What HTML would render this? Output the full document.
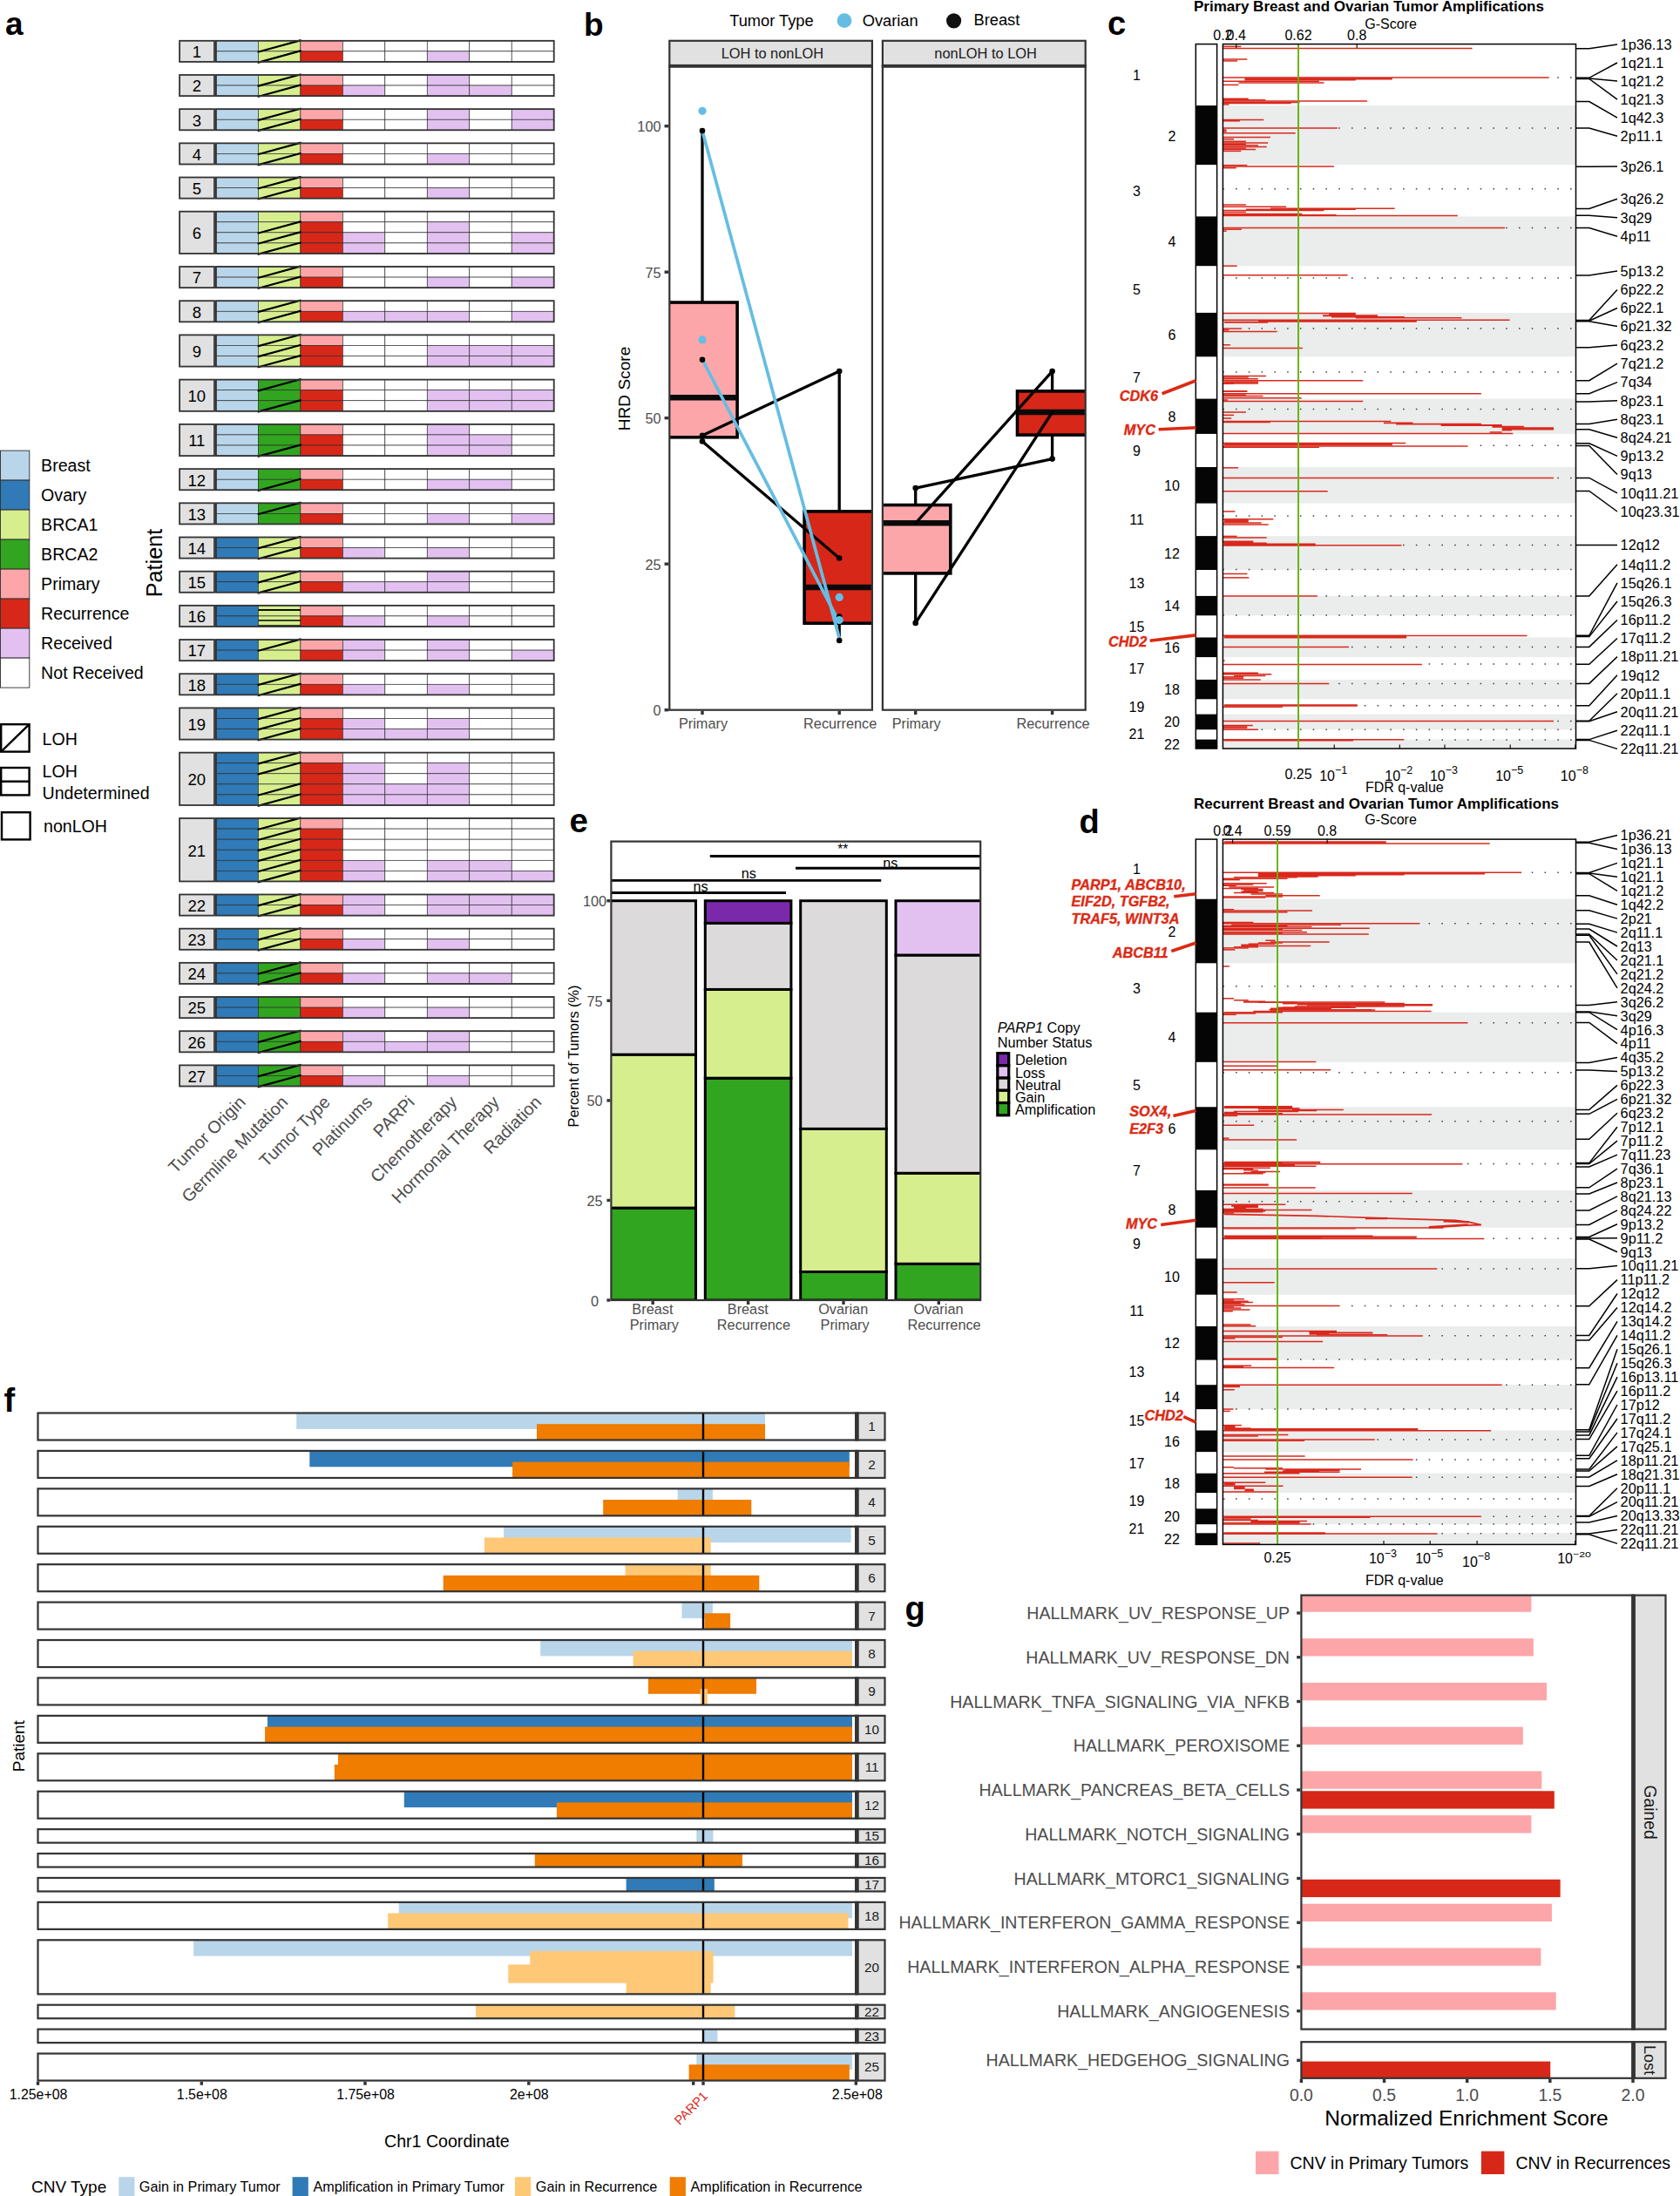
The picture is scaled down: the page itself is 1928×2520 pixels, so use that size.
<!DOCTYPE html>
<html><head><meta charset="utf-8"><title>Figure</title>
<style>html,body{margin:0;padding:0;background:#fff}svg{display:block}text{font-family:"Liberation Sans", Arial, Helvetica, sans-serif}</style>
</head><body>
<svg width="1928" height="2520" viewBox="0 0 1928 2520">
<rect width="1928" height="2520" fill="#fff"/>
<text x="6.0" y="39.8" font-size="37" font-weight="bold">a</text>
<rect x="206.10" y="46.80" width="39.90" height="24.13" fill="#e1e1e1" stroke="#333333" stroke-width="1.8"/>
<text x="225.8" y="66.2" font-size="18.5" text-anchor="middle">1</text>
<rect x="247.90" y="46.80" width="48.48" height="12.07" fill="#b9d5ea" stroke="#2a2a2a" stroke-width="0.65"/>
<rect x="296.38" y="46.80" width="48.48" height="12.07" fill="#d6ee8e" stroke="#2a2a2a" stroke-width="0.65"/>
<rect x="344.85" y="46.80" width="48.48" height="12.07" fill="#fda6a9" stroke="#2a2a2a" stroke-width="0.65"/>
<rect x="393.33" y="46.80" width="48.48" height="12.07" fill="#ffffff" stroke="#2a2a2a" stroke-width="0.65"/>
<rect x="441.80" y="46.80" width="48.48" height="12.07" fill="#ffffff" stroke="#2a2a2a" stroke-width="0.65"/>
<rect x="490.28" y="46.80" width="48.48" height="12.07" fill="#ffffff" stroke="#2a2a2a" stroke-width="0.65"/>
<rect x="538.75" y="46.80" width="48.48" height="12.07" fill="#ffffff" stroke="#2a2a2a" stroke-width="0.65"/>
<rect x="587.23" y="46.80" width="48.48" height="12.07" fill="#ffffff" stroke="#2a2a2a" stroke-width="0.65"/>
<rect x="247.90" y="58.87" width="48.48" height="12.07" fill="#b9d5ea" stroke="#2a2a2a" stroke-width="0.65"/>
<rect x="296.38" y="58.87" width="48.48" height="12.07" fill="#d6ee8e" stroke="#2a2a2a" stroke-width="0.65"/>
<rect x="344.85" y="58.87" width="48.48" height="12.07" fill="#d72718" stroke="#2a2a2a" stroke-width="0.65"/>
<rect x="393.33" y="58.87" width="48.48" height="12.07" fill="#ffffff" stroke="#2a2a2a" stroke-width="0.65"/>
<rect x="441.80" y="58.87" width="48.48" height="12.07" fill="#ffffff" stroke="#2a2a2a" stroke-width="0.65"/>
<rect x="490.28" y="58.87" width="48.48" height="12.07" fill="#e2c1f1" stroke="#2a2a2a" stroke-width="0.65"/>
<rect x="538.75" y="58.87" width="48.48" height="12.07" fill="#ffffff" stroke="#2a2a2a" stroke-width="0.65"/>
<rect x="587.23" y="58.87" width="48.48" height="12.07" fill="#ffffff" stroke="#2a2a2a" stroke-width="0.65"/>
<line x1="296.68" y1="59.47" x2="344.55" y2="46.40" stroke="#000" stroke-width="2.2" stroke-linecap="square"/>
<line x1="296.68" y1="71.53" x2="344.55" y2="58.47" stroke="#000" stroke-width="2.2" stroke-linecap="square"/>
<rect x="247.90" y="46.80" width="387.80" height="24.13" fill="none" stroke="#333333" stroke-width="1.8"/>
<rect x="206.10" y="85.98" width="39.90" height="24.13" fill="#e1e1e1" stroke="#333333" stroke-width="1.8"/>
<text x="225.8" y="105.3" font-size="18.5" text-anchor="middle">2</text>
<rect x="247.90" y="85.98" width="48.48" height="12.07" fill="#b9d5ea" stroke="#2a2a2a" stroke-width="0.65"/>
<rect x="296.38" y="85.98" width="48.48" height="12.07" fill="#d6ee8e" stroke="#2a2a2a" stroke-width="0.65"/>
<rect x="344.85" y="85.98" width="48.48" height="12.07" fill="#fda6a9" stroke="#2a2a2a" stroke-width="0.65"/>
<rect x="393.33" y="85.98" width="48.48" height="12.07" fill="#ffffff" stroke="#2a2a2a" stroke-width="0.65"/>
<rect x="441.80" y="85.98" width="48.48" height="12.07" fill="#ffffff" stroke="#2a2a2a" stroke-width="0.65"/>
<rect x="490.28" y="85.98" width="48.48" height="12.07" fill="#e2c1f1" stroke="#2a2a2a" stroke-width="0.65"/>
<rect x="538.75" y="85.98" width="48.48" height="12.07" fill="#ffffff" stroke="#2a2a2a" stroke-width="0.65"/>
<rect x="587.23" y="85.98" width="48.48" height="12.07" fill="#ffffff" stroke="#2a2a2a" stroke-width="0.65"/>
<rect x="247.90" y="98.05" width="48.48" height="12.07" fill="#b9d5ea" stroke="#2a2a2a" stroke-width="0.65"/>
<rect x="296.38" y="98.05" width="48.48" height="12.07" fill="#d6ee8e" stroke="#2a2a2a" stroke-width="0.65"/>
<rect x="344.85" y="98.05" width="48.48" height="12.07" fill="#d72718" stroke="#2a2a2a" stroke-width="0.65"/>
<rect x="393.33" y="98.05" width="48.48" height="12.07" fill="#e2c1f1" stroke="#2a2a2a" stroke-width="0.65"/>
<rect x="441.80" y="98.05" width="48.48" height="12.07" fill="#ffffff" stroke="#2a2a2a" stroke-width="0.65"/>
<rect x="490.28" y="98.05" width="48.48" height="12.07" fill="#e2c1f1" stroke="#2a2a2a" stroke-width="0.65"/>
<rect x="538.75" y="98.05" width="48.48" height="12.07" fill="#e2c1f1" stroke="#2a2a2a" stroke-width="0.65"/>
<rect x="587.23" y="98.05" width="48.48" height="12.07" fill="#ffffff" stroke="#2a2a2a" stroke-width="0.65"/>
<line x1="296.68" y1="98.65" x2="344.55" y2="85.58" stroke="#000" stroke-width="2.2" stroke-linecap="square"/>
<line x1="296.68" y1="110.71" x2="344.55" y2="97.65" stroke="#000" stroke-width="2.2" stroke-linecap="square"/>
<rect x="247.90" y="85.98" width="387.80" height="24.13" fill="none" stroke="#333333" stroke-width="1.8"/>
<rect x="206.10" y="125.16" width="39.90" height="24.13" fill="#e1e1e1" stroke="#333333" stroke-width="1.8"/>
<text x="225.8" y="144.5" font-size="18.5" text-anchor="middle">3</text>
<rect x="247.90" y="125.16" width="48.48" height="12.07" fill="#b9d5ea" stroke="#2a2a2a" stroke-width="0.65"/>
<rect x="296.38" y="125.16" width="48.48" height="12.07" fill="#d6ee8e" stroke="#2a2a2a" stroke-width="0.65"/>
<rect x="344.85" y="125.16" width="48.48" height="12.07" fill="#fda6a9" stroke="#2a2a2a" stroke-width="0.65"/>
<rect x="393.33" y="125.16" width="48.48" height="12.07" fill="#ffffff" stroke="#2a2a2a" stroke-width="0.65"/>
<rect x="441.80" y="125.16" width="48.48" height="12.07" fill="#ffffff" stroke="#2a2a2a" stroke-width="0.65"/>
<rect x="490.28" y="125.16" width="48.48" height="12.07" fill="#e2c1f1" stroke="#2a2a2a" stroke-width="0.65"/>
<rect x="538.75" y="125.16" width="48.48" height="12.07" fill="#ffffff" stroke="#2a2a2a" stroke-width="0.65"/>
<rect x="587.23" y="125.16" width="48.48" height="12.07" fill="#e2c1f1" stroke="#2a2a2a" stroke-width="0.65"/>
<rect x="247.90" y="137.23" width="48.48" height="12.07" fill="#b9d5ea" stroke="#2a2a2a" stroke-width="0.65"/>
<rect x="296.38" y="137.23" width="48.48" height="12.07" fill="#d6ee8e" stroke="#2a2a2a" stroke-width="0.65"/>
<rect x="344.85" y="137.23" width="48.48" height="12.07" fill="#d72718" stroke="#2a2a2a" stroke-width="0.65"/>
<rect x="393.33" y="137.23" width="48.48" height="12.07" fill="#ffffff" stroke="#2a2a2a" stroke-width="0.65"/>
<rect x="441.80" y="137.23" width="48.48" height="12.07" fill="#ffffff" stroke="#2a2a2a" stroke-width="0.65"/>
<rect x="490.28" y="137.23" width="48.48" height="12.07" fill="#e2c1f1" stroke="#2a2a2a" stroke-width="0.65"/>
<rect x="538.75" y="137.23" width="48.48" height="12.07" fill="#ffffff" stroke="#2a2a2a" stroke-width="0.65"/>
<rect x="587.23" y="137.23" width="48.48" height="12.07" fill="#e2c1f1" stroke="#2a2a2a" stroke-width="0.65"/>
<line x1="296.68" y1="137.83" x2="344.55" y2="124.76" stroke="#000" stroke-width="2.2" stroke-linecap="square"/>
<line x1="296.68" y1="149.90" x2="344.55" y2="136.83" stroke="#000" stroke-width="2.2" stroke-linecap="square"/>
<rect x="247.90" y="125.16" width="387.80" height="24.13" fill="none" stroke="#333333" stroke-width="1.8"/>
<rect x="206.10" y="164.35" width="39.90" height="24.13" fill="#e1e1e1" stroke="#333333" stroke-width="1.8"/>
<text x="225.8" y="183.7" font-size="18.5" text-anchor="middle">4</text>
<rect x="247.90" y="164.35" width="48.48" height="12.07" fill="#b9d5ea" stroke="#2a2a2a" stroke-width="0.65"/>
<rect x="296.38" y="164.35" width="48.48" height="12.07" fill="#d6ee8e" stroke="#2a2a2a" stroke-width="0.65"/>
<rect x="344.85" y="164.35" width="48.48" height="12.07" fill="#fda6a9" stroke="#2a2a2a" stroke-width="0.65"/>
<rect x="393.33" y="164.35" width="48.48" height="12.07" fill="#ffffff" stroke="#2a2a2a" stroke-width="0.65"/>
<rect x="441.80" y="164.35" width="48.48" height="12.07" fill="#ffffff" stroke="#2a2a2a" stroke-width="0.65"/>
<rect x="490.28" y="164.35" width="48.48" height="12.07" fill="#ffffff" stroke="#2a2a2a" stroke-width="0.65"/>
<rect x="538.75" y="164.35" width="48.48" height="12.07" fill="#ffffff" stroke="#2a2a2a" stroke-width="0.65"/>
<rect x="587.23" y="164.35" width="48.48" height="12.07" fill="#ffffff" stroke="#2a2a2a" stroke-width="0.65"/>
<rect x="247.90" y="176.41" width="48.48" height="12.07" fill="#b9d5ea" stroke="#2a2a2a" stroke-width="0.65"/>
<rect x="296.38" y="176.41" width="48.48" height="12.07" fill="#d6ee8e" stroke="#2a2a2a" stroke-width="0.65"/>
<rect x="344.85" y="176.41" width="48.48" height="12.07" fill="#d72718" stroke="#2a2a2a" stroke-width="0.65"/>
<rect x="393.33" y="176.41" width="48.48" height="12.07" fill="#ffffff" stroke="#2a2a2a" stroke-width="0.65"/>
<rect x="441.80" y="176.41" width="48.48" height="12.07" fill="#ffffff" stroke="#2a2a2a" stroke-width="0.65"/>
<rect x="490.28" y="176.41" width="48.48" height="12.07" fill="#e2c1f1" stroke="#2a2a2a" stroke-width="0.65"/>
<rect x="538.75" y="176.41" width="48.48" height="12.07" fill="#ffffff" stroke="#2a2a2a" stroke-width="0.65"/>
<rect x="587.23" y="176.41" width="48.48" height="12.07" fill="#ffffff" stroke="#2a2a2a" stroke-width="0.65"/>
<line x1="296.68" y1="177.01" x2="344.55" y2="163.95" stroke="#000" stroke-width="2.2" stroke-linecap="square"/>
<line x1="296.68" y1="189.08" x2="344.55" y2="176.01" stroke="#000" stroke-width="2.2" stroke-linecap="square"/>
<rect x="247.90" y="164.35" width="387.80" height="24.13" fill="none" stroke="#333333" stroke-width="1.8"/>
<rect x="206.10" y="203.53" width="39.90" height="24.13" fill="#e1e1e1" stroke="#333333" stroke-width="1.8"/>
<text x="225.8" y="222.9" font-size="18.5" text-anchor="middle">5</text>
<rect x="247.90" y="203.53" width="48.48" height="12.07" fill="#b9d5ea" stroke="#2a2a2a" stroke-width="0.65"/>
<rect x="296.38" y="203.53" width="48.48" height="12.07" fill="#d6ee8e" stroke="#2a2a2a" stroke-width="0.65"/>
<rect x="344.85" y="203.53" width="48.48" height="12.07" fill="#fda6a9" stroke="#2a2a2a" stroke-width="0.65"/>
<rect x="393.33" y="203.53" width="48.48" height="12.07" fill="#ffffff" stroke="#2a2a2a" stroke-width="0.65"/>
<rect x="441.80" y="203.53" width="48.48" height="12.07" fill="#ffffff" stroke="#2a2a2a" stroke-width="0.65"/>
<rect x="490.28" y="203.53" width="48.48" height="12.07" fill="#ffffff" stroke="#2a2a2a" stroke-width="0.65"/>
<rect x="538.75" y="203.53" width="48.48" height="12.07" fill="#ffffff" stroke="#2a2a2a" stroke-width="0.65"/>
<rect x="587.23" y="203.53" width="48.48" height="12.07" fill="#ffffff" stroke="#2a2a2a" stroke-width="0.65"/>
<rect x="247.90" y="215.59" width="48.48" height="12.07" fill="#b9d5ea" stroke="#2a2a2a" stroke-width="0.65"/>
<rect x="296.38" y="215.59" width="48.48" height="12.07" fill="#d6ee8e" stroke="#2a2a2a" stroke-width="0.65"/>
<rect x="344.85" y="215.59" width="48.48" height="12.07" fill="#d72718" stroke="#2a2a2a" stroke-width="0.65"/>
<rect x="393.33" y="215.59" width="48.48" height="12.07" fill="#ffffff" stroke="#2a2a2a" stroke-width="0.65"/>
<rect x="441.80" y="215.59" width="48.48" height="12.07" fill="#ffffff" stroke="#2a2a2a" stroke-width="0.65"/>
<rect x="490.28" y="215.59" width="48.48" height="12.07" fill="#e2c1f1" stroke="#2a2a2a" stroke-width="0.65"/>
<rect x="538.75" y="215.59" width="48.48" height="12.07" fill="#ffffff" stroke="#2a2a2a" stroke-width="0.65"/>
<rect x="587.23" y="215.59" width="48.48" height="12.07" fill="#ffffff" stroke="#2a2a2a" stroke-width="0.65"/>
<line x1="296.68" y1="216.19" x2="344.55" y2="203.13" stroke="#000" stroke-width="2.2" stroke-linecap="square"/>
<line x1="296.68" y1="228.26" x2="344.55" y2="215.19" stroke="#000" stroke-width="2.2" stroke-linecap="square"/>
<rect x="247.90" y="203.53" width="387.80" height="24.13" fill="none" stroke="#333333" stroke-width="1.8"/>
<rect x="206.10" y="242.71" width="39.90" height="48.26" fill="#e1e1e1" stroke="#333333" stroke-width="1.8"/>
<text x="225.8" y="274.1" font-size="18.5" text-anchor="middle">6</text>
<rect x="247.90" y="242.71" width="48.48" height="12.07" fill="#b9d5ea" stroke="#2a2a2a" stroke-width="0.65"/>
<rect x="296.38" y="242.71" width="48.48" height="12.07" fill="#d6ee8e" stroke="#2a2a2a" stroke-width="0.65"/>
<rect x="344.85" y="242.71" width="48.48" height="12.07" fill="#fda6a9" stroke="#2a2a2a" stroke-width="0.65"/>
<rect x="393.33" y="242.71" width="48.48" height="12.07" fill="#ffffff" stroke="#2a2a2a" stroke-width="0.65"/>
<rect x="441.80" y="242.71" width="48.48" height="12.07" fill="#ffffff" stroke="#2a2a2a" stroke-width="0.65"/>
<rect x="490.28" y="242.71" width="48.48" height="12.07" fill="#ffffff" stroke="#2a2a2a" stroke-width="0.65"/>
<rect x="538.75" y="242.71" width="48.48" height="12.07" fill="#ffffff" stroke="#2a2a2a" stroke-width="0.65"/>
<rect x="587.23" y="242.71" width="48.48" height="12.07" fill="#ffffff" stroke="#2a2a2a" stroke-width="0.65"/>
<rect x="247.90" y="254.78" width="48.48" height="12.07" fill="#b9d5ea" stroke="#2a2a2a" stroke-width="0.65"/>
<rect x="296.38" y="254.78" width="48.48" height="12.07" fill="#d6ee8e" stroke="#2a2a2a" stroke-width="0.65"/>
<rect x="344.85" y="254.78" width="48.48" height="12.07" fill="#d72718" stroke="#2a2a2a" stroke-width="0.65"/>
<rect x="393.33" y="254.78" width="48.48" height="12.07" fill="#ffffff" stroke="#2a2a2a" stroke-width="0.65"/>
<rect x="441.80" y="254.78" width="48.48" height="12.07" fill="#ffffff" stroke="#2a2a2a" stroke-width="0.65"/>
<rect x="490.28" y="254.78" width="48.48" height="12.07" fill="#e2c1f1" stroke="#2a2a2a" stroke-width="0.65"/>
<rect x="538.75" y="254.78" width="48.48" height="12.07" fill="#ffffff" stroke="#2a2a2a" stroke-width="0.65"/>
<rect x="587.23" y="254.78" width="48.48" height="12.07" fill="#ffffff" stroke="#2a2a2a" stroke-width="0.65"/>
<rect x="247.90" y="266.84" width="48.48" height="12.07" fill="#b9d5ea" stroke="#2a2a2a" stroke-width="0.65"/>
<rect x="296.38" y="266.84" width="48.48" height="12.07" fill="#d6ee8e" stroke="#2a2a2a" stroke-width="0.65"/>
<rect x="344.85" y="266.84" width="48.48" height="12.07" fill="#d72718" stroke="#2a2a2a" stroke-width="0.65"/>
<rect x="393.33" y="266.84" width="48.48" height="12.07" fill="#e2c1f1" stroke="#2a2a2a" stroke-width="0.65"/>
<rect x="441.80" y="266.84" width="48.48" height="12.07" fill="#ffffff" stroke="#2a2a2a" stroke-width="0.65"/>
<rect x="490.28" y="266.84" width="48.48" height="12.07" fill="#e2c1f1" stroke="#2a2a2a" stroke-width="0.65"/>
<rect x="538.75" y="266.84" width="48.48" height="12.07" fill="#ffffff" stroke="#2a2a2a" stroke-width="0.65"/>
<rect x="587.23" y="266.84" width="48.48" height="12.07" fill="#e2c1f1" stroke="#2a2a2a" stroke-width="0.65"/>
<rect x="247.90" y="278.91" width="48.48" height="12.07" fill="#b9d5ea" stroke="#2a2a2a" stroke-width="0.65"/>
<rect x="296.38" y="278.91" width="48.48" height="12.07" fill="#d6ee8e" stroke="#2a2a2a" stroke-width="0.65"/>
<rect x="344.85" y="278.91" width="48.48" height="12.07" fill="#d72718" stroke="#2a2a2a" stroke-width="0.65"/>
<rect x="393.33" y="278.91" width="48.48" height="12.07" fill="#e2c1f1" stroke="#2a2a2a" stroke-width="0.65"/>
<rect x="441.80" y="278.91" width="48.48" height="12.07" fill="#ffffff" stroke="#2a2a2a" stroke-width="0.65"/>
<rect x="490.28" y="278.91" width="48.48" height="12.07" fill="#e2c1f1" stroke="#2a2a2a" stroke-width="0.65"/>
<rect x="538.75" y="278.91" width="48.48" height="12.07" fill="#ffffff" stroke="#2a2a2a" stroke-width="0.65"/>
<rect x="587.23" y="278.91" width="48.48" height="12.07" fill="#e2c1f1" stroke="#2a2a2a" stroke-width="0.65"/>
<line x1="296.68" y1="267.44" x2="344.55" y2="254.38" stroke="#000" stroke-width="2.2" stroke-linecap="square"/>
<line x1="296.68" y1="279.51" x2="344.55" y2="266.44" stroke="#000" stroke-width="2.2" stroke-linecap="square"/>
<line x1="296.68" y1="291.57" x2="344.55" y2="278.51" stroke="#000" stroke-width="2.2" stroke-linecap="square"/>
<rect x="247.90" y="242.71" width="387.80" height="48.26" fill="none" stroke="#333333" stroke-width="1.8"/>
<rect x="206.10" y="306.02" width="39.90" height="24.13" fill="#e1e1e1" stroke="#333333" stroke-width="1.8"/>
<text x="225.8" y="325.4" font-size="18.5" text-anchor="middle">7</text>
<rect x="247.90" y="306.02" width="48.48" height="12.07" fill="#b9d5ea" stroke="#2a2a2a" stroke-width="0.65"/>
<rect x="296.38" y="306.02" width="48.48" height="12.07" fill="#d6ee8e" stroke="#2a2a2a" stroke-width="0.65"/>
<rect x="344.85" y="306.02" width="48.48" height="12.07" fill="#fda6a9" stroke="#2a2a2a" stroke-width="0.65"/>
<rect x="393.33" y="306.02" width="48.48" height="12.07" fill="#ffffff" stroke="#2a2a2a" stroke-width="0.65"/>
<rect x="441.80" y="306.02" width="48.48" height="12.07" fill="#ffffff" stroke="#2a2a2a" stroke-width="0.65"/>
<rect x="490.28" y="306.02" width="48.48" height="12.07" fill="#ffffff" stroke="#2a2a2a" stroke-width="0.65"/>
<rect x="538.75" y="306.02" width="48.48" height="12.07" fill="#ffffff" stroke="#2a2a2a" stroke-width="0.65"/>
<rect x="587.23" y="306.02" width="48.48" height="12.07" fill="#ffffff" stroke="#2a2a2a" stroke-width="0.65"/>
<rect x="247.90" y="318.09" width="48.48" height="12.07" fill="#b9d5ea" stroke="#2a2a2a" stroke-width="0.65"/>
<rect x="296.38" y="318.09" width="48.48" height="12.07" fill="#d6ee8e" stroke="#2a2a2a" stroke-width="0.65"/>
<rect x="344.85" y="318.09" width="48.48" height="12.07" fill="#d72718" stroke="#2a2a2a" stroke-width="0.65"/>
<rect x="393.33" y="318.09" width="48.48" height="12.07" fill="#ffffff" stroke="#2a2a2a" stroke-width="0.65"/>
<rect x="441.80" y="318.09" width="48.48" height="12.07" fill="#ffffff" stroke="#2a2a2a" stroke-width="0.65"/>
<rect x="490.28" y="318.09" width="48.48" height="12.07" fill="#e2c1f1" stroke="#2a2a2a" stroke-width="0.65"/>
<rect x="538.75" y="318.09" width="48.48" height="12.07" fill="#ffffff" stroke="#2a2a2a" stroke-width="0.65"/>
<rect x="587.23" y="318.09" width="48.48" height="12.07" fill="#e2c1f1" stroke="#2a2a2a" stroke-width="0.65"/>
<line x1="296.68" y1="318.69" x2="344.55" y2="305.62" stroke="#000" stroke-width="2.2" stroke-linecap="square"/>
<line x1="296.68" y1="330.76" x2="344.55" y2="317.69" stroke="#000" stroke-width="2.2" stroke-linecap="square"/>
<rect x="247.90" y="306.02" width="387.80" height="24.13" fill="none" stroke="#333333" stroke-width="1.8"/>
<rect x="206.10" y="345.21" width="39.90" height="24.13" fill="#e1e1e1" stroke="#333333" stroke-width="1.8"/>
<text x="225.8" y="364.6" font-size="18.5" text-anchor="middle">8</text>
<rect x="247.90" y="345.21" width="48.48" height="12.07" fill="#b9d5ea" stroke="#2a2a2a" stroke-width="0.65"/>
<rect x="296.38" y="345.21" width="48.48" height="12.07" fill="#d6ee8e" stroke="#2a2a2a" stroke-width="0.65"/>
<rect x="344.85" y="345.21" width="48.48" height="12.07" fill="#fda6a9" stroke="#2a2a2a" stroke-width="0.65"/>
<rect x="393.33" y="345.21" width="48.48" height="12.07" fill="#ffffff" stroke="#2a2a2a" stroke-width="0.65"/>
<rect x="441.80" y="345.21" width="48.48" height="12.07" fill="#ffffff" stroke="#2a2a2a" stroke-width="0.65"/>
<rect x="490.28" y="345.21" width="48.48" height="12.07" fill="#ffffff" stroke="#2a2a2a" stroke-width="0.65"/>
<rect x="538.75" y="345.21" width="48.48" height="12.07" fill="#ffffff" stroke="#2a2a2a" stroke-width="0.65"/>
<rect x="587.23" y="345.21" width="48.48" height="12.07" fill="#ffffff" stroke="#2a2a2a" stroke-width="0.65"/>
<rect x="247.90" y="357.27" width="48.48" height="12.07" fill="#b9d5ea" stroke="#2a2a2a" stroke-width="0.65"/>
<rect x="296.38" y="357.27" width="48.48" height="12.07" fill="#d6ee8e" stroke="#2a2a2a" stroke-width="0.65"/>
<rect x="344.85" y="357.27" width="48.48" height="12.07" fill="#d72718" stroke="#2a2a2a" stroke-width="0.65"/>
<rect x="393.33" y="357.27" width="48.48" height="12.07" fill="#e2c1f1" stroke="#2a2a2a" stroke-width="0.65"/>
<rect x="441.80" y="357.27" width="48.48" height="12.07" fill="#e2c1f1" stroke="#2a2a2a" stroke-width="0.65"/>
<rect x="490.28" y="357.27" width="48.48" height="12.07" fill="#e2c1f1" stroke="#2a2a2a" stroke-width="0.65"/>
<rect x="538.75" y="357.27" width="48.48" height="12.07" fill="#ffffff" stroke="#2a2a2a" stroke-width="0.65"/>
<rect x="587.23" y="357.27" width="48.48" height="12.07" fill="#e2c1f1" stroke="#2a2a2a" stroke-width="0.65"/>
<line x1="296.68" y1="357.87" x2="344.55" y2="344.81" stroke="#000" stroke-width="2.2" stroke-linecap="square"/>
<line x1="296.68" y1="369.94" x2="344.55" y2="356.87" stroke="#000" stroke-width="2.2" stroke-linecap="square"/>
<rect x="247.90" y="345.21" width="387.80" height="24.13" fill="none" stroke="#333333" stroke-width="1.8"/>
<rect x="206.10" y="384.39" width="39.90" height="36.20" fill="#e1e1e1" stroke="#333333" stroke-width="1.8"/>
<text x="225.8" y="409.8" font-size="18.5" text-anchor="middle">9</text>
<rect x="247.90" y="384.39" width="48.48" height="12.07" fill="#b9d5ea" stroke="#2a2a2a" stroke-width="0.65"/>
<rect x="296.38" y="384.39" width="48.48" height="12.07" fill="#d6ee8e" stroke="#2a2a2a" stroke-width="0.65"/>
<rect x="344.85" y="384.39" width="48.48" height="12.07" fill="#fda6a9" stroke="#2a2a2a" stroke-width="0.65"/>
<rect x="393.33" y="384.39" width="48.48" height="12.07" fill="#ffffff" stroke="#2a2a2a" stroke-width="0.65"/>
<rect x="441.80" y="384.39" width="48.48" height="12.07" fill="#ffffff" stroke="#2a2a2a" stroke-width="0.65"/>
<rect x="490.28" y="384.39" width="48.48" height="12.07" fill="#ffffff" stroke="#2a2a2a" stroke-width="0.65"/>
<rect x="538.75" y="384.39" width="48.48" height="12.07" fill="#ffffff" stroke="#2a2a2a" stroke-width="0.65"/>
<rect x="587.23" y="384.39" width="48.48" height="12.07" fill="#ffffff" stroke="#2a2a2a" stroke-width="0.65"/>
<rect x="247.90" y="396.45" width="48.48" height="12.07" fill="#b9d5ea" stroke="#2a2a2a" stroke-width="0.65"/>
<rect x="296.38" y="396.45" width="48.48" height="12.07" fill="#d6ee8e" stroke="#2a2a2a" stroke-width="0.65"/>
<rect x="344.85" y="396.45" width="48.48" height="12.07" fill="#d72718" stroke="#2a2a2a" stroke-width="0.65"/>
<rect x="393.33" y="396.45" width="48.48" height="12.07" fill="#ffffff" stroke="#2a2a2a" stroke-width="0.65"/>
<rect x="441.80" y="396.45" width="48.48" height="12.07" fill="#ffffff" stroke="#2a2a2a" stroke-width="0.65"/>
<rect x="490.28" y="396.45" width="48.48" height="12.07" fill="#e2c1f1" stroke="#2a2a2a" stroke-width="0.65"/>
<rect x="538.75" y="396.45" width="48.48" height="12.07" fill="#e2c1f1" stroke="#2a2a2a" stroke-width="0.65"/>
<rect x="587.23" y="396.45" width="48.48" height="12.07" fill="#e2c1f1" stroke="#2a2a2a" stroke-width="0.65"/>
<rect x="247.90" y="408.52" width="48.48" height="12.07" fill="#b9d5ea" stroke="#2a2a2a" stroke-width="0.65"/>
<rect x="296.38" y="408.52" width="48.48" height="12.07" fill="#d6ee8e" stroke="#2a2a2a" stroke-width="0.65"/>
<rect x="344.85" y="408.52" width="48.48" height="12.07" fill="#d72718" stroke="#2a2a2a" stroke-width="0.65"/>
<rect x="393.33" y="408.52" width="48.48" height="12.07" fill="#ffffff" stroke="#2a2a2a" stroke-width="0.65"/>
<rect x="441.80" y="408.52" width="48.48" height="12.07" fill="#ffffff" stroke="#2a2a2a" stroke-width="0.65"/>
<rect x="490.28" y="408.52" width="48.48" height="12.07" fill="#e2c1f1" stroke="#2a2a2a" stroke-width="0.65"/>
<rect x="538.75" y="408.52" width="48.48" height="12.07" fill="#e2c1f1" stroke="#2a2a2a" stroke-width="0.65"/>
<rect x="587.23" y="408.52" width="48.48" height="12.07" fill="#e2c1f1" stroke="#2a2a2a" stroke-width="0.65"/>
<line x1="296.68" y1="397.05" x2="344.55" y2="383.99" stroke="#000" stroke-width="2.2" stroke-linecap="square"/>
<line x1="296.68" y1="409.12" x2="344.55" y2="396.05" stroke="#000" stroke-width="2.2" stroke-linecap="square"/>
<line x1="296.68" y1="421.19" x2="344.55" y2="408.12" stroke="#000" stroke-width="2.2" stroke-linecap="square"/>
<rect x="247.90" y="384.39" width="387.80" height="36.20" fill="none" stroke="#333333" stroke-width="1.8"/>
<rect x="206.10" y="435.64" width="39.90" height="36.20" fill="#e1e1e1" stroke="#333333" stroke-width="1.8"/>
<text x="225.8" y="461.0" font-size="18.5" text-anchor="middle">10</text>
<rect x="247.90" y="435.64" width="48.48" height="12.07" fill="#b9d5ea" stroke="#2a2a2a" stroke-width="0.65"/>
<rect x="296.38" y="435.64" width="48.48" height="12.07" fill="#31a51f" stroke="#2a2a2a" stroke-width="0.65"/>
<rect x="344.85" y="435.64" width="48.48" height="12.07" fill="#fda6a9" stroke="#2a2a2a" stroke-width="0.65"/>
<rect x="393.33" y="435.64" width="48.48" height="12.07" fill="#ffffff" stroke="#2a2a2a" stroke-width="0.65"/>
<rect x="441.80" y="435.64" width="48.48" height="12.07" fill="#ffffff" stroke="#2a2a2a" stroke-width="0.65"/>
<rect x="490.28" y="435.64" width="48.48" height="12.07" fill="#ffffff" stroke="#2a2a2a" stroke-width="0.65"/>
<rect x="538.75" y="435.64" width="48.48" height="12.07" fill="#ffffff" stroke="#2a2a2a" stroke-width="0.65"/>
<rect x="587.23" y="435.64" width="48.48" height="12.07" fill="#ffffff" stroke="#2a2a2a" stroke-width="0.65"/>
<rect x="247.90" y="447.70" width="48.48" height="12.07" fill="#b9d5ea" stroke="#2a2a2a" stroke-width="0.65"/>
<rect x="296.38" y="447.70" width="48.48" height="12.07" fill="#31a51f" stroke="#2a2a2a" stroke-width="0.65"/>
<rect x="344.85" y="447.70" width="48.48" height="12.07" fill="#d72718" stroke="#2a2a2a" stroke-width="0.65"/>
<rect x="393.33" y="447.70" width="48.48" height="12.07" fill="#ffffff" stroke="#2a2a2a" stroke-width="0.65"/>
<rect x="441.80" y="447.70" width="48.48" height="12.07" fill="#ffffff" stroke="#2a2a2a" stroke-width="0.65"/>
<rect x="490.28" y="447.70" width="48.48" height="12.07" fill="#e2c1f1" stroke="#2a2a2a" stroke-width="0.65"/>
<rect x="538.75" y="447.70" width="48.48" height="12.07" fill="#e2c1f1" stroke="#2a2a2a" stroke-width="0.65"/>
<rect x="587.23" y="447.70" width="48.48" height="12.07" fill="#e2c1f1" stroke="#2a2a2a" stroke-width="0.65"/>
<rect x="247.90" y="459.77" width="48.48" height="12.07" fill="#b9d5ea" stroke="#2a2a2a" stroke-width="0.65"/>
<rect x="296.38" y="459.77" width="48.48" height="12.07" fill="#31a51f" stroke="#2a2a2a" stroke-width="0.65"/>
<rect x="344.85" y="459.77" width="48.48" height="12.07" fill="#d72718" stroke="#2a2a2a" stroke-width="0.65"/>
<rect x="393.33" y="459.77" width="48.48" height="12.07" fill="#ffffff" stroke="#2a2a2a" stroke-width="0.65"/>
<rect x="441.80" y="459.77" width="48.48" height="12.07" fill="#ffffff" stroke="#2a2a2a" stroke-width="0.65"/>
<rect x="490.28" y="459.77" width="48.48" height="12.07" fill="#e2c1f1" stroke="#2a2a2a" stroke-width="0.65"/>
<rect x="538.75" y="459.77" width="48.48" height="12.07" fill="#e2c1f1" stroke="#2a2a2a" stroke-width="0.65"/>
<rect x="587.23" y="459.77" width="48.48" height="12.07" fill="#e2c1f1" stroke="#2a2a2a" stroke-width="0.65"/>
<line x1="296.68" y1="448.30" x2="344.55" y2="435.24" stroke="#000" stroke-width="2.2" stroke-linecap="square"/>
<line x1="296.68" y1="472.43" x2="344.55" y2="459.37" stroke="#000" stroke-width="2.2" stroke-linecap="square"/>
<rect x="247.90" y="435.64" width="387.80" height="36.20" fill="none" stroke="#333333" stroke-width="1.8"/>
<rect x="206.10" y="486.88" width="39.90" height="36.20" fill="#e1e1e1" stroke="#333333" stroke-width="1.8"/>
<text x="225.8" y="512.3" font-size="18.5" text-anchor="middle">11</text>
<rect x="247.90" y="486.88" width="48.48" height="12.07" fill="#b9d5ea" stroke="#2a2a2a" stroke-width="0.65"/>
<rect x="296.38" y="486.88" width="48.48" height="12.07" fill="#31a51f" stroke="#2a2a2a" stroke-width="0.65"/>
<rect x="344.85" y="486.88" width="48.48" height="12.07" fill="#fda6a9" stroke="#2a2a2a" stroke-width="0.65"/>
<rect x="393.33" y="486.88" width="48.48" height="12.07" fill="#ffffff" stroke="#2a2a2a" stroke-width="0.65"/>
<rect x="441.80" y="486.88" width="48.48" height="12.07" fill="#ffffff" stroke="#2a2a2a" stroke-width="0.65"/>
<rect x="490.28" y="486.88" width="48.48" height="12.07" fill="#e2c1f1" stroke="#2a2a2a" stroke-width="0.65"/>
<rect x="538.75" y="486.88" width="48.48" height="12.07" fill="#ffffff" stroke="#2a2a2a" stroke-width="0.65"/>
<rect x="587.23" y="486.88" width="48.48" height="12.07" fill="#ffffff" stroke="#2a2a2a" stroke-width="0.65"/>
<rect x="247.90" y="498.95" width="48.48" height="12.07" fill="#b9d5ea" stroke="#2a2a2a" stroke-width="0.65"/>
<rect x="296.38" y="498.95" width="48.48" height="12.07" fill="#31a51f" stroke="#2a2a2a" stroke-width="0.65"/>
<rect x="344.85" y="498.95" width="48.48" height="12.07" fill="#d72718" stroke="#2a2a2a" stroke-width="0.65"/>
<rect x="393.33" y="498.95" width="48.48" height="12.07" fill="#ffffff" stroke="#2a2a2a" stroke-width="0.65"/>
<rect x="441.80" y="498.95" width="48.48" height="12.07" fill="#ffffff" stroke="#2a2a2a" stroke-width="0.65"/>
<rect x="490.28" y="498.95" width="48.48" height="12.07" fill="#e2c1f1" stroke="#2a2a2a" stroke-width="0.65"/>
<rect x="538.75" y="498.95" width="48.48" height="12.07" fill="#e2c1f1" stroke="#2a2a2a" stroke-width="0.65"/>
<rect x="587.23" y="498.95" width="48.48" height="12.07" fill="#ffffff" stroke="#2a2a2a" stroke-width="0.65"/>
<rect x="247.90" y="511.02" width="48.48" height="12.07" fill="#b9d5ea" stroke="#2a2a2a" stroke-width="0.65"/>
<rect x="296.38" y="511.02" width="48.48" height="12.07" fill="#31a51f" stroke="#2a2a2a" stroke-width="0.65"/>
<rect x="344.85" y="511.02" width="48.48" height="12.07" fill="#d72718" stroke="#2a2a2a" stroke-width="0.65"/>
<rect x="393.33" y="511.02" width="48.48" height="12.07" fill="#ffffff" stroke="#2a2a2a" stroke-width="0.65"/>
<rect x="441.80" y="511.02" width="48.48" height="12.07" fill="#ffffff" stroke="#2a2a2a" stroke-width="0.65"/>
<rect x="490.28" y="511.02" width="48.48" height="12.07" fill="#e2c1f1" stroke="#2a2a2a" stroke-width="0.65"/>
<rect x="538.75" y="511.02" width="48.48" height="12.07" fill="#e2c1f1" stroke="#2a2a2a" stroke-width="0.65"/>
<rect x="587.23" y="511.02" width="48.48" height="12.07" fill="#ffffff" stroke="#2a2a2a" stroke-width="0.65"/>
<line x1="296.68" y1="523.68" x2="344.55" y2="510.62" stroke="#000" stroke-width="2.2" stroke-linecap="square"/>
<rect x="247.90" y="486.88" width="387.80" height="36.20" fill="none" stroke="#333333" stroke-width="1.8"/>
<rect x="206.10" y="538.13" width="39.90" height="24.13" fill="#e1e1e1" stroke="#333333" stroke-width="1.8"/>
<text x="225.8" y="557.5" font-size="18.5" text-anchor="middle">12</text>
<rect x="247.90" y="538.13" width="48.48" height="12.07" fill="#b9d5ea" stroke="#2a2a2a" stroke-width="0.65"/>
<rect x="296.38" y="538.13" width="48.48" height="12.07" fill="#31a51f" stroke="#2a2a2a" stroke-width="0.65"/>
<rect x="344.85" y="538.13" width="48.48" height="12.07" fill="#fda6a9" stroke="#2a2a2a" stroke-width="0.65"/>
<rect x="393.33" y="538.13" width="48.48" height="12.07" fill="#ffffff" stroke="#2a2a2a" stroke-width="0.65"/>
<rect x="441.80" y="538.13" width="48.48" height="12.07" fill="#ffffff" stroke="#2a2a2a" stroke-width="0.65"/>
<rect x="490.28" y="538.13" width="48.48" height="12.07" fill="#ffffff" stroke="#2a2a2a" stroke-width="0.65"/>
<rect x="538.75" y="538.13" width="48.48" height="12.07" fill="#ffffff" stroke="#2a2a2a" stroke-width="0.65"/>
<rect x="587.23" y="538.13" width="48.48" height="12.07" fill="#ffffff" stroke="#2a2a2a" stroke-width="0.65"/>
<rect x="247.90" y="550.20" width="48.48" height="12.07" fill="#b9d5ea" stroke="#2a2a2a" stroke-width="0.65"/>
<rect x="296.38" y="550.20" width="48.48" height="12.07" fill="#31a51f" stroke="#2a2a2a" stroke-width="0.65"/>
<rect x="344.85" y="550.20" width="48.48" height="12.07" fill="#d72718" stroke="#2a2a2a" stroke-width="0.65"/>
<rect x="393.33" y="550.20" width="48.48" height="12.07" fill="#ffffff" stroke="#2a2a2a" stroke-width="0.65"/>
<rect x="441.80" y="550.20" width="48.48" height="12.07" fill="#ffffff" stroke="#2a2a2a" stroke-width="0.65"/>
<rect x="490.28" y="550.20" width="48.48" height="12.07" fill="#e2c1f1" stroke="#2a2a2a" stroke-width="0.65"/>
<rect x="538.75" y="550.20" width="48.48" height="12.07" fill="#e2c1f1" stroke="#2a2a2a" stroke-width="0.65"/>
<rect x="587.23" y="550.20" width="48.48" height="12.07" fill="#ffffff" stroke="#2a2a2a" stroke-width="0.65"/>
<line x1="296.68" y1="562.86" x2="344.55" y2="549.80" stroke="#000" stroke-width="2.2" stroke-linecap="square"/>
<rect x="247.90" y="538.13" width="387.80" height="24.13" fill="none" stroke="#333333" stroke-width="1.8"/>
<rect x="206.10" y="577.31" width="39.90" height="24.13" fill="#e1e1e1" stroke="#333333" stroke-width="1.8"/>
<text x="225.8" y="596.7" font-size="18.5" text-anchor="middle">13</text>
<rect x="247.90" y="577.31" width="48.48" height="12.07" fill="#b9d5ea" stroke="#2a2a2a" stroke-width="0.65"/>
<rect x="296.38" y="577.31" width="48.48" height="12.07" fill="#31a51f" stroke="#2a2a2a" stroke-width="0.65"/>
<rect x="344.85" y="577.31" width="48.48" height="12.07" fill="#fda6a9" stroke="#2a2a2a" stroke-width="0.65"/>
<rect x="393.33" y="577.31" width="48.48" height="12.07" fill="#ffffff" stroke="#2a2a2a" stroke-width="0.65"/>
<rect x="441.80" y="577.31" width="48.48" height="12.07" fill="#ffffff" stroke="#2a2a2a" stroke-width="0.65"/>
<rect x="490.28" y="577.31" width="48.48" height="12.07" fill="#ffffff" stroke="#2a2a2a" stroke-width="0.65"/>
<rect x="538.75" y="577.31" width="48.48" height="12.07" fill="#ffffff" stroke="#2a2a2a" stroke-width="0.65"/>
<rect x="587.23" y="577.31" width="48.48" height="12.07" fill="#ffffff" stroke="#2a2a2a" stroke-width="0.65"/>
<rect x="247.90" y="589.38" width="48.48" height="12.07" fill="#b9d5ea" stroke="#2a2a2a" stroke-width="0.65"/>
<rect x="296.38" y="589.38" width="48.48" height="12.07" fill="#31a51f" stroke="#2a2a2a" stroke-width="0.65"/>
<rect x="344.85" y="589.38" width="48.48" height="12.07" fill="#d72718" stroke="#2a2a2a" stroke-width="0.65"/>
<rect x="393.33" y="589.38" width="48.48" height="12.07" fill="#ffffff" stroke="#2a2a2a" stroke-width="0.65"/>
<rect x="441.80" y="589.38" width="48.48" height="12.07" fill="#ffffff" stroke="#2a2a2a" stroke-width="0.65"/>
<rect x="490.28" y="589.38" width="48.48" height="12.07" fill="#e2c1f1" stroke="#2a2a2a" stroke-width="0.65"/>
<rect x="538.75" y="589.38" width="48.48" height="12.07" fill="#ffffff" stroke="#2a2a2a" stroke-width="0.65"/>
<rect x="587.23" y="589.38" width="48.48" height="12.07" fill="#e2c1f1" stroke="#2a2a2a" stroke-width="0.65"/>
<line x1="296.68" y1="589.98" x2="344.55" y2="576.91" stroke="#000" stroke-width="2.2" stroke-linecap="square"/>
<rect x="247.90" y="577.31" width="387.80" height="24.13" fill="none" stroke="#333333" stroke-width="1.8"/>
<rect x="206.10" y="616.50" width="39.90" height="24.13" fill="#e1e1e1" stroke="#333333" stroke-width="1.8"/>
<text x="225.8" y="635.9" font-size="18.5" text-anchor="middle">14</text>
<rect x="247.90" y="616.50" width="48.48" height="12.07" fill="#2f7ab7" stroke="#2a2a2a" stroke-width="0.65"/>
<rect x="296.38" y="616.50" width="48.48" height="12.07" fill="#d6ee8e" stroke="#2a2a2a" stroke-width="0.65"/>
<rect x="344.85" y="616.50" width="48.48" height="12.07" fill="#fda6a9" stroke="#2a2a2a" stroke-width="0.65"/>
<rect x="393.33" y="616.50" width="48.48" height="12.07" fill="#ffffff" stroke="#2a2a2a" stroke-width="0.65"/>
<rect x="441.80" y="616.50" width="48.48" height="12.07" fill="#ffffff" stroke="#2a2a2a" stroke-width="0.65"/>
<rect x="490.28" y="616.50" width="48.48" height="12.07" fill="#ffffff" stroke="#2a2a2a" stroke-width="0.65"/>
<rect x="538.75" y="616.50" width="48.48" height="12.07" fill="#ffffff" stroke="#2a2a2a" stroke-width="0.65"/>
<rect x="587.23" y="616.50" width="48.48" height="12.07" fill="#ffffff" stroke="#2a2a2a" stroke-width="0.65"/>
<rect x="247.90" y="628.56" width="48.48" height="12.07" fill="#2f7ab7" stroke="#2a2a2a" stroke-width="0.65"/>
<rect x="296.38" y="628.56" width="48.48" height="12.07" fill="#d6ee8e" stroke="#2a2a2a" stroke-width="0.65"/>
<rect x="344.85" y="628.56" width="48.48" height="12.07" fill="#d72718" stroke="#2a2a2a" stroke-width="0.65"/>
<rect x="393.33" y="628.56" width="48.48" height="12.07" fill="#e2c1f1" stroke="#2a2a2a" stroke-width="0.65"/>
<rect x="441.80" y="628.56" width="48.48" height="12.07" fill="#ffffff" stroke="#2a2a2a" stroke-width="0.65"/>
<rect x="490.28" y="628.56" width="48.48" height="12.07" fill="#e2c1f1" stroke="#2a2a2a" stroke-width="0.65"/>
<rect x="538.75" y="628.56" width="48.48" height="12.07" fill="#ffffff" stroke="#2a2a2a" stroke-width="0.65"/>
<rect x="587.23" y="628.56" width="48.48" height="12.07" fill="#ffffff" stroke="#2a2a2a" stroke-width="0.65"/>
<line x1="296.68" y1="629.16" x2="344.55" y2="616.10" stroke="#000" stroke-width="2.2" stroke-linecap="square"/>
<line x1="296.68" y1="641.23" x2="344.55" y2="628.16" stroke="#000" stroke-width="2.2" stroke-linecap="square"/>
<rect x="247.90" y="616.50" width="387.80" height="24.13" fill="none" stroke="#333333" stroke-width="1.8"/>
<rect x="206.10" y="655.68" width="39.90" height="24.13" fill="#e1e1e1" stroke="#333333" stroke-width="1.8"/>
<text x="225.8" y="675.0" font-size="18.5" text-anchor="middle">15</text>
<rect x="247.90" y="655.68" width="48.48" height="12.07" fill="#2f7ab7" stroke="#2a2a2a" stroke-width="0.65"/>
<rect x="296.38" y="655.68" width="48.48" height="12.07" fill="#d6ee8e" stroke="#2a2a2a" stroke-width="0.65"/>
<rect x="344.85" y="655.68" width="48.48" height="12.07" fill="#fda6a9" stroke="#2a2a2a" stroke-width="0.65"/>
<rect x="393.33" y="655.68" width="48.48" height="12.07" fill="#ffffff" stroke="#2a2a2a" stroke-width="0.65"/>
<rect x="441.80" y="655.68" width="48.48" height="12.07" fill="#ffffff" stroke="#2a2a2a" stroke-width="0.65"/>
<rect x="490.28" y="655.68" width="48.48" height="12.07" fill="#e2c1f1" stroke="#2a2a2a" stroke-width="0.65"/>
<rect x="538.75" y="655.68" width="48.48" height="12.07" fill="#ffffff" stroke="#2a2a2a" stroke-width="0.65"/>
<rect x="587.23" y="655.68" width="48.48" height="12.07" fill="#ffffff" stroke="#2a2a2a" stroke-width="0.65"/>
<rect x="247.90" y="667.74" width="48.48" height="12.07" fill="#2f7ab7" stroke="#2a2a2a" stroke-width="0.65"/>
<rect x="296.38" y="667.74" width="48.48" height="12.07" fill="#d6ee8e" stroke="#2a2a2a" stroke-width="0.65"/>
<rect x="344.85" y="667.74" width="48.48" height="12.07" fill="#d72718" stroke="#2a2a2a" stroke-width="0.65"/>
<rect x="393.33" y="667.74" width="48.48" height="12.07" fill="#e2c1f1" stroke="#2a2a2a" stroke-width="0.65"/>
<rect x="441.80" y="667.74" width="48.48" height="12.07" fill="#e2c1f1" stroke="#2a2a2a" stroke-width="0.65"/>
<rect x="490.28" y="667.74" width="48.48" height="12.07" fill="#e2c1f1" stroke="#2a2a2a" stroke-width="0.65"/>
<rect x="538.75" y="667.74" width="48.48" height="12.07" fill="#ffffff" stroke="#2a2a2a" stroke-width="0.65"/>
<rect x="587.23" y="667.74" width="48.48" height="12.07" fill="#ffffff" stroke="#2a2a2a" stroke-width="0.65"/>
<line x1="296.68" y1="668.34" x2="344.55" y2="655.28" stroke="#000" stroke-width="2.2" stroke-linecap="square"/>
<line x1="296.68" y1="680.41" x2="344.55" y2="667.34" stroke="#000" stroke-width="2.2" stroke-linecap="square"/>
<rect x="247.90" y="655.68" width="387.80" height="24.13" fill="none" stroke="#333333" stroke-width="1.8"/>
<rect x="206.10" y="694.86" width="39.90" height="24.13" fill="#e1e1e1" stroke="#333333" stroke-width="1.8"/>
<text x="225.8" y="714.2" font-size="18.5" text-anchor="middle">16</text>
<rect x="247.90" y="694.86" width="48.48" height="12.07" fill="#2f7ab7" stroke="#2a2a2a" stroke-width="0.65"/>
<rect x="296.38" y="694.86" width="48.48" height="12.07" fill="#d6ee8e" stroke="#2a2a2a" stroke-width="0.65"/>
<rect x="344.85" y="694.86" width="48.48" height="12.07" fill="#fda6a9" stroke="#2a2a2a" stroke-width="0.65"/>
<rect x="393.33" y="694.86" width="48.48" height="12.07" fill="#ffffff" stroke="#2a2a2a" stroke-width="0.65"/>
<rect x="441.80" y="694.86" width="48.48" height="12.07" fill="#ffffff" stroke="#2a2a2a" stroke-width="0.65"/>
<rect x="490.28" y="694.86" width="48.48" height="12.07" fill="#ffffff" stroke="#2a2a2a" stroke-width="0.65"/>
<rect x="538.75" y="694.86" width="48.48" height="12.07" fill="#ffffff" stroke="#2a2a2a" stroke-width="0.65"/>
<rect x="587.23" y="694.86" width="48.48" height="12.07" fill="#ffffff" stroke="#2a2a2a" stroke-width="0.65"/>
<rect x="247.90" y="706.93" width="48.48" height="12.07" fill="#2f7ab7" stroke="#2a2a2a" stroke-width="0.65"/>
<rect x="296.38" y="706.93" width="48.48" height="12.07" fill="#d6ee8e" stroke="#2a2a2a" stroke-width="0.65"/>
<rect x="344.85" y="706.93" width="48.48" height="12.07" fill="#d72718" stroke="#2a2a2a" stroke-width="0.65"/>
<rect x="393.33" y="706.93" width="48.48" height="12.07" fill="#e2c1f1" stroke="#2a2a2a" stroke-width="0.65"/>
<rect x="441.80" y="706.93" width="48.48" height="12.07" fill="#ffffff" stroke="#2a2a2a" stroke-width="0.65"/>
<rect x="490.28" y="706.93" width="48.48" height="12.07" fill="#e2c1f1" stroke="#2a2a2a" stroke-width="0.65"/>
<rect x="538.75" y="706.93" width="48.48" height="12.07" fill="#ffffff" stroke="#2a2a2a" stroke-width="0.65"/>
<rect x="587.23" y="706.93" width="48.48" height="12.07" fill="#ffffff" stroke="#2a2a2a" stroke-width="0.65"/>
<line x1="296.38" y1="699.93" x2="344.85" y2="699.93" stroke="#000" stroke-width="1.6"/>
<line x1="296.38" y1="699.93" x2="344.85" y2="699.93" stroke="#000" stroke-width="1.6"/>
<line x1="296.38" y1="711.99" x2="344.85" y2="711.99" stroke="#000" stroke-width="1.6"/>
<line x1="296.38" y1="718.03" x2="344.85" y2="718.03" stroke="#000" stroke-width="1.6"/>
<rect x="247.90" y="694.86" width="387.80" height="24.13" fill="none" stroke="#333333" stroke-width="1.8"/>
<rect x="206.10" y="734.04" width="39.90" height="24.13" fill="#e1e1e1" stroke="#333333" stroke-width="1.8"/>
<text x="225.8" y="753.4" font-size="18.5" text-anchor="middle">17</text>
<rect x="247.90" y="734.04" width="48.48" height="12.07" fill="#2f7ab7" stroke="#2a2a2a" stroke-width="0.65"/>
<rect x="296.38" y="734.04" width="48.48" height="12.07" fill="#d6ee8e" stroke="#2a2a2a" stroke-width="0.65"/>
<rect x="344.85" y="734.04" width="48.48" height="12.07" fill="#fda6a9" stroke="#2a2a2a" stroke-width="0.65"/>
<rect x="393.33" y="734.04" width="48.48" height="12.07" fill="#e2c1f1" stroke="#2a2a2a" stroke-width="0.65"/>
<rect x="441.80" y="734.04" width="48.48" height="12.07" fill="#ffffff" stroke="#2a2a2a" stroke-width="0.65"/>
<rect x="490.28" y="734.04" width="48.48" height="12.07" fill="#e2c1f1" stroke="#2a2a2a" stroke-width="0.65"/>
<rect x="538.75" y="734.04" width="48.48" height="12.07" fill="#ffffff" stroke="#2a2a2a" stroke-width="0.65"/>
<rect x="587.23" y="734.04" width="48.48" height="12.07" fill="#ffffff" stroke="#2a2a2a" stroke-width="0.65"/>
<rect x="247.90" y="746.11" width="48.48" height="12.07" fill="#2f7ab7" stroke="#2a2a2a" stroke-width="0.65"/>
<rect x="296.38" y="746.11" width="48.48" height="12.07" fill="#d6ee8e" stroke="#2a2a2a" stroke-width="0.65"/>
<rect x="344.85" y="746.11" width="48.48" height="12.07" fill="#d72718" stroke="#2a2a2a" stroke-width="0.65"/>
<rect x="393.33" y="746.11" width="48.48" height="12.07" fill="#e2c1f1" stroke="#2a2a2a" stroke-width="0.65"/>
<rect x="441.80" y="746.11" width="48.48" height="12.07" fill="#ffffff" stroke="#2a2a2a" stroke-width="0.65"/>
<rect x="490.28" y="746.11" width="48.48" height="12.07" fill="#e2c1f1" stroke="#2a2a2a" stroke-width="0.65"/>
<rect x="538.75" y="746.11" width="48.48" height="12.07" fill="#ffffff" stroke="#2a2a2a" stroke-width="0.65"/>
<rect x="587.23" y="746.11" width="48.48" height="12.07" fill="#e2c1f1" stroke="#2a2a2a" stroke-width="0.65"/>
<line x1="296.68" y1="746.71" x2="344.55" y2="733.64" stroke="#000" stroke-width="2.2" stroke-linecap="square"/>
<rect x="247.90" y="734.04" width="387.80" height="24.13" fill="none" stroke="#333333" stroke-width="1.8"/>
<rect x="206.10" y="773.22" width="39.90" height="24.13" fill="#e1e1e1" stroke="#333333" stroke-width="1.8"/>
<text x="225.8" y="792.6" font-size="18.5" text-anchor="middle">18</text>
<rect x="247.90" y="773.22" width="48.48" height="12.07" fill="#2f7ab7" stroke="#2a2a2a" stroke-width="0.65"/>
<rect x="296.38" y="773.22" width="48.48" height="12.07" fill="#d6ee8e" stroke="#2a2a2a" stroke-width="0.65"/>
<rect x="344.85" y="773.22" width="48.48" height="12.07" fill="#fda6a9" stroke="#2a2a2a" stroke-width="0.65"/>
<rect x="393.33" y="773.22" width="48.48" height="12.07" fill="#ffffff" stroke="#2a2a2a" stroke-width="0.65"/>
<rect x="441.80" y="773.22" width="48.48" height="12.07" fill="#ffffff" stroke="#2a2a2a" stroke-width="0.65"/>
<rect x="490.28" y="773.22" width="48.48" height="12.07" fill="#ffffff" stroke="#2a2a2a" stroke-width="0.65"/>
<rect x="538.75" y="773.22" width="48.48" height="12.07" fill="#ffffff" stroke="#2a2a2a" stroke-width="0.65"/>
<rect x="587.23" y="773.22" width="48.48" height="12.07" fill="#ffffff" stroke="#2a2a2a" stroke-width="0.65"/>
<rect x="247.90" y="785.29" width="48.48" height="12.07" fill="#2f7ab7" stroke="#2a2a2a" stroke-width="0.65"/>
<rect x="296.38" y="785.29" width="48.48" height="12.07" fill="#d6ee8e" stroke="#2a2a2a" stroke-width="0.65"/>
<rect x="344.85" y="785.29" width="48.48" height="12.07" fill="#d72718" stroke="#2a2a2a" stroke-width="0.65"/>
<rect x="393.33" y="785.29" width="48.48" height="12.07" fill="#e2c1f1" stroke="#2a2a2a" stroke-width="0.65"/>
<rect x="441.80" y="785.29" width="48.48" height="12.07" fill="#ffffff" stroke="#2a2a2a" stroke-width="0.65"/>
<rect x="490.28" y="785.29" width="48.48" height="12.07" fill="#e2c1f1" stroke="#2a2a2a" stroke-width="0.65"/>
<rect x="538.75" y="785.29" width="48.48" height="12.07" fill="#ffffff" stroke="#2a2a2a" stroke-width="0.65"/>
<rect x="587.23" y="785.29" width="48.48" height="12.07" fill="#ffffff" stroke="#2a2a2a" stroke-width="0.65"/>
<line x1="296.68" y1="785.89" x2="344.55" y2="772.82" stroke="#000" stroke-width="2.2" stroke-linecap="square"/>
<line x1="296.68" y1="797.96" x2="344.55" y2="784.89" stroke="#000" stroke-width="2.2" stroke-linecap="square"/>
<rect x="247.90" y="773.22" width="387.80" height="24.13" fill="none" stroke="#333333" stroke-width="1.8"/>
<rect x="206.10" y="812.41" width="39.90" height="36.20" fill="#e1e1e1" stroke="#333333" stroke-width="1.8"/>
<text x="225.8" y="837.8" font-size="18.5" text-anchor="middle">19</text>
<rect x="247.90" y="812.41" width="48.48" height="12.07" fill="#2f7ab7" stroke="#2a2a2a" stroke-width="0.65"/>
<rect x="296.38" y="812.41" width="48.48" height="12.07" fill="#d6ee8e" stroke="#2a2a2a" stroke-width="0.65"/>
<rect x="344.85" y="812.41" width="48.48" height="12.07" fill="#fda6a9" stroke="#2a2a2a" stroke-width="0.65"/>
<rect x="393.33" y="812.41" width="48.48" height="12.07" fill="#ffffff" stroke="#2a2a2a" stroke-width="0.65"/>
<rect x="441.80" y="812.41" width="48.48" height="12.07" fill="#ffffff" stroke="#2a2a2a" stroke-width="0.65"/>
<rect x="490.28" y="812.41" width="48.48" height="12.07" fill="#ffffff" stroke="#2a2a2a" stroke-width="0.65"/>
<rect x="538.75" y="812.41" width="48.48" height="12.07" fill="#ffffff" stroke="#2a2a2a" stroke-width="0.65"/>
<rect x="587.23" y="812.41" width="48.48" height="12.07" fill="#ffffff" stroke="#2a2a2a" stroke-width="0.65"/>
<rect x="247.90" y="824.47" width="48.48" height="12.07" fill="#2f7ab7" stroke="#2a2a2a" stroke-width="0.65"/>
<rect x="296.38" y="824.47" width="48.48" height="12.07" fill="#d6ee8e" stroke="#2a2a2a" stroke-width="0.65"/>
<rect x="344.85" y="824.47" width="48.48" height="12.07" fill="#d72718" stroke="#2a2a2a" stroke-width="0.65"/>
<rect x="393.33" y="824.47" width="48.48" height="12.07" fill="#e2c1f1" stroke="#2a2a2a" stroke-width="0.65"/>
<rect x="441.80" y="824.47" width="48.48" height="12.07" fill="#ffffff" stroke="#2a2a2a" stroke-width="0.65"/>
<rect x="490.28" y="824.47" width="48.48" height="12.07" fill="#e2c1f1" stroke="#2a2a2a" stroke-width="0.65"/>
<rect x="538.75" y="824.47" width="48.48" height="12.07" fill="#ffffff" stroke="#2a2a2a" stroke-width="0.65"/>
<rect x="587.23" y="824.47" width="48.48" height="12.07" fill="#ffffff" stroke="#2a2a2a" stroke-width="0.65"/>
<rect x="247.90" y="836.54" width="48.48" height="12.07" fill="#2f7ab7" stroke="#2a2a2a" stroke-width="0.65"/>
<rect x="296.38" y="836.54" width="48.48" height="12.07" fill="#d6ee8e" stroke="#2a2a2a" stroke-width="0.65"/>
<rect x="344.85" y="836.54" width="48.48" height="12.07" fill="#d72718" stroke="#2a2a2a" stroke-width="0.65"/>
<rect x="393.33" y="836.54" width="48.48" height="12.07" fill="#e2c1f1" stroke="#2a2a2a" stroke-width="0.65"/>
<rect x="441.80" y="836.54" width="48.48" height="12.07" fill="#e2c1f1" stroke="#2a2a2a" stroke-width="0.65"/>
<rect x="490.28" y="836.54" width="48.48" height="12.07" fill="#e2c1f1" stroke="#2a2a2a" stroke-width="0.65"/>
<rect x="538.75" y="836.54" width="48.48" height="12.07" fill="#ffffff" stroke="#2a2a2a" stroke-width="0.65"/>
<rect x="587.23" y="836.54" width="48.48" height="12.07" fill="#ffffff" stroke="#2a2a2a" stroke-width="0.65"/>
<line x1="296.68" y1="825.07" x2="344.55" y2="812.01" stroke="#000" stroke-width="2.2" stroke-linecap="square"/>
<line x1="296.68" y1="837.14" x2="344.55" y2="824.07" stroke="#000" stroke-width="2.2" stroke-linecap="square"/>
<line x1="296.68" y1="849.20" x2="344.55" y2="836.14" stroke="#000" stroke-width="2.2" stroke-linecap="square"/>
<rect x="247.90" y="812.41" width="387.80" height="36.20" fill="none" stroke="#333333" stroke-width="1.8"/>
<rect x="206.10" y="863.65" width="39.90" height="60.33" fill="#e1e1e1" stroke="#333333" stroke-width="1.8"/>
<text x="225.8" y="901.1" font-size="18.5" text-anchor="middle">20</text>
<rect x="247.90" y="863.65" width="48.48" height="12.07" fill="#2f7ab7" stroke="#2a2a2a" stroke-width="0.65"/>
<rect x="296.38" y="863.65" width="48.48" height="12.07" fill="#d6ee8e" stroke="#2a2a2a" stroke-width="0.65"/>
<rect x="344.85" y="863.65" width="48.48" height="12.07" fill="#fda6a9" stroke="#2a2a2a" stroke-width="0.65"/>
<rect x="393.33" y="863.65" width="48.48" height="12.07" fill="#ffffff" stroke="#2a2a2a" stroke-width="0.65"/>
<rect x="441.80" y="863.65" width="48.48" height="12.07" fill="#ffffff" stroke="#2a2a2a" stroke-width="0.65"/>
<rect x="490.28" y="863.65" width="48.48" height="12.07" fill="#ffffff" stroke="#2a2a2a" stroke-width="0.65"/>
<rect x="538.75" y="863.65" width="48.48" height="12.07" fill="#ffffff" stroke="#2a2a2a" stroke-width="0.65"/>
<rect x="587.23" y="863.65" width="48.48" height="12.07" fill="#ffffff" stroke="#2a2a2a" stroke-width="0.65"/>
<rect x="247.90" y="875.72" width="48.48" height="12.07" fill="#2f7ab7" stroke="#2a2a2a" stroke-width="0.65"/>
<rect x="296.38" y="875.72" width="48.48" height="12.07" fill="#d6ee8e" stroke="#2a2a2a" stroke-width="0.65"/>
<rect x="344.85" y="875.72" width="48.48" height="12.07" fill="#d72718" stroke="#2a2a2a" stroke-width="0.65"/>
<rect x="393.33" y="875.72" width="48.48" height="12.07" fill="#e2c1f1" stroke="#2a2a2a" stroke-width="0.65"/>
<rect x="441.80" y="875.72" width="48.48" height="12.07" fill="#ffffff" stroke="#2a2a2a" stroke-width="0.65"/>
<rect x="490.28" y="875.72" width="48.48" height="12.07" fill="#e2c1f1" stroke="#2a2a2a" stroke-width="0.65"/>
<rect x="538.75" y="875.72" width="48.48" height="12.07" fill="#ffffff" stroke="#2a2a2a" stroke-width="0.65"/>
<rect x="587.23" y="875.72" width="48.48" height="12.07" fill="#ffffff" stroke="#2a2a2a" stroke-width="0.65"/>
<rect x="247.90" y="887.79" width="48.48" height="12.07" fill="#2f7ab7" stroke="#2a2a2a" stroke-width="0.65"/>
<rect x="296.38" y="887.79" width="48.48" height="12.07" fill="#d6ee8e" stroke="#2a2a2a" stroke-width="0.65"/>
<rect x="344.85" y="887.79" width="48.48" height="12.07" fill="#d72718" stroke="#2a2a2a" stroke-width="0.65"/>
<rect x="393.33" y="887.79" width="48.48" height="12.07" fill="#e2c1f1" stroke="#2a2a2a" stroke-width="0.65"/>
<rect x="441.80" y="887.79" width="48.48" height="12.07" fill="#ffffff" stroke="#2a2a2a" stroke-width="0.65"/>
<rect x="490.28" y="887.79" width="48.48" height="12.07" fill="#e2c1f1" stroke="#2a2a2a" stroke-width="0.65"/>
<rect x="538.75" y="887.79" width="48.48" height="12.07" fill="#ffffff" stroke="#2a2a2a" stroke-width="0.65"/>
<rect x="587.23" y="887.79" width="48.48" height="12.07" fill="#ffffff" stroke="#2a2a2a" stroke-width="0.65"/>
<rect x="247.90" y="899.85" width="48.48" height="12.07" fill="#2f7ab7" stroke="#2a2a2a" stroke-width="0.65"/>
<rect x="296.38" y="899.85" width="48.48" height="12.07" fill="#d6ee8e" stroke="#2a2a2a" stroke-width="0.65"/>
<rect x="344.85" y="899.85" width="48.48" height="12.07" fill="#d72718" stroke="#2a2a2a" stroke-width="0.65"/>
<rect x="393.33" y="899.85" width="48.48" height="12.07" fill="#e2c1f1" stroke="#2a2a2a" stroke-width="0.65"/>
<rect x="441.80" y="899.85" width="48.48" height="12.07" fill="#e2c1f1" stroke="#2a2a2a" stroke-width="0.65"/>
<rect x="490.28" y="899.85" width="48.48" height="12.07" fill="#e2c1f1" stroke="#2a2a2a" stroke-width="0.65"/>
<rect x="538.75" y="899.85" width="48.48" height="12.07" fill="#ffffff" stroke="#2a2a2a" stroke-width="0.65"/>
<rect x="587.23" y="899.85" width="48.48" height="12.07" fill="#ffffff" stroke="#2a2a2a" stroke-width="0.65"/>
<rect x="247.90" y="911.92" width="48.48" height="12.07" fill="#2f7ab7" stroke="#2a2a2a" stroke-width="0.65"/>
<rect x="296.38" y="911.92" width="48.48" height="12.07" fill="#d6ee8e" stroke="#2a2a2a" stroke-width="0.65"/>
<rect x="344.85" y="911.92" width="48.48" height="12.07" fill="#d72718" stroke="#2a2a2a" stroke-width="0.65"/>
<rect x="393.33" y="911.92" width="48.48" height="12.07" fill="#e2c1f1" stroke="#2a2a2a" stroke-width="0.65"/>
<rect x="441.80" y="911.92" width="48.48" height="12.07" fill="#e2c1f1" stroke="#2a2a2a" stroke-width="0.65"/>
<rect x="490.28" y="911.92" width="48.48" height="12.07" fill="#e2c1f1" stroke="#2a2a2a" stroke-width="0.65"/>
<rect x="538.75" y="911.92" width="48.48" height="12.07" fill="#ffffff" stroke="#2a2a2a" stroke-width="0.65"/>
<rect x="587.23" y="911.92" width="48.48" height="12.07" fill="#ffffff" stroke="#2a2a2a" stroke-width="0.65"/>
<line x1="296.68" y1="876.32" x2="344.55" y2="863.25" stroke="#000" stroke-width="2.2" stroke-linecap="square"/>
<line x1="296.68" y1="888.39" x2="344.55" y2="875.32" stroke="#000" stroke-width="2.2" stroke-linecap="square"/>
<line x1="296.68" y1="912.52" x2="344.55" y2="899.45" stroke="#000" stroke-width="2.2" stroke-linecap="square"/>
<line x1="296.68" y1="924.58" x2="344.55" y2="911.52" stroke="#000" stroke-width="2.2" stroke-linecap="square"/>
<rect x="247.90" y="863.65" width="387.80" height="60.33" fill="none" stroke="#333333" stroke-width="1.8"/>
<rect x="206.10" y="939.03" width="39.90" height="72.40" fill="#e1e1e1" stroke="#333333" stroke-width="1.8"/>
<text x="225.8" y="982.5" font-size="18.5" text-anchor="middle">21</text>
<rect x="247.90" y="939.03" width="48.48" height="12.07" fill="#2f7ab7" stroke="#2a2a2a" stroke-width="0.65"/>
<rect x="296.38" y="939.03" width="48.48" height="12.07" fill="#d6ee8e" stroke="#2a2a2a" stroke-width="0.65"/>
<rect x="344.85" y="939.03" width="48.48" height="12.07" fill="#fda6a9" stroke="#2a2a2a" stroke-width="0.65"/>
<rect x="393.33" y="939.03" width="48.48" height="12.07" fill="#ffffff" stroke="#2a2a2a" stroke-width="0.65"/>
<rect x="441.80" y="939.03" width="48.48" height="12.07" fill="#ffffff" stroke="#2a2a2a" stroke-width="0.65"/>
<rect x="490.28" y="939.03" width="48.48" height="12.07" fill="#ffffff" stroke="#2a2a2a" stroke-width="0.65"/>
<rect x="538.75" y="939.03" width="48.48" height="12.07" fill="#ffffff" stroke="#2a2a2a" stroke-width="0.65"/>
<rect x="587.23" y="939.03" width="48.48" height="12.07" fill="#ffffff" stroke="#2a2a2a" stroke-width="0.65"/>
<rect x="247.90" y="951.10" width="48.48" height="12.07" fill="#2f7ab7" stroke="#2a2a2a" stroke-width="0.65"/>
<rect x="296.38" y="951.10" width="48.48" height="12.07" fill="#d6ee8e" stroke="#2a2a2a" stroke-width="0.65"/>
<rect x="344.85" y="951.10" width="48.48" height="12.07" fill="#d72718" stroke="#2a2a2a" stroke-width="0.65"/>
<rect x="393.33" y="951.10" width="48.48" height="12.07" fill="#ffffff" stroke="#2a2a2a" stroke-width="0.65"/>
<rect x="441.80" y="951.10" width="48.48" height="12.07" fill="#ffffff" stroke="#2a2a2a" stroke-width="0.65"/>
<rect x="490.28" y="951.10" width="48.48" height="12.07" fill="#ffffff" stroke="#2a2a2a" stroke-width="0.65"/>
<rect x="538.75" y="951.10" width="48.48" height="12.07" fill="#ffffff" stroke="#2a2a2a" stroke-width="0.65"/>
<rect x="587.23" y="951.10" width="48.48" height="12.07" fill="#ffffff" stroke="#2a2a2a" stroke-width="0.65"/>
<rect x="247.90" y="963.17" width="48.48" height="12.07" fill="#2f7ab7" stroke="#2a2a2a" stroke-width="0.65"/>
<rect x="296.38" y="963.17" width="48.48" height="12.07" fill="#d6ee8e" stroke="#2a2a2a" stroke-width="0.65"/>
<rect x="344.85" y="963.17" width="48.48" height="12.07" fill="#d72718" stroke="#2a2a2a" stroke-width="0.65"/>
<rect x="393.33" y="963.17" width="48.48" height="12.07" fill="#ffffff" stroke="#2a2a2a" stroke-width="0.65"/>
<rect x="441.80" y="963.17" width="48.48" height="12.07" fill="#ffffff" stroke="#2a2a2a" stroke-width="0.65"/>
<rect x="490.28" y="963.17" width="48.48" height="12.07" fill="#ffffff" stroke="#2a2a2a" stroke-width="0.65"/>
<rect x="538.75" y="963.17" width="48.48" height="12.07" fill="#ffffff" stroke="#2a2a2a" stroke-width="0.65"/>
<rect x="587.23" y="963.17" width="48.48" height="12.07" fill="#ffffff" stroke="#2a2a2a" stroke-width="0.65"/>
<rect x="247.90" y="975.23" width="48.48" height="12.07" fill="#2f7ab7" stroke="#2a2a2a" stroke-width="0.65"/>
<rect x="296.38" y="975.23" width="48.48" height="12.07" fill="#d6ee8e" stroke="#2a2a2a" stroke-width="0.65"/>
<rect x="344.85" y="975.23" width="48.48" height="12.07" fill="#d72718" stroke="#2a2a2a" stroke-width="0.65"/>
<rect x="393.33" y="975.23" width="48.48" height="12.07" fill="#ffffff" stroke="#2a2a2a" stroke-width="0.65"/>
<rect x="441.80" y="975.23" width="48.48" height="12.07" fill="#ffffff" stroke="#2a2a2a" stroke-width="0.65"/>
<rect x="490.28" y="975.23" width="48.48" height="12.07" fill="#ffffff" stroke="#2a2a2a" stroke-width="0.65"/>
<rect x="538.75" y="975.23" width="48.48" height="12.07" fill="#ffffff" stroke="#2a2a2a" stroke-width="0.65"/>
<rect x="587.23" y="975.23" width="48.48" height="12.07" fill="#ffffff" stroke="#2a2a2a" stroke-width="0.65"/>
<rect x="247.90" y="987.30" width="48.48" height="12.07" fill="#2f7ab7" stroke="#2a2a2a" stroke-width="0.65"/>
<rect x="296.38" y="987.30" width="48.48" height="12.07" fill="#d6ee8e" stroke="#2a2a2a" stroke-width="0.65"/>
<rect x="344.85" y="987.30" width="48.48" height="12.07" fill="#d72718" stroke="#2a2a2a" stroke-width="0.65"/>
<rect x="393.33" y="987.30" width="48.48" height="12.07" fill="#e2c1f1" stroke="#2a2a2a" stroke-width="0.65"/>
<rect x="441.80" y="987.30" width="48.48" height="12.07" fill="#ffffff" stroke="#2a2a2a" stroke-width="0.65"/>
<rect x="490.28" y="987.30" width="48.48" height="12.07" fill="#e2c1f1" stroke="#2a2a2a" stroke-width="0.65"/>
<rect x="538.75" y="987.30" width="48.48" height="12.07" fill="#e2c1f1" stroke="#2a2a2a" stroke-width="0.65"/>
<rect x="587.23" y="987.30" width="48.48" height="12.07" fill="#ffffff" stroke="#2a2a2a" stroke-width="0.65"/>
<rect x="247.90" y="999.36" width="48.48" height="12.07" fill="#2f7ab7" stroke="#2a2a2a" stroke-width="0.65"/>
<rect x="296.38" y="999.36" width="48.48" height="12.07" fill="#d6ee8e" stroke="#2a2a2a" stroke-width="0.65"/>
<rect x="344.85" y="999.36" width="48.48" height="12.07" fill="#d72718" stroke="#2a2a2a" stroke-width="0.65"/>
<rect x="393.33" y="999.36" width="48.48" height="12.07" fill="#e2c1f1" stroke="#2a2a2a" stroke-width="0.65"/>
<rect x="441.80" y="999.36" width="48.48" height="12.07" fill="#ffffff" stroke="#2a2a2a" stroke-width="0.65"/>
<rect x="490.28" y="999.36" width="48.48" height="12.07" fill="#e2c1f1" stroke="#2a2a2a" stroke-width="0.65"/>
<rect x="538.75" y="999.36" width="48.48" height="12.07" fill="#e2c1f1" stroke="#2a2a2a" stroke-width="0.65"/>
<rect x="587.23" y="999.36" width="48.48" height="12.07" fill="#e2c1f1" stroke="#2a2a2a" stroke-width="0.65"/>
<line x1="296.68" y1="951.70" x2="344.55" y2="938.63" stroke="#000" stroke-width="2.2" stroke-linecap="square"/>
<line x1="296.68" y1="963.77" x2="344.55" y2="950.70" stroke="#000" stroke-width="2.2" stroke-linecap="square"/>
<line x1="296.68" y1="975.83" x2="344.55" y2="962.77" stroke="#000" stroke-width="2.2" stroke-linecap="square"/>
<line x1="296.68" y1="987.90" x2="344.55" y2="974.83" stroke="#000" stroke-width="2.2" stroke-linecap="square"/>
<line x1="296.68" y1="999.96" x2="344.55" y2="986.90" stroke="#000" stroke-width="2.2" stroke-linecap="square"/>
<line x1="296.68" y1="1012.03" x2="344.55" y2="998.96" stroke="#000" stroke-width="2.2" stroke-linecap="square"/>
<rect x="247.90" y="939.03" width="387.80" height="72.40" fill="none" stroke="#333333" stroke-width="1.8"/>
<rect x="206.10" y="1026.48" width="39.90" height="24.13" fill="#e1e1e1" stroke="#333333" stroke-width="1.8"/>
<text x="225.8" y="1045.8" font-size="18.5" text-anchor="middle">22</text>
<rect x="247.90" y="1026.48" width="48.48" height="12.07" fill="#2f7ab7" stroke="#2a2a2a" stroke-width="0.65"/>
<rect x="296.38" y="1026.48" width="48.48" height="12.07" fill="#d6ee8e" stroke="#2a2a2a" stroke-width="0.65"/>
<rect x="344.85" y="1026.48" width="48.48" height="12.07" fill="#fda6a9" stroke="#2a2a2a" stroke-width="0.65"/>
<rect x="393.33" y="1026.48" width="48.48" height="12.07" fill="#e2c1f1" stroke="#2a2a2a" stroke-width="0.65"/>
<rect x="441.80" y="1026.48" width="48.48" height="12.07" fill="#ffffff" stroke="#2a2a2a" stroke-width="0.65"/>
<rect x="490.28" y="1026.48" width="48.48" height="12.07" fill="#e2c1f1" stroke="#2a2a2a" stroke-width="0.65"/>
<rect x="538.75" y="1026.48" width="48.48" height="12.07" fill="#e2c1f1" stroke="#2a2a2a" stroke-width="0.65"/>
<rect x="587.23" y="1026.48" width="48.48" height="12.07" fill="#e2c1f1" stroke="#2a2a2a" stroke-width="0.65"/>
<rect x="247.90" y="1038.55" width="48.48" height="12.07" fill="#2f7ab7" stroke="#2a2a2a" stroke-width="0.65"/>
<rect x="296.38" y="1038.55" width="48.48" height="12.07" fill="#d6ee8e" stroke="#2a2a2a" stroke-width="0.65"/>
<rect x="344.85" y="1038.55" width="48.48" height="12.07" fill="#d72718" stroke="#2a2a2a" stroke-width="0.65"/>
<rect x="393.33" y="1038.55" width="48.48" height="12.07" fill="#e2c1f1" stroke="#2a2a2a" stroke-width="0.65"/>
<rect x="441.80" y="1038.55" width="48.48" height="12.07" fill="#ffffff" stroke="#2a2a2a" stroke-width="0.65"/>
<rect x="490.28" y="1038.55" width="48.48" height="12.07" fill="#e2c1f1" stroke="#2a2a2a" stroke-width="0.65"/>
<rect x="538.75" y="1038.55" width="48.48" height="12.07" fill="#e2c1f1" stroke="#2a2a2a" stroke-width="0.65"/>
<rect x="587.23" y="1038.55" width="48.48" height="12.07" fill="#e2c1f1" stroke="#2a2a2a" stroke-width="0.65"/>
<line x1="296.68" y1="1039.15" x2="344.55" y2="1026.08" stroke="#000" stroke-width="2.2" stroke-linecap="square"/>
<line x1="296.68" y1="1051.21" x2="344.55" y2="1038.15" stroke="#000" stroke-width="2.2" stroke-linecap="square"/>
<rect x="247.90" y="1026.48" width="387.80" height="24.13" fill="none" stroke="#333333" stroke-width="1.8"/>
<rect x="206.10" y="1065.66" width="39.90" height="24.13" fill="#e1e1e1" stroke="#333333" stroke-width="1.8"/>
<text x="225.8" y="1085.0" font-size="18.5" text-anchor="middle">23</text>
<rect x="247.90" y="1065.66" width="48.48" height="12.07" fill="#2f7ab7" stroke="#2a2a2a" stroke-width="0.65"/>
<rect x="296.38" y="1065.66" width="48.48" height="12.07" fill="#d6ee8e" stroke="#2a2a2a" stroke-width="0.65"/>
<rect x="344.85" y="1065.66" width="48.48" height="12.07" fill="#fda6a9" stroke="#2a2a2a" stroke-width="0.65"/>
<rect x="393.33" y="1065.66" width="48.48" height="12.07" fill="#ffffff" stroke="#2a2a2a" stroke-width="0.65"/>
<rect x="441.80" y="1065.66" width="48.48" height="12.07" fill="#ffffff" stroke="#2a2a2a" stroke-width="0.65"/>
<rect x="490.28" y="1065.66" width="48.48" height="12.07" fill="#ffffff" stroke="#2a2a2a" stroke-width="0.65"/>
<rect x="538.75" y="1065.66" width="48.48" height="12.07" fill="#ffffff" stroke="#2a2a2a" stroke-width="0.65"/>
<rect x="587.23" y="1065.66" width="48.48" height="12.07" fill="#ffffff" stroke="#2a2a2a" stroke-width="0.65"/>
<rect x="247.90" y="1077.73" width="48.48" height="12.07" fill="#2f7ab7" stroke="#2a2a2a" stroke-width="0.65"/>
<rect x="296.38" y="1077.73" width="48.48" height="12.07" fill="#d6ee8e" stroke="#2a2a2a" stroke-width="0.65"/>
<rect x="344.85" y="1077.73" width="48.48" height="12.07" fill="#d72718" stroke="#2a2a2a" stroke-width="0.65"/>
<rect x="393.33" y="1077.73" width="48.48" height="12.07" fill="#e2c1f1" stroke="#2a2a2a" stroke-width="0.65"/>
<rect x="441.80" y="1077.73" width="48.48" height="12.07" fill="#ffffff" stroke="#2a2a2a" stroke-width="0.65"/>
<rect x="490.28" y="1077.73" width="48.48" height="12.07" fill="#e2c1f1" stroke="#2a2a2a" stroke-width="0.65"/>
<rect x="538.75" y="1077.73" width="48.48" height="12.07" fill="#ffffff" stroke="#2a2a2a" stroke-width="0.65"/>
<rect x="587.23" y="1077.73" width="48.48" height="12.07" fill="#ffffff" stroke="#2a2a2a" stroke-width="0.65"/>
<line x1="296.68" y1="1078.33" x2="344.55" y2="1065.26" stroke="#000" stroke-width="2.2" stroke-linecap="square"/>
<line x1="296.68" y1="1090.39" x2="344.55" y2="1077.33" stroke="#000" stroke-width="2.2" stroke-linecap="square"/>
<rect x="247.90" y="1065.66" width="387.80" height="24.13" fill="none" stroke="#333333" stroke-width="1.8"/>
<rect x="206.10" y="1104.84" width="39.90" height="24.13" fill="#e1e1e1" stroke="#333333" stroke-width="1.8"/>
<text x="225.8" y="1124.2" font-size="18.5" text-anchor="middle">24</text>
<rect x="247.90" y="1104.84" width="48.48" height="12.07" fill="#2f7ab7" stroke="#2a2a2a" stroke-width="0.65"/>
<rect x="296.38" y="1104.84" width="48.48" height="12.07" fill="#31a51f" stroke="#2a2a2a" stroke-width="0.65"/>
<rect x="344.85" y="1104.84" width="48.48" height="12.07" fill="#fda6a9" stroke="#2a2a2a" stroke-width="0.65"/>
<rect x="393.33" y="1104.84" width="48.48" height="12.07" fill="#ffffff" stroke="#2a2a2a" stroke-width="0.65"/>
<rect x="441.80" y="1104.84" width="48.48" height="12.07" fill="#ffffff" stroke="#2a2a2a" stroke-width="0.65"/>
<rect x="490.28" y="1104.84" width="48.48" height="12.07" fill="#ffffff" stroke="#2a2a2a" stroke-width="0.65"/>
<rect x="538.75" y="1104.84" width="48.48" height="12.07" fill="#ffffff" stroke="#2a2a2a" stroke-width="0.65"/>
<rect x="587.23" y="1104.84" width="48.48" height="12.07" fill="#ffffff" stroke="#2a2a2a" stroke-width="0.65"/>
<rect x="247.90" y="1116.91" width="48.48" height="12.07" fill="#2f7ab7" stroke="#2a2a2a" stroke-width="0.65"/>
<rect x="296.38" y="1116.91" width="48.48" height="12.07" fill="#31a51f" stroke="#2a2a2a" stroke-width="0.65"/>
<rect x="344.85" y="1116.91" width="48.48" height="12.07" fill="#d72718" stroke="#2a2a2a" stroke-width="0.65"/>
<rect x="393.33" y="1116.91" width="48.48" height="12.07" fill="#e2c1f1" stroke="#2a2a2a" stroke-width="0.65"/>
<rect x="441.80" y="1116.91" width="48.48" height="12.07" fill="#ffffff" stroke="#2a2a2a" stroke-width="0.65"/>
<rect x="490.28" y="1116.91" width="48.48" height="12.07" fill="#e2c1f1" stroke="#2a2a2a" stroke-width="0.65"/>
<rect x="538.75" y="1116.91" width="48.48" height="12.07" fill="#e2c1f1" stroke="#2a2a2a" stroke-width="0.65"/>
<rect x="587.23" y="1116.91" width="48.48" height="12.07" fill="#ffffff" stroke="#2a2a2a" stroke-width="0.65"/>
<line x1="296.68" y1="1117.51" x2="344.55" y2="1104.44" stroke="#000" stroke-width="2.2" stroke-linecap="square"/>
<line x1="296.68" y1="1129.58" x2="344.55" y2="1116.51" stroke="#000" stroke-width="2.2" stroke-linecap="square"/>
<rect x="247.90" y="1104.84" width="387.80" height="24.13" fill="none" stroke="#333333" stroke-width="1.8"/>
<rect x="206.10" y="1144.03" width="39.90" height="24.13" fill="#e1e1e1" stroke="#333333" stroke-width="1.8"/>
<text x="225.8" y="1163.4" font-size="18.5" text-anchor="middle">25</text>
<rect x="247.90" y="1144.03" width="48.48" height="12.07" fill="#2f7ab7" stroke="#2a2a2a" stroke-width="0.65"/>
<rect x="296.38" y="1144.03" width="48.48" height="12.07" fill="#31a51f" stroke="#2a2a2a" stroke-width="0.65"/>
<rect x="344.85" y="1144.03" width="48.48" height="12.07" fill="#fda6a9" stroke="#2a2a2a" stroke-width="0.65"/>
<rect x="393.33" y="1144.03" width="48.48" height="12.07" fill="#ffffff" stroke="#2a2a2a" stroke-width="0.65"/>
<rect x="441.80" y="1144.03" width="48.48" height="12.07" fill="#ffffff" stroke="#2a2a2a" stroke-width="0.65"/>
<rect x="490.28" y="1144.03" width="48.48" height="12.07" fill="#ffffff" stroke="#2a2a2a" stroke-width="0.65"/>
<rect x="538.75" y="1144.03" width="48.48" height="12.07" fill="#ffffff" stroke="#2a2a2a" stroke-width="0.65"/>
<rect x="587.23" y="1144.03" width="48.48" height="12.07" fill="#ffffff" stroke="#2a2a2a" stroke-width="0.65"/>
<rect x="247.90" y="1156.09" width="48.48" height="12.07" fill="#2f7ab7" stroke="#2a2a2a" stroke-width="0.65"/>
<rect x="296.38" y="1156.09" width="48.48" height="12.07" fill="#31a51f" stroke="#2a2a2a" stroke-width="0.65"/>
<rect x="344.85" y="1156.09" width="48.48" height="12.07" fill="#d72718" stroke="#2a2a2a" stroke-width="0.65"/>
<rect x="393.33" y="1156.09" width="48.48" height="12.07" fill="#e2c1f1" stroke="#2a2a2a" stroke-width="0.65"/>
<rect x="441.80" y="1156.09" width="48.48" height="12.07" fill="#ffffff" stroke="#2a2a2a" stroke-width="0.65"/>
<rect x="490.28" y="1156.09" width="48.48" height="12.07" fill="#e2c1f1" stroke="#2a2a2a" stroke-width="0.65"/>
<rect x="538.75" y="1156.09" width="48.48" height="12.07" fill="#ffffff" stroke="#2a2a2a" stroke-width="0.65"/>
<rect x="587.23" y="1156.09" width="48.48" height="12.07" fill="#ffffff" stroke="#2a2a2a" stroke-width="0.65"/>
<rect x="247.90" y="1144.03" width="387.80" height="24.13" fill="none" stroke="#333333" stroke-width="1.8"/>
<rect x="206.10" y="1183.21" width="39.90" height="24.13" fill="#e1e1e1" stroke="#333333" stroke-width="1.8"/>
<text x="225.8" y="1202.6" font-size="18.5" text-anchor="middle">26</text>
<rect x="247.90" y="1183.21" width="48.48" height="12.07" fill="#2f7ab7" stroke="#2a2a2a" stroke-width="0.65"/>
<rect x="296.38" y="1183.21" width="48.48" height="12.07" fill="#31a51f" stroke="#2a2a2a" stroke-width="0.65"/>
<rect x="344.85" y="1183.21" width="48.48" height="12.07" fill="#fda6a9" stroke="#2a2a2a" stroke-width="0.65"/>
<rect x="393.33" y="1183.21" width="48.48" height="12.07" fill="#e2c1f1" stroke="#2a2a2a" stroke-width="0.65"/>
<rect x="441.80" y="1183.21" width="48.48" height="12.07" fill="#ffffff" stroke="#2a2a2a" stroke-width="0.65"/>
<rect x="490.28" y="1183.21" width="48.48" height="12.07" fill="#e2c1f1" stroke="#2a2a2a" stroke-width="0.65"/>
<rect x="538.75" y="1183.21" width="48.48" height="12.07" fill="#ffffff" stroke="#2a2a2a" stroke-width="0.65"/>
<rect x="587.23" y="1183.21" width="48.48" height="12.07" fill="#ffffff" stroke="#2a2a2a" stroke-width="0.65"/>
<rect x="247.90" y="1195.27" width="48.48" height="12.07" fill="#2f7ab7" stroke="#2a2a2a" stroke-width="0.65"/>
<rect x="296.38" y="1195.27" width="48.48" height="12.07" fill="#31a51f" stroke="#2a2a2a" stroke-width="0.65"/>
<rect x="344.85" y="1195.27" width="48.48" height="12.07" fill="#d72718" stroke="#2a2a2a" stroke-width="0.65"/>
<rect x="393.33" y="1195.27" width="48.48" height="12.07" fill="#e2c1f1" stroke="#2a2a2a" stroke-width="0.65"/>
<rect x="441.80" y="1195.27" width="48.48" height="12.07" fill="#e2c1f1" stroke="#2a2a2a" stroke-width="0.65"/>
<rect x="490.28" y="1195.27" width="48.48" height="12.07" fill="#e2c1f1" stroke="#2a2a2a" stroke-width="0.65"/>
<rect x="538.75" y="1195.27" width="48.48" height="12.07" fill="#ffffff" stroke="#2a2a2a" stroke-width="0.65"/>
<rect x="587.23" y="1195.27" width="48.48" height="12.07" fill="#ffffff" stroke="#2a2a2a" stroke-width="0.65"/>
<line x1="296.68" y1="1195.87" x2="344.55" y2="1182.81" stroke="#000" stroke-width="2.2" stroke-linecap="square"/>
<line x1="296.68" y1="1207.94" x2="344.55" y2="1194.87" stroke="#000" stroke-width="2.2" stroke-linecap="square"/>
<rect x="247.90" y="1183.21" width="387.80" height="24.13" fill="none" stroke="#333333" stroke-width="1.8"/>
<rect x="206.10" y="1222.39" width="39.90" height="24.13" fill="#e1e1e1" stroke="#333333" stroke-width="1.8"/>
<text x="225.8" y="1241.8" font-size="18.5" text-anchor="middle">27</text>
<rect x="247.90" y="1222.39" width="48.48" height="12.07" fill="#2f7ab7" stroke="#2a2a2a" stroke-width="0.65"/>
<rect x="296.38" y="1222.39" width="48.48" height="12.07" fill="#31a51f" stroke="#2a2a2a" stroke-width="0.65"/>
<rect x="344.85" y="1222.39" width="48.48" height="12.07" fill="#fda6a9" stroke="#2a2a2a" stroke-width="0.65"/>
<rect x="393.33" y="1222.39" width="48.48" height="12.07" fill="#ffffff" stroke="#2a2a2a" stroke-width="0.65"/>
<rect x="441.80" y="1222.39" width="48.48" height="12.07" fill="#ffffff" stroke="#2a2a2a" stroke-width="0.65"/>
<rect x="490.28" y="1222.39" width="48.48" height="12.07" fill="#ffffff" stroke="#2a2a2a" stroke-width="0.65"/>
<rect x="538.75" y="1222.39" width="48.48" height="12.07" fill="#ffffff" stroke="#2a2a2a" stroke-width="0.65"/>
<rect x="587.23" y="1222.39" width="48.48" height="12.07" fill="#ffffff" stroke="#2a2a2a" stroke-width="0.65"/>
<rect x="247.90" y="1234.46" width="48.48" height="12.07" fill="#2f7ab7" stroke="#2a2a2a" stroke-width="0.65"/>
<rect x="296.38" y="1234.46" width="48.48" height="12.07" fill="#31a51f" stroke="#2a2a2a" stroke-width="0.65"/>
<rect x="344.85" y="1234.46" width="48.48" height="12.07" fill="#d72718" stroke="#2a2a2a" stroke-width="0.65"/>
<rect x="393.33" y="1234.46" width="48.48" height="12.07" fill="#e2c1f1" stroke="#2a2a2a" stroke-width="0.65"/>
<rect x="441.80" y="1234.46" width="48.48" height="12.07" fill="#ffffff" stroke="#2a2a2a" stroke-width="0.65"/>
<rect x="490.28" y="1234.46" width="48.48" height="12.07" fill="#e2c1f1" stroke="#2a2a2a" stroke-width="0.65"/>
<rect x="538.75" y="1234.46" width="48.48" height="12.07" fill="#ffffff" stroke="#2a2a2a" stroke-width="0.65"/>
<rect x="587.23" y="1234.46" width="48.48" height="12.07" fill="#ffffff" stroke="#2a2a2a" stroke-width="0.65"/>
<line x1="296.68" y1="1235.06" x2="344.55" y2="1221.99" stroke="#000" stroke-width="2.2" stroke-linecap="square"/>
<line x1="296.68" y1="1247.12" x2="344.55" y2="1234.06" stroke="#000" stroke-width="2.2" stroke-linecap="square"/>
<rect x="247.90" y="1222.39" width="387.80" height="24.13" fill="none" stroke="#333333" stroke-width="1.8"/>
<text x="283.1" y="1266.0" font-size="19.9" fill="#4d4d4d" text-anchor="end" transform="rotate(-45 283.1 1266.0)">Tumor Origin</text>
<text x="331.6" y="1266.0" font-size="19.9" fill="#4d4d4d" text-anchor="end" transform="rotate(-45 331.6 1266.0)">Germline Mutation</text>
<text x="380.1" y="1266.0" font-size="19.9" fill="#4d4d4d" text-anchor="end" transform="rotate(-45 380.1 1266.0)">Tumor Type</text>
<text x="428.6" y="1266.0" font-size="19.9" fill="#4d4d4d" text-anchor="end" transform="rotate(-45 428.6 1266.0)">Platinums</text>
<text x="477.0" y="1266.0" font-size="19.9" fill="#4d4d4d" text-anchor="end" transform="rotate(-45 477.0 1266.0)">PARPi</text>
<text x="525.5" y="1266.0" font-size="19.9" fill="#4d4d4d" text-anchor="end" transform="rotate(-45 525.5 1266.0)">Chemotherapy</text>
<text x="574.0" y="1266.0" font-size="19.9" fill="#4d4d4d" text-anchor="end" transform="rotate(-45 574.0 1266.0)">Hormonal Therapy</text>
<text x="622.5" y="1266.0" font-size="19.9" fill="#4d4d4d" text-anchor="end" transform="rotate(-45 622.5 1266.0)">Radiation</text>
<text x="186.0" y="646.0" font-size="25.2" text-anchor="middle" transform="rotate(-90 186.0 646.0)">Patient</text>
<rect x="0.50" y="517.10" width="33.30" height="34.00" fill="#b9d5ea" stroke="#2b2b2b" stroke-width="0.9"/>
<text x="47.1" y="541.3" font-size="19.6">Breast</text>
<rect x="0.50" y="551.10" width="33.30" height="34.00" fill="#2f7ab7" stroke="#2b2b2b" stroke-width="0.9"/>
<text x="47.1" y="575.3" font-size="19.6">Ovary</text>
<rect x="0.50" y="585.10" width="33.30" height="34.00" fill="#d6ee8e" stroke="#2b2b2b" stroke-width="0.9"/>
<text x="47.1" y="609.3" font-size="19.6">BRCA1</text>
<rect x="0.50" y="619.10" width="33.30" height="34.00" fill="#31a51f" stroke="#2b2b2b" stroke-width="0.9"/>
<text x="47.1" y="643.3" font-size="19.6">BRCA2</text>
<rect x="0.50" y="653.10" width="33.30" height="34.00" fill="#fda6a9" stroke="#2b2b2b" stroke-width="0.9"/>
<text x="47.1" y="677.3" font-size="19.6">Primary</text>
<rect x="0.50" y="687.10" width="33.30" height="34.00" fill="#d72718" stroke="#2b2b2b" stroke-width="0.9"/>
<text x="47.1" y="711.3" font-size="19.6">Recurrence</text>
<rect x="0.50" y="721.10" width="33.30" height="34.00" fill="#e2c1f1" stroke="#2b2b2b" stroke-width="0.9"/>
<text x="47.1" y="745.3" font-size="19.6">Received</text>
<rect x="0.50" y="755.10" width="33.30" height="34.00" fill="#ffffff" stroke="#2b2b2b" stroke-width="0.9"/>
<text x="47.1" y="779.3" font-size="19.6">Not Received</text>
<rect x="1.20" y="831.20" width="32.40" height="31.40" fill="#fff" stroke="#000" stroke-width="2.4"/>
<line x1="1.20" y1="862.60" x2="33.60" y2="831.20" stroke="#000" stroke-width="2.4"/>
<text x="48.5" y="855.3" font-size="19.6">LOH</text>
<rect x="1.20" y="881.00" width="32.40" height="31.40" fill="#fff" stroke="#000" stroke-width="2.4"/>
<line x1="1.20" y1="896.70" x2="33.60" y2="896.70" stroke="#000" stroke-width="2.4"/>
<text x="48.5" y="892.4" font-size="19.6">LOH</text>
<text x="48.5" y="916.5" font-size="19.6">Undetermined</text>
<rect x="2.00" y="932.20" width="32.60" height="31.20" fill="#fff" stroke="#000" stroke-width="2.4"/>
<text x="50.0" y="954.8" font-size="19.6">nonLOH</text>
<text x="670.0" y="40.5" font-size="37" font-weight="bold">b</text>
<text x="837.2" y="30.2" font-size="18.3">Tumor Type</text>
<circle cx="969" cy="23.6" r="8.4" fill="#66bde3"/>
<text x="989.7" y="29.6" font-size="18.3">Ovarian</text>
<circle cx="1094.6" cy="23.8" r="8.6" fill="#111"/>
<text x="1117.5" y="29.0" font-size="18.3">Breast</text>
<clipPath id="bclip0"><rect x="768.3" y="76.0" width="232.60000000000002" height="738.7"/></clipPath>
<clipPath id="bclip1"><rect x="1012.9" y="76.0" width="232.80000000000007" height="738.7"/></clipPath>
<rect x="768.30" y="46.80" width="232.60" height="28.20" fill="#e1e1e1" stroke="#333333" stroke-width="2.2"/>
<text x="886.4" y="67.1" font-size="16.4" text-anchor="middle" fill="#1a1a1a">LOH to nonLOH</text>
<rect x="1012.90" y="46.80" width="232.80" height="28.20" fill="#e1e1e1" stroke="#333333" stroke-width="2.2"/>
<text x="1131.1" y="67.1" font-size="16.4" text-anchor="middle" fill="#1a1a1a">nonLOH to LOH</text>
<g clip-path="url(#bclip0)">
<line x1="806.00" y1="150.06" x2="806.00" y2="347.04" stroke="#000" stroke-width="3.3"/>
<line x1="806.00" y1="501.81" x2="806.00" y2="506.50" stroke="#000" stroke-width="3.3"/>
<rect x="765.90" y="347.04" width="80.20" height="154.77" fill="#fda6a9" stroke="#000" stroke-width="3.6"/>
<line x1="765.90" y1="456.25" x2="846.10" y2="456.25" stroke="#0a0a0a" stroke-width="6.6"/>
</g>
<g clip-path="url(#bclip0)">
<line x1="963.20" y1="425.43" x2="963.20" y2="586.90" stroke="#000" stroke-width="3.3"/>
<line x1="963.20" y1="715.21" x2="963.20" y2="734.97" stroke="#000" stroke-width="3.3"/>
<rect x="923.10" y="586.90" width="80.20" height="128.30" fill="#d72718" stroke="#000" stroke-width="3.6"/>
<line x1="923.10" y1="674.00" x2="1003.30" y2="674.00" stroke="#0a0a0a" stroke-width="6.6"/>
</g>
<g clip-path="url(#bclip1)">
<line x1="1050.70" y1="560.10" x2="1050.70" y2="579.53" stroke="#000" stroke-width="3.3"/>
<line x1="1050.70" y1="657.92" x2="1050.70" y2="714.87" stroke="#000" stroke-width="3.3"/>
<rect x="1010.60" y="579.53" width="80.20" height="78.39" fill="#fda6a9" stroke="#000" stroke-width="3.6"/>
<line x1="1010.60" y1="600.30" x2="1090.80" y2="600.30" stroke="#0a0a0a" stroke-width="6.6"/>
</g>
<g clip-path="url(#bclip1)">
<line x1="1207.60" y1="426.10" x2="1207.60" y2="448.88" stroke="#000" stroke-width="3.3"/>
<line x1="1207.60" y1="499.13" x2="1207.60" y2="526.60" stroke="#000" stroke-width="3.3"/>
<rect x="1167.50" y="448.88" width="80.20" height="50.25" fill="#d72718" stroke="#000" stroke-width="3.6"/>
<line x1="1167.50" y1="473.00" x2="1247.70" y2="473.00" stroke="#0a0a0a" stroke-width="6.6"/>
</g>
<line x1="806.00" y1="499.80" x2="963.20" y2="426.10" stroke="#000" stroke-width="3.3" stroke-linecap="round"/>
<line x1="806.00" y1="506.50" x2="963.20" y2="640.50" stroke="#000" stroke-width="3.3" stroke-linecap="round"/>
<line x1="806.00" y1="150.06" x2="963.20" y2="732.29" stroke="#66bde3" stroke-width="3.7" stroke-linecap="round"/>
<line x1="806.00" y1="412.70" x2="963.20" y2="714.20" stroke="#66bde3" stroke-width="3.7" stroke-linecap="round"/>
<circle cx="806.0" cy="150.1" r="3.3" fill="#000"/>
<circle cx="806.0" cy="412.7" r="3.3" fill="#000"/>
<circle cx="806.0" cy="499.8" r="3.3" fill="#000"/>
<circle cx="806.0" cy="506.5" r="3.3" fill="#000"/>
<circle cx="963.2" cy="426.1" r="3.3" fill="#000"/>
<circle cx="963.2" cy="640.5" r="3.3" fill="#000"/>
<circle cx="963.2" cy="707.5" r="3.3" fill="#000"/>
<circle cx="963.2" cy="735.0" r="3.3" fill="#000"/>
<circle cx="806.0" cy="127.3" r="4.6" fill="#66bde3"/>
<circle cx="806.0" cy="389.9" r="4.6" fill="#66bde3"/>
<circle cx="963.2" cy="685.4" r="4.6" fill="#66bde3"/>
<circle cx="963.2" cy="711.5" r="4.6" fill="#66bde3"/>
<line x1="1050.70" y1="560.10" x2="1207.60" y2="526.60" stroke="#000" stroke-width="3.3" stroke-linecap="round"/>
<line x1="1050.70" y1="600.30" x2="1207.60" y2="426.10" stroke="#000" stroke-width="3.3" stroke-linecap="round"/>
<line x1="1050.70" y1="714.87" x2="1207.60" y2="473.00" stroke="#000" stroke-width="3.3" stroke-linecap="round"/>
<circle cx="1050.7" cy="560.1" r="3.3" fill="#000"/>
<circle cx="1050.7" cy="714.9" r="3.3" fill="#000"/>
<circle cx="1207.6" cy="426.1" r="3.3" fill="#000"/>
<circle cx="1207.6" cy="526.6" r="3.3" fill="#000"/>
<line x1="767.20" y1="76.00" x2="1002.00" y2="76.00" stroke="#333333" stroke-width="3.6"/>
<rect x="768.30" y="76.00" width="232.60" height="738.70" fill="none" stroke="#333333" stroke-width="2.2"/>
<line x1="1011.80" y1="76.00" x2="1246.80" y2="76.00" stroke="#333333" stroke-width="3.6"/>
<rect x="1012.90" y="76.00" width="232.80" height="738.70" fill="none" stroke="#333333" stroke-width="2.2"/>
<line x1="762.60" y1="814.70" x2="767.20" y2="814.70" stroke="#333333" stroke-width="3.4"/>
<text x="758.5" y="821.3" font-size="16.3" text-anchor="end" fill="#4d4d4d">0</text>
<line x1="762.60" y1="647.20" x2="767.20" y2="647.20" stroke="#333333" stroke-width="3.4"/>
<text x="758.5" y="653.8" font-size="16.3" text-anchor="end" fill="#4d4d4d">25</text>
<line x1="762.60" y1="479.70" x2="767.20" y2="479.70" stroke="#333333" stroke-width="3.4"/>
<text x="758.5" y="486.3" font-size="16.3" text-anchor="end" fill="#4d4d4d">50</text>
<line x1="762.60" y1="312.20" x2="767.20" y2="312.20" stroke="#333333" stroke-width="3.4"/>
<text x="758.5" y="318.8" font-size="16.3" text-anchor="end" fill="#4d4d4d">75</text>
<line x1="762.60" y1="144.70" x2="767.20" y2="144.70" stroke="#333333" stroke-width="3.4"/>
<text x="758.5" y="151.3" font-size="16.3" text-anchor="end" fill="#4d4d4d">100</text>
<line x1="806.00" y1="815.80" x2="806.00" y2="820.10" stroke="#333333" stroke-width="3.4"/>
<text x="807.0" y="836.3" font-size="16.3" text-anchor="middle" fill="#4d4d4d">Primary</text>
<line x1="963.20" y1="815.80" x2="963.20" y2="820.10" stroke="#333333" stroke-width="3.4"/>
<text x="964.2" y="836.3" font-size="16.3" text-anchor="middle" fill="#4d4d4d">Recurrence</text>
<line x1="1050.70" y1="815.80" x2="1050.70" y2="820.10" stroke="#333333" stroke-width="3.4"/>
<text x="1051.7" y="836.3" font-size="16.3" text-anchor="middle" fill="#4d4d4d">Primary</text>
<line x1="1207.60" y1="815.80" x2="1207.60" y2="820.10" stroke="#333333" stroke-width="3.4"/>
<text x="1208.6" y="836.3" font-size="16.3" text-anchor="middle" fill="#4d4d4d">Recurrence</text>
<text x="723.3" y="446.0" font-size="19.1" text-anchor="middle" transform="rotate(-90 723.3 446.0)">HRD Score</text>
<text x="653.5" y="955.0" font-size="38.5" font-weight="bold">e</text>
<clipPath id="eclip"><rect x="701.4" y="965.6" width="423.80000000000007" height="526.4"/></clipPath>
<g clip-path="url(#eclip)">
<rect x="699.90" y="1386.13" width="98.60" height="105.87" fill="#31a51f" stroke="#000" stroke-width="3.0"/>
<rect x="699.90" y="1210.15" width="98.60" height="175.99" fill="#d6ee8e" stroke="#000" stroke-width="3.0"/>
<rect x="699.90" y="1033.70" width="98.60" height="176.45" fill="#dcdadb" stroke="#000" stroke-width="3.0"/>
<rect x="809.30" y="1237.19" width="98.60" height="254.81" fill="#31a51f" stroke="#000" stroke-width="3.0"/>
<rect x="809.30" y="1135.44" width="98.60" height="101.74" fill="#d6ee8e" stroke="#000" stroke-width="3.0"/>
<rect x="809.30" y="1059.36" width="98.60" height="76.08" fill="#dcdadb" stroke="#000" stroke-width="3.0"/>
<rect x="809.30" y="1033.70" width="98.60" height="25.66" fill="#7b29ab" stroke="#000" stroke-width="3.0"/>
<rect x="918.70" y="1459.46" width="98.60" height="32.54" fill="#31a51f" stroke="#000" stroke-width="3.0"/>
<rect x="918.70" y="1295.39" width="98.60" height="164.07" fill="#d6ee8e" stroke="#000" stroke-width="3.0"/>
<rect x="918.70" y="1033.70" width="98.60" height="261.69" fill="#dcdadb" stroke="#000" stroke-width="3.0"/>
<rect x="1028.00" y="1450.29" width="98.60" height="41.71" fill="#31a51f" stroke="#000" stroke-width="3.0"/>
<rect x="1028.00" y="1346.26" width="98.60" height="104.03" fill="#d6ee8e" stroke="#000" stroke-width="3.0"/>
<rect x="1028.00" y="1096.03" width="98.60" height="250.23" fill="#dcdadb" stroke="#000" stroke-width="3.0"/>
<rect x="1028.00" y="1033.70" width="98.60" height="62.33" fill="#e2c1f1" stroke="#000" stroke-width="3.0"/>
<line x1="814.80" y1="982.50" x2="1130.00" y2="982.50" stroke="#000" stroke-width="2.9"/>
<line x1="913.00" y1="996.20" x2="1130.00" y2="996.20" stroke="#000" stroke-width="2.9"/>
<line x1="690.00" y1="1010.40" x2="1011.20" y2="1010.40" stroke="#000" stroke-width="2.9"/>
<line x1="690.00" y1="1024.50" x2="902.00" y2="1024.50" stroke="#000" stroke-width="2.9"/>
</g>
<text x="967.2" y="980.0" font-size="15.6" text-anchor="middle">**</text>
<text x="1021.8" y="995.6" font-size="16.2" text-anchor="middle">ns</text>
<text x="859.4" y="1007.6" font-size="16.2" text-anchor="middle">ns</text>
<text x="804.0" y="1023.2" font-size="16.2" text-anchor="middle">ns</text>
<rect x="701.40" y="965.60" width="423.80" height="526.40" fill="none" stroke="#333333" stroke-width="2.2"/>
<line x1="696.40" y1="1492.00" x2="700.30" y2="1492.00" stroke="#333333" stroke-width="3.4"/>
<text x="682.6" y="1498.6" font-size="16.3" text-anchor="middle" fill="#4d4d4d">0</text>
<line x1="696.40" y1="1377.42" x2="700.30" y2="1377.42" stroke="#333333" stroke-width="3.4"/>
<text x="682.6" y="1384.0" font-size="16.3" text-anchor="middle" fill="#4d4d4d">25</text>
<line x1="696.40" y1="1262.85" x2="700.30" y2="1262.85" stroke="#333333" stroke-width="3.4"/>
<text x="682.6" y="1269.4" font-size="16.3" text-anchor="middle" fill="#4d4d4d">50</text>
<line x1="696.40" y1="1148.28" x2="700.30" y2="1148.28" stroke="#333333" stroke-width="3.4"/>
<text x="682.6" y="1154.9" font-size="16.3" text-anchor="middle" fill="#4d4d4d">75</text>
<line x1="696.40" y1="1033.70" x2="700.30" y2="1033.70" stroke="#333333" stroke-width="3.4"/>
<text x="682.6" y="1040.3" font-size="16.3" text-anchor="middle" fill="#4d4d4d">100</text>
<line x1="749.20" y1="1493.10" x2="749.20" y2="1497.00" stroke="#333333" stroke-width="3.4"/>
<text x="748.9" y="1508.3" font-size="16.3" text-anchor="middle" fill="#4d4d4d">Breast</text>
<text x="750.8" y="1525.6" font-size="16.3" text-anchor="middle" fill="#4d4d4d">Primary</text>
<line x1="858.60" y1="1493.10" x2="858.60" y2="1497.00" stroke="#333333" stroke-width="3.4"/>
<text x="858.3" y="1508.3" font-size="16.3" text-anchor="middle" fill="#4d4d4d">Breast</text>
<text x="864.9" y="1525.6" font-size="16.3" text-anchor="middle" fill="#4d4d4d">Recurrence</text>
<line x1="968.00" y1="1493.10" x2="968.00" y2="1497.00" stroke="#333333" stroke-width="3.4"/>
<text x="967.7" y="1508.3" font-size="16.3" text-anchor="middle" fill="#4d4d4d">Ovarian</text>
<text x="969.6" y="1525.6" font-size="16.3" text-anchor="middle" fill="#4d4d4d">Primary</text>
<line x1="1077.30" y1="1493.10" x2="1077.30" y2="1497.00" stroke="#333333" stroke-width="3.4"/>
<text x="1077.0" y="1508.3" font-size="16.3" text-anchor="middle" fill="#4d4d4d">Ovarian</text>
<text x="1083.6" y="1525.6" font-size="16.3" text-anchor="middle" fill="#4d4d4d">Recurrence</text>
<text x="663.5" y="1212.0" font-size="16.3" text-anchor="middle" transform="rotate(-90 663.5 1212.0)">Percent of Tumors (%)</text>
<text x="1144.8" y="1185.2" font-size="16.3"><tspan font-style="italic">PARP1</tspan> Copy</text>
<text x="1144.8" y="1202.2" font-size="16.3">Number Status</text>
<rect x="1144.80" y="1208.60" width="12.90" height="14.24" fill="#7b29ab" stroke="#000" stroke-width="3.2"/>
<text x="1164.9" y="1222.4" font-size="16.3">Deletion</text>
<rect x="1144.80" y="1222.84" width="12.90" height="14.24" fill="#e2c1f1" stroke="#000" stroke-width="3.2"/>
<text x="1164.9" y="1236.7" font-size="16.3">Loss</text>
<rect x="1144.80" y="1237.08" width="12.90" height="14.24" fill="#dcdadb" stroke="#000" stroke-width="3.2"/>
<text x="1164.9" y="1250.9" font-size="16.3">Neutral</text>
<rect x="1144.80" y="1251.32" width="12.90" height="14.24" fill="#d6ee8e" stroke="#000" stroke-width="3.2"/>
<text x="1164.9" y="1265.1" font-size="16.3">Gain</text>
<rect x="1144.80" y="1265.56" width="12.90" height="14.24" fill="#31a51f" stroke="#000" stroke-width="3.2"/>
<text x="1164.9" y="1279.4" font-size="16.3">Amplification</text>
<text x="1271.0" y="39.5" font-size="38" font-weight="bold">c</text>
<rect x="1403.40" y="121.10" width="405.10" height="68.00" fill="#ebecec"/>
<rect x="1372.30" y="121.10" width="24.30" height="68.00" fill="#050505"/>
<rect x="1403.40" y="248.40" width="405.10" height="56.80" fill="#ebecec"/>
<rect x="1372.30" y="248.40" width="24.30" height="56.80" fill="#050505"/>
<rect x="1403.40" y="358.90" width="405.10" height="50.40" fill="#ebecec"/>
<rect x="1372.30" y="358.90" width="24.30" height="50.40" fill="#050505"/>
<rect x="1403.40" y="457.60" width="405.10" height="40.30" fill="#ebecec"/>
<rect x="1372.30" y="457.60" width="24.30" height="40.30" fill="#050505"/>
<rect x="1403.40" y="536.00" width="405.10" height="41.60" fill="#ebecec"/>
<rect x="1372.30" y="536.00" width="24.30" height="41.60" fill="#050505"/>
<rect x="1403.40" y="615.10" width="405.10" height="38.90" fill="#ebecec"/>
<rect x="1372.30" y="615.10" width="24.30" height="38.90" fill="#050505"/>
<rect x="1403.40" y="683.90" width="405.10" height="22.40" fill="#ebecec"/>
<rect x="1372.30" y="683.90" width="24.30" height="22.40" fill="#050505"/>
<rect x="1403.40" y="731.50" width="405.10" height="22.60" fill="#ebecec"/>
<rect x="1372.30" y="731.50" width="24.30" height="22.60" fill="#050505"/>
<rect x="1403.40" y="779.90" width="405.10" height="22.40" fill="#ebecec"/>
<rect x="1372.30" y="779.90" width="24.30" height="22.40" fill="#050505"/>
<rect x="1403.40" y="819.60" width="405.10" height="17.60" fill="#ebecec"/>
<rect x="1372.30" y="819.60" width="24.30" height="17.60" fill="#050505"/>
<rect x="1403.40" y="848.60" width="405.10" height="10.40" fill="#ebecec"/>
<rect x="1372.30" y="848.60" width="24.30" height="10.40" fill="#050505"/>
<line x1="1787.3" y1="89.0" x2="1806.5" y2="89.0" stroke="#3c3c3c" stroke-width="1.5" stroke-dasharray="1.5 13.27"/>
<line x1="1536.2" y1="146.9" x2="1806.5" y2="146.9" stroke="#3c3c3c" stroke-width="1.5" stroke-dasharray="1.5 13.27"/>
<line x1="1403.3" y1="216.8" x2="1806.5" y2="216.8" stroke="#3c3c3c" stroke-width="1.5" stroke-dasharray="1.5 13.27"/>
<line x1="1728.2" y1="261.5" x2="1806.5" y2="261.5" stroke="#3c3c3c" stroke-width="1.5" stroke-dasharray="1.5 13.27"/>
<line x1="1403.3" y1="318.9" x2="1806.5" y2="318.9" stroke="#3c3c3c" stroke-width="1.5" stroke-dasharray="1.5 13.27"/>
<line x1="1432.8" y1="377.1" x2="1806.5" y2="377.1" stroke="#3c3c3c" stroke-width="1.5" stroke-dasharray="1.5 13.27"/>
<line x1="1403.3" y1="426.9" x2="1806.5" y2="426.9" stroke="#3c3c3c" stroke-width="1.5" stroke-dasharray="1.5 13.27"/>
<line x1="1403.3" y1="469.4" x2="1806.5" y2="469.4" stroke="#3c3c3c" stroke-width="1.5" stroke-dasharray="1.5 13.27"/>
<line x1="1698.7" y1="511.3" x2="1806.5" y2="511.3" stroke="#3c3c3c" stroke-width="1.5" stroke-dasharray="1.5 13.27"/>
<line x1="1787.3" y1="548.5" x2="1806.5" y2="548.5" stroke="#3c3c3c" stroke-width="1.5" stroke-dasharray="1.5 13.27"/>
<line x1="1403.3" y1="591.9" x2="1806.5" y2="591.9" stroke="#3c3c3c" stroke-width="1.5" stroke-dasharray="1.5 13.27"/>
<line x1="1610.1" y1="625.5" x2="1806.5" y2="625.5" stroke="#3c3c3c" stroke-width="1.5" stroke-dasharray="1.5 13.27"/>
<line x1="1403.3" y1="653.4" x2="1806.5" y2="653.4" stroke="#3c3c3c" stroke-width="1.5" stroke-dasharray="1.5 13.27"/>
<line x1="1521.5" y1="683.9" x2="1806.5" y2="683.9" stroke="#3c3c3c" stroke-width="1.5" stroke-dasharray="1.5 13.27"/>
<line x1="1403.3" y1="706.0" x2="1806.5" y2="706.0" stroke="#3c3c3c" stroke-width="1.5" stroke-dasharray="1.5 13.27"/>
<line x1="1551.0" y1="742.4" x2="1806.5" y2="742.4" stroke="#3c3c3c" stroke-width="1.5" stroke-dasharray="1.5 13.27"/>
<line x1="1639.6" y1="762.0" x2="1806.5" y2="762.0" stroke="#3c3c3c" stroke-width="1.5" stroke-dasharray="1.5 13.27"/>
<line x1="1536.2" y1="784.4" x2="1806.5" y2="784.4" stroke="#3c3c3c" stroke-width="1.5" stroke-dasharray="1.5 13.27"/>
<line x1="1565.8" y1="809.8" x2="1806.5" y2="809.8" stroke="#3c3c3c" stroke-width="1.5" stroke-dasharray="1.5 13.27"/>
<line x1="1787.3" y1="827.4" x2="1806.5" y2="827.4" stroke="#3c3c3c" stroke-width="1.5" stroke-dasharray="1.5 13.27"/>
<line x1="1447.6" y1="837.2" x2="1806.5" y2="837.2" stroke="#3c3c3c" stroke-width="1.5" stroke-dasharray="1.5 13.27"/>
<line x1="1624.9" y1="849.0" x2="1806.5" y2="849.0" stroke="#3c3c3c" stroke-width="1.5" stroke-dasharray="1.5 13.27"/>
<g stroke="#d9281c" fill="none">
<line x1="1403.4" y1="53.4" x2="1424.3" y2="53.4" stroke-width="1.5"/>
<line x1="1403.4" y1="55.4" x2="1689.6" y2="55.4" stroke-width="1.5"/>
<line x1="1403.4" y1="68.0" x2="1431.3" y2="68.0" stroke-width="1.5"/>
<line x1="1403.4" y1="69.9" x2="1420.1" y2="69.9" stroke-width="1.5"/>
<line x1="1403.4" y1="89.0" x2="1777.7" y2="89.0" stroke-width="1.5"/>
<line x1="1428.5" y1="90.4" x2="1597.8" y2="90.4" stroke-width="2.2"/>
<line x1="1428.5" y1="91.8" x2="1555.8" y2="91.8" stroke-width="1.5"/>
<line x1="1403.4" y1="93.2" x2="1513.9" y2="93.2" stroke-width="1.5"/>
<line x1="1421.5" y1="95.1" x2="1519.5" y2="95.1" stroke-width="1.5"/>
<line x1="1403.4" y1="97.4" x2="1421.5" y2="97.4" stroke-width="1.5"/>
<line x1="1403.4" y1="113.3" x2="1432.7" y2="113.3" stroke-width="1.5"/>
<line x1="1403.4" y1="114.7" x2="1452.3" y2="114.7" stroke-width="1.5"/>
<line x1="1403.4" y1="116.1" x2="1569.0" y2="116.1" stroke-width="1.5"/>
<line x1="1403.4" y1="117.5" x2="1491.5" y2="117.5" stroke-width="1.5"/>
<line x1="1403.4" y1="118.6" x2="1481.7" y2="118.6" stroke-width="1.5"/>
<line x1="1403.4" y1="120.0" x2="1410.4" y2="120.0" stroke-width="1.5"/>
<line x1="1403.4" y1="137.4" x2="1450.4" y2="137.4" stroke-width="1.5"/>
<line x1="1403.4" y1="138.8" x2="1422.9" y2="138.8" stroke-width="1.5"/>
<line x1="1403.4" y1="146.9" x2="1534.8" y2="146.9" stroke-width="1.5"/>
<line x1="1403.4" y1="149.1" x2="1407.6" y2="149.1" stroke-width="1.5"/>
<line x1="1403.4" y1="150.8" x2="1407.6" y2="150.8" stroke-width="1.5"/>
<line x1="1403.4" y1="152.7" x2="1486.7" y2="152.7" stroke-width="1.5"/>
<line x1="1403.4" y1="157.5" x2="1457.9" y2="157.5" stroke-width="1.5"/>
<line x1="1403.4" y1="159.7" x2="1416.0" y2="159.7" stroke-width="1.5"/>
<line x1="1403.4" y1="162.3" x2="1429.9" y2="162.3" stroke-width="1.5"/>
<line x1="1403.4" y1="163.9" x2="1455.1" y2="163.9" stroke-width="1.5"/>
<line x1="1403.4" y1="165.3" x2="1429.9" y2="165.3" stroke-width="1.5"/>
<line x1="1403.4" y1="166.7" x2="1443.9" y2="166.7" stroke-width="1.5"/>
<line x1="1403.4" y1="168.4" x2="1453.7" y2="168.4" stroke-width="1.5"/>
<line x1="1403.4" y1="170.1" x2="1429.9" y2="170.1" stroke-width="1.5"/>
<line x1="1403.4" y1="171.5" x2="1441.1" y2="171.5" stroke-width="1.5"/>
<line x1="1403.4" y1="173.4" x2="1424.3" y2="173.4" stroke-width="1.5"/>
<line x1="1403.4" y1="189.7" x2="1431.3" y2="189.7" stroke-width="1.5"/>
<line x1="1403.4" y1="191.1" x2="1530.9" y2="191.1" stroke-width="1.5"/>
<line x1="1403.4" y1="192.7" x2="1418.7" y2="192.7" stroke-width="1.5"/>
<line x1="1403.4" y1="235.0" x2="1429.9" y2="235.0" stroke-width="1.5"/>
<line x1="1403.4" y1="237.2" x2="1476.1" y2="237.2" stroke-width="1.5"/>
<line x1="1457.9" y1="239.2" x2="1600.6" y2="239.2" stroke-width="1.5"/>
<line x1="1429.9" y1="240.3" x2="1555.8" y2="240.3" stroke-width="1.5"/>
<line x1="1403.4" y1="241.4" x2="1519.5" y2="241.4" stroke-width="1.5"/>
<line x1="1403.4" y1="243.4" x2="1429.9" y2="243.4" stroke-width="1.5"/>
<line x1="1403.4" y1="245.6" x2="1494.3" y2="245.6" stroke-width="1.5"/>
<line x1="1403.4" y1="246.7" x2="1533.5" y2="246.7" stroke-width="1.5"/>
<line x1="1403.4" y1="247.6" x2="1672.8" y2="247.6" stroke-width="1.5"/>
<line x1="1403.4" y1="261.5" x2="1727.0" y2="261.5" stroke-width="1.5"/>
<line x1="1403.4" y1="263.2" x2="1424.9" y2="263.2" stroke-width="1.5"/>
<line x1="1403.4" y1="265.2" x2="1407.6" y2="265.2" stroke-width="1.5"/>
<line x1="1403.4" y1="305.2" x2="1419.6" y2="305.2" stroke-width="1.5"/>
<line x1="1403.4" y1="315.8" x2="1546.6" y2="315.8" stroke-width="1.5"/>
<line x1="1403.4" y1="359.5" x2="1555.8" y2="359.5" stroke-width="1.5"/>
<line x1="1525.1" y1="360.9" x2="1555.8" y2="360.9" stroke-width="2"/>
<line x1="1518.1" y1="362.3" x2="1581.0" y2="362.3" stroke-width="2"/>
<line x1="1527.9" y1="363.7" x2="1611.8" y2="363.7" stroke-width="1.5"/>
<line x1="1555.8" y1="364.8" x2="1677.5" y2="364.8" stroke-width="1.5"/>
<line x1="1403.4" y1="367.3" x2="1732.6" y2="367.3" stroke-width="1.5"/>
<line x1="1443.9" y1="368.4" x2="1625.8" y2="368.4" stroke-width="2.5"/>
<line x1="1404.8" y1="369.8" x2="1455.1" y2="369.8" stroke-width="2"/>
<line x1="1403.4" y1="377.1" x2="1424.9" y2="377.1" stroke-width="1.5"/>
<line x1="1403.4" y1="378.8" x2="1410.4" y2="378.8" stroke-width="1.5"/>
<line x1="1403.4" y1="380.4" x2="1465.7" y2="380.4" stroke-width="1.5"/>
<line x1="1403.4" y1="395.8" x2="1411.8" y2="395.8" stroke-width="1.5"/>
<line x1="1403.4" y1="399.5" x2="1494.8" y2="399.5" stroke-width="1.5"/>
<line x1="1403.4" y1="431.6" x2="1452.9" y2="431.6" stroke-width="1.5"/>
<line x1="1403.4" y1="433.0" x2="1432.7" y2="433.0" stroke-width="1.5"/>
<line x1="1403.4" y1="434.7" x2="1443.9" y2="434.7" stroke-width="1.5"/>
<line x1="1403.4" y1="436.7" x2="1564.2" y2="436.7" stroke-width="1.5"/>
<line x1="1404.8" y1="438.6" x2="1443.9" y2="438.6" stroke-width="2"/>
<line x1="1403.4" y1="440.3" x2="1416.0" y2="440.3" stroke-width="1.5"/>
<line x1="1403.4" y1="449.0" x2="1431.3" y2="449.0" stroke-width="1.5"/>
<line x1="1403.4" y1="440.0" x2="1443.9" y2="440.0" stroke-width="1.5"/>
<line x1="1403.4" y1="449.0" x2="1431.3" y2="449.0" stroke-width="1.5"/>
<line x1="1403.4" y1="451.7" x2="1699.9" y2="451.7" stroke-width="1.5"/>
<line x1="1403.4" y1="453.1" x2="1429.9" y2="453.1" stroke-width="1.5"/>
<line x1="1403.4" y1="454.5" x2="1449.5" y2="454.5" stroke-width="1.5"/>
<line x1="1403.4" y1="456.8" x2="1493.7" y2="456.8" stroke-width="1.5"/>
<line x1="1403.4" y1="459.0" x2="1409.0" y2="459.0" stroke-width="1.5"/>
<line x1="1403.4" y1="460.4" x2="1564.2" y2="460.4" stroke-width="1.5"/>
<line x1="1403.4" y1="473.0" x2="1429.9" y2="473.0" stroke-width="1.5"/>
<line x1="1403.4" y1="476.4" x2="1416.0" y2="476.4" stroke-width="1.5"/>
<line x1="1403.4" y1="480.0" x2="1413.2" y2="480.0" stroke-width="1.5"/>
<line x1="1403.4" y1="483.4" x2="1596.4" y2="483.4" stroke-width="1.5"/>
<line x1="1403.4" y1="484.5" x2="1457.9" y2="484.5" stroke-width="1.5"/>
<line x1="1588.0" y1="485.3" x2="1621.6" y2="485.3" stroke-width="1.8"/>
<line x1="1602.0" y1="486.7" x2="1699.9" y2="486.7" stroke-width="1.8"/>
<line x1="1653.7" y1="488.1" x2="1723.7" y2="488.1" stroke-width="2"/>
<line x1="1712.5" y1="489.8" x2="1748.9" y2="489.8" stroke-width="2"/>
<line x1="1723.7" y1="491.8" x2="1783.0" y2="491.8" stroke-width="3.2"/>
<line x1="1723.7" y1="493.7" x2="1734.9" y2="493.7" stroke-width="1.5"/>
<line x1="1709.7" y1="496.0" x2="1723.7" y2="496.0" stroke-width="1.5"/>
<line x1="1403.4" y1="497.6" x2="1736.3" y2="497.6" stroke-width="1.5"/>
<line x1="1403.4" y1="508.5" x2="1613.2" y2="508.5" stroke-width="1.5"/>
<line x1="1404.8" y1="509.9" x2="1597.8" y2="509.9" stroke-width="2.5"/>
<line x1="1403.4" y1="511.9" x2="1684.5" y2="511.9" stroke-width="1.5"/>
<line x1="1403.4" y1="513.3" x2="1513.9" y2="513.3" stroke-width="1.5"/>
<line x1="1403.4" y1="536.8" x2="1421.0" y2="536.8" stroke-width="1.5"/>
<line x1="1403.4" y1="548.5" x2="1783.0" y2="548.5" stroke-width="1.5"/>
<line x1="1403.4" y1="563.7" x2="1523.7" y2="563.7" stroke-width="1.5"/>
<line x1="1403.4" y1="586.9" x2="1417.4" y2="586.9" stroke-width="1.5"/>
<line x1="1403.4" y1="595.8" x2="1461.3" y2="595.8" stroke-width="1.5"/>
<line x1="1404.8" y1="597.2" x2="1432.7" y2="597.2" stroke-width="2"/>
<line x1="1404.8" y1="598.6" x2="1432.7" y2="598.6" stroke-width="2"/>
<line x1="1403.4" y1="600.0" x2="1447.6" y2="600.0" stroke-width="1.5"/>
<line x1="1403.4" y1="602.0" x2="1455.7" y2="602.0" stroke-width="1.5"/>
<line x1="1403.4" y1="615.4" x2="1419.6" y2="615.4" stroke-width="1.5"/>
<line x1="1403.4" y1="617.1" x2="1453.7" y2="617.1" stroke-width="1.5"/>
<line x1="1403.4" y1="621.3" x2="1438.3" y2="621.3" stroke-width="1.5"/>
<line x1="1403.4" y1="622.7" x2="1438.3" y2="622.7" stroke-width="1.5"/>
<line x1="1404.8" y1="623.8" x2="1453.7" y2="623.8" stroke-width="2.4"/>
<line x1="1404.8" y1="624.9" x2="1509.7" y2="624.9" stroke-width="3"/>
<line x1="1403.4" y1="625.8" x2="1608.4" y2="625.8" stroke-width="1.5"/>
<line x1="1403.4" y1="658.5" x2="1431.3" y2="658.5" stroke-width="1.5"/>
<line x1="1403.4" y1="662.9" x2="1433.3" y2="662.9" stroke-width="1.5"/>
<line x1="1403.4" y1="683.9" x2="1511.9" y2="683.9" stroke-width="1.5"/>
<line x1="1403.4" y1="729.5" x2="1752.5" y2="729.5" stroke-width="1.5"/>
<line x1="1404.8" y1="730.6" x2="1614.0" y2="730.6" stroke-width="3.6"/>
<line x1="1403.4" y1="742.4" x2="1548.0" y2="742.4" stroke-width="1.5"/>
<line x1="1403.4" y1="758.1" x2="1405.6" y2="758.1" stroke-width="1.5"/>
<line x1="1403.4" y1="762.5" x2="1631.9" y2="762.5" stroke-width="1.5"/>
<line x1="1403.4" y1="772.3" x2="1443.9" y2="772.3" stroke-width="1.5"/>
<line x1="1403.4" y1="773.7" x2="1459.3" y2="773.7" stroke-width="1.5"/>
<line x1="1416.0" y1="775.4" x2="1452.3" y2="775.4" stroke-width="1.5"/>
<line x1="1403.4" y1="776.8" x2="1427.1" y2="776.8" stroke-width="1.5"/>
<line x1="1403.4" y1="778.2" x2="1427.1" y2="778.2" stroke-width="1.5"/>
<line x1="1403.4" y1="779.9" x2="1446.7" y2="779.9" stroke-width="1.5"/>
<line x1="1403.4" y1="784.4" x2="1525.3" y2="784.4" stroke-width="1.5"/>
<line x1="1404.8" y1="809.5" x2="1557.8" y2="809.5" stroke-width="2.4"/>
<line x1="1403.4" y1="811.2" x2="1471.9" y2="811.2" stroke-width="1.5"/>
<line x1="1403.4" y1="827.4" x2="1783.0" y2="827.4" stroke-width="1.5"/>
<line x1="1403.4" y1="832.5" x2="1437.8" y2="832.5" stroke-width="1.5"/>
<line x1="1403.4" y1="833.9" x2="1431.3" y2="833.9" stroke-width="1.5"/>
<line x1="1403.4" y1="835.3" x2="1431.3" y2="835.3" stroke-width="1.5"/>
<line x1="1403.4" y1="837.2" x2="1443.9" y2="837.2" stroke-width="1.5"/>
<line x1="1403.4" y1="848.7" x2="1611.2" y2="848.7" stroke-width="1.5"/>
<line x1="1404.8" y1="849.3" x2="1553.0" y2="849.3" stroke-width="2.4"/>
</g>
<line x1="1490.00" y1="50.60" x2="1490.00" y2="859.00" stroke="#62b30c" stroke-width="1.9"/>
<rect x="1403.40" y="50.60" width="405.10" height="808.40" fill="none" stroke="#000" stroke-width="1.5"/>
<rect x="1372.30" y="50.60" width="24.30" height="808.40" fill="none" stroke="#000" stroke-width="1.5"/>
<text x="1403.4" y="46.3" font-size="16" text-anchor="middle">0.2</text>
<line x1="1418.70" y1="50.60" x2="1418.70" y2="55.10" stroke="#000" stroke-width="1.1"/>
<text x="1418.7" y="46.3" font-size="16" text-anchor="middle">0.4</text>
<text x="1490.0" y="46.3" font-size="16" text-anchor="middle">0.62</text>
<line x1="1557.20" y1="50.60" x2="1557.20" y2="55.10" stroke="#000" stroke-width="1.1"/>
<text x="1557.2" y="46.3" font-size="16" text-anchor="middle">0.8</text>
<text x="1490.0" y="894.1" font-size="16" text-anchor="middle">0.25</text>
<line x1="1531.20" y1="859.00" x2="1531.20" y2="854.50" stroke="#000" stroke-width="1.1"/>
<text x="1530.2" y="895.9" font-size="16" text-anchor="middle">10<tspan dy="-7.5" font-size="12.5">−1</tspan></text>
<line x1="1606.30" y1="859.00" x2="1606.30" y2="854.50" stroke="#000" stroke-width="1.1"/>
<text x="1605.3" y="895.9" font-size="16" text-anchor="middle">10<tspan dy="-7.5" font-size="12.5">−2</tspan></text>
<line x1="1658.00" y1="859.00" x2="1658.00" y2="854.50" stroke="#000" stroke-width="1.1"/>
<text x="1657.0" y="895.9" font-size="16" text-anchor="middle">10<tspan dy="-7.5" font-size="12.5">−3</tspan></text>
<line x1="1733.20" y1="859.00" x2="1733.20" y2="854.50" stroke="#000" stroke-width="1.1"/>
<text x="1732.2" y="895.9" font-size="16" text-anchor="middle">10<tspan dy="-7.5" font-size="12.5">−5</tspan></text>
<line x1="1807.90" y1="859.00" x2="1807.90" y2="854.50" stroke="#000" stroke-width="1.1"/>
<text x="1806.9" y="895.9" font-size="16" text-anchor="middle">10<tspan dy="-7.5" font-size="12.5">−8</tspan></text>
<text x="1596.0" y="32.7" font-size="16" text-anchor="middle">G-Score</text>
<text x="1611.8" y="909.2" font-size="16" text-anchor="middle">FDR q-value</text>
<text x="1370" y="12.7" font-size="17" font-weight="bold" textLength="402" lengthAdjust="spacingAndGlyphs">Primary Breast and Ovarian Tumor Amplifications</text>
<text x="1304.5" y="92.0" font-size="16" text-anchor="middle">1</text>
<text x="1345.0" y="161.6" font-size="16" text-anchor="middle">2</text>
<text x="1304.5" y="224.8" font-size="16" text-anchor="middle">3</text>
<text x="1345.0" y="282.8" font-size="16" text-anchor="middle">4</text>
<text x="1304.5" y="338.1" font-size="16" text-anchor="middle">5</text>
<text x="1345.0" y="390.2" font-size="16" text-anchor="middle">6</text>
<text x="1304.5" y="439.1" font-size="16" text-anchor="middle">7</text>
<text x="1345.0" y="484.1" font-size="16" text-anchor="middle">8</text>
<text x="1304.5" y="522.7" font-size="16" text-anchor="middle">9</text>
<text x="1345.0" y="562.9" font-size="16" text-anchor="middle">10</text>
<text x="1304.5" y="601.8" font-size="16" text-anchor="middle">11</text>
<text x="1345.0" y="640.8" font-size="16" text-anchor="middle">12</text>
<text x="1304.5" y="675.0" font-size="16" text-anchor="middle">13</text>
<text x="1345.0" y="700.8" font-size="16" text-anchor="middle">14</text>
<text x="1304.5" y="724.7" font-size="16" text-anchor="middle">15</text>
<text x="1345.0" y="749.0" font-size="16" text-anchor="middle">16</text>
<text x="1304.5" y="773.2" font-size="16" text-anchor="middle">17</text>
<text x="1345.0" y="796.7" font-size="16" text-anchor="middle">18</text>
<text x="1304.5" y="816.6" font-size="16" text-anchor="middle">19</text>
<text x="1345.0" y="834.0" font-size="16" text-anchor="middle">20</text>
<text x="1304.5" y="848.4" font-size="16" text-anchor="middle">21</text>
<text x="1345.0" y="859.9" font-size="16" text-anchor="middle">22</text>
<polyline points="1808.5,55.7 1823.8,55.7 1856.0,50.9" fill="none" stroke="#000" stroke-width="1.5"/>
<text x="1859.6" y="56.7" font-size="16.3">1p36.13</text>
<polyline points="1808.5,89.3 1823.8,89.3 1856.0,72.0" fill="none" stroke="#000" stroke-width="1.5"/>
<text x="1859.6" y="77.8" font-size="16.3">1q21.1</text>
<polyline points="1808.5,89.9 1823.8,89.9 1856.0,93.0" fill="none" stroke="#000" stroke-width="1.5"/>
<text x="1859.6" y="98.8" font-size="16.3">1q21.2</text>
<polyline points="1808.5,90.5 1823.8,90.5 1856.0,114.1" fill="none" stroke="#000" stroke-width="1.5"/>
<text x="1859.6" y="119.9" font-size="16.3">1q21.3</text>
<polyline points="1808.5,116.5 1823.8,116.5 1856.0,135.2" fill="none" stroke="#000" stroke-width="1.5"/>
<text x="1859.6" y="141.0" font-size="16.3">1q42.3</text>
<polyline points="1808.5,147.1 1823.8,147.1 1856.0,156.3" fill="none" stroke="#000" stroke-width="1.5"/>
<text x="1859.6" y="162.1" font-size="16.3">2p11.1</text>
<polyline points="1808.5,191.3 1823.8,191.3 1856.0,190.9" fill="none" stroke="#000" stroke-width="1.5"/>
<text x="1859.6" y="196.7" font-size="16.3">3p26.1</text>
<polyline points="1808.5,239.4 1823.8,239.4 1856.0,228.2" fill="none" stroke="#000" stroke-width="1.5"/>
<text x="1859.6" y="234.0" font-size="16.3">3q26.2</text>
<polyline points="1808.5,247.3 1823.8,247.3 1856.0,249.7" fill="none" stroke="#000" stroke-width="1.5"/>
<text x="1859.6" y="255.5" font-size="16.3">3q29</text>
<polyline points="1808.5,261.6 1823.8,261.6 1856.0,271.2" fill="none" stroke="#000" stroke-width="1.5"/>
<text x="1859.6" y="277.0" font-size="16.3">4p11</text>
<polyline points="1808.5,316.1 1823.8,316.1 1856.0,310.9" fill="none" stroke="#000" stroke-width="1.5"/>
<text x="1859.6" y="316.7" font-size="16.3">5p13.2</text>
<polyline points="1808.5,367.6 1823.8,367.6 1856.0,332.4" fill="none" stroke="#000" stroke-width="1.5"/>
<text x="1859.6" y="338.2" font-size="16.3">6p22.2</text>
<polyline points="1808.5,368.2 1823.8,368.2 1856.0,353.5" fill="none" stroke="#000" stroke-width="1.5"/>
<text x="1859.6" y="359.3" font-size="16.3">6p22.1</text>
<polyline points="1808.5,368.8 1823.8,368.8 1856.0,374.6" fill="none" stroke="#000" stroke-width="1.5"/>
<text x="1859.6" y="380.4" font-size="16.3">6p21.32</text>
<polyline points="1808.5,398.8 1823.8,398.8 1856.0,396.0" fill="none" stroke="#000" stroke-width="1.5"/>
<text x="1859.6" y="401.8" font-size="16.3">6q23.2</text>
<polyline points="1808.5,436.7 1823.8,436.7 1856.0,417.1" fill="none" stroke="#000" stroke-width="1.5"/>
<text x="1859.6" y="422.9" font-size="16.3">7q21.2</text>
<polyline points="1808.5,451.8 1823.8,451.8 1856.0,438.6" fill="none" stroke="#000" stroke-width="1.5"/>
<text x="1859.6" y="444.4" font-size="16.3">7q34</text>
<polyline points="1808.5,461.0 1823.8,461.0 1856.0,459.8" fill="none" stroke="#000" stroke-width="1.5"/>
<text x="1859.6" y="465.6" font-size="16.3">8p23.1</text>
<polyline points="1808.5,486.4 1823.8,486.4 1856.0,481.2" fill="none" stroke="#000" stroke-width="1.5"/>
<text x="1859.6" y="487.0" font-size="16.3">8q23.1</text>
<polyline points="1808.5,492.8 1823.8,492.8 1856.0,502.3" fill="none" stroke="#000" stroke-width="1.5"/>
<text x="1859.6" y="508.1" font-size="16.3">8q24.21</text>
<polyline points="1808.5,508.7 1823.8,508.7 1856.0,523.4" fill="none" stroke="#000" stroke-width="1.5"/>
<text x="1859.6" y="529.2" font-size="16.3">9p13.2</text>
<polyline points="1808.5,511.5 1823.8,511.5 1856.0,544.5" fill="none" stroke="#000" stroke-width="1.5"/>
<text x="1859.6" y="550.3" font-size="16.3">9q13</text>
<polyline points="1808.5,548.4 1823.8,548.4 1856.0,565.9" fill="none" stroke="#000" stroke-width="1.5"/>
<text x="1859.6" y="571.7" font-size="16.3">10q11.21</text>
<polyline points="1808.5,563.5 1823.8,563.5 1856.0,587.0" fill="none" stroke="#000" stroke-width="1.5"/>
<text x="1859.6" y="592.8" font-size="16.3">10q23.31</text>
<polyline points="1808.5,625.6 1823.8,625.6 1856.0,625.6" fill="none" stroke="#000" stroke-width="1.5"/>
<text x="1859.6" y="631.4" font-size="16.3">12q12</text>
<polyline points="1808.5,684.0 1823.8,684.0 1856.0,647.8" fill="none" stroke="#000" stroke-width="1.5"/>
<text x="1859.6" y="653.6" font-size="16.3">14q11.2</text>
<polyline points="1808.5,729.3 1823.8,729.3 1856.0,668.9" fill="none" stroke="#000" stroke-width="1.5"/>
<text x="1859.6" y="674.7" font-size="16.3">15q26.1</text>
<polyline points="1808.5,730.6 1823.8,730.6 1856.0,690.0" fill="none" stroke="#000" stroke-width="1.5"/>
<text x="1859.6" y="695.8" font-size="16.3">15q26.3</text>
<polyline points="1808.5,742.4 1823.8,742.4 1856.0,711.5" fill="none" stroke="#000" stroke-width="1.5"/>
<text x="1859.6" y="717.3" font-size="16.3">16p11.2</text>
<polyline points="1808.5,762.3 1823.8,762.3 1856.0,732.5" fill="none" stroke="#000" stroke-width="1.5"/>
<text x="1859.6" y="738.3" font-size="16.3">17q11.2</text>
<polyline points="1808.5,784.4 1823.8,784.4 1856.0,753.6" fill="none" stroke="#000" stroke-width="1.5"/>
<text x="1859.6" y="759.4" font-size="16.3">18p11.21</text>
<polyline points="1808.5,809.8 1823.8,809.8 1856.0,774.7" fill="none" stroke="#000" stroke-width="1.5"/>
<text x="1859.6" y="780.5" font-size="16.3">19q12</text>
<polyline points="1808.5,827.2 1823.8,827.2 1856.0,795.7" fill="none" stroke="#000" stroke-width="1.5"/>
<text x="1859.6" y="801.5" font-size="16.3">20p11.1</text>
<polyline points="1808.5,827.8 1823.8,827.8 1856.0,816.8" fill="none" stroke="#000" stroke-width="1.5"/>
<text x="1859.6" y="822.6" font-size="16.3">20q11.21</text>
<polyline points="1808.5,848.6 1823.8,848.6 1856.0,838.3" fill="none" stroke="#000" stroke-width="1.5"/>
<text x="1859.6" y="844.1" font-size="16.3">22q11.1</text>
<polyline points="1808.5,849.4 1823.8,849.4 1856.0,859.4" fill="none" stroke="#000" stroke-width="1.5"/>
<text x="1859.6" y="865.2" font-size="16.3">22q11.21</text>
<text x="1284.7" y="459.6" font-size="16.3" fill="#db2a14" font-weight="bold" font-style="italic" stroke="#db2a14" stroke-width="0.35">CDK6</text>
<line x1="1333.60" y1="451.80" x2="1372.50" y2="436.70" stroke="#db2a14" stroke-width="3.6"/>
<text x="1289.8" y="498.6" font-size="16.3" fill="#db2a14" font-weight="bold" font-style="italic" stroke="#db2a14" stroke-width="0.35">MYC</text>
<line x1="1329.60" y1="492.80" x2="1372.50" y2="490.80" stroke="#db2a14" stroke-width="3.6"/>
<text x="1271.9" y="741.9" font-size="16.3" fill="#db2a14" font-weight="bold" font-style="italic" stroke="#db2a14" stroke-width="0.35">CHD2</text>
<line x1="1319.60" y1="735.30" x2="1372.50" y2="728.90" stroke="#db2a14" stroke-width="3.6"/>
<text x="1238.5" y="956.0" font-size="38" font-weight="bold">d</text>
<rect x="1403.40" y="1031.70" width="405.10" height="73.60" fill="#ebecec"/>
<rect x="1372.30" y="1031.70" width="24.30" height="73.60" fill="#050505"/>
<rect x="1403.40" y="1161.70" width="405.10" height="57.10" fill="#ebecec"/>
<rect x="1372.30" y="1161.70" width="24.30" height="57.10" fill="#050505"/>
<rect x="1403.40" y="1270.30" width="405.10" height="49.00" fill="#ebecec"/>
<rect x="1372.30" y="1270.30" width="24.30" height="49.00" fill="#050505"/>
<rect x="1403.40" y="1365.90" width="405.10" height="42.80" fill="#ebecec"/>
<rect x="1372.30" y="1365.90" width="24.30" height="42.80" fill="#050505"/>
<rect x="1403.40" y="1444.30" width="405.10" height="41.40" fill="#ebecec"/>
<rect x="1372.30" y="1444.30" width="24.30" height="41.40" fill="#050505"/>
<rect x="1403.40" y="1522.00" width="405.10" height="38.60" fill="#ebecec"/>
<rect x="1372.30" y="1522.00" width="24.30" height="38.60" fill="#050505"/>
<rect x="1403.40" y="1589.20" width="405.10" height="27.90" fill="#ebecec"/>
<rect x="1372.30" y="1589.20" width="24.30" height="27.90" fill="#050505"/>
<rect x="1403.40" y="1641.50" width="405.10" height="24.60" fill="#ebecec"/>
<rect x="1372.30" y="1641.50" width="24.30" height="24.60" fill="#050505"/>
<rect x="1403.40" y="1690.70" width="405.10" height="22.40" fill="#ebecec"/>
<rect x="1372.30" y="1690.70" width="24.30" height="22.40" fill="#050505"/>
<rect x="1403.40" y="1731.30" width="405.10" height="17.90" fill="#ebecec"/>
<rect x="1372.30" y="1731.30" width="24.30" height="17.90" fill="#050505"/>
<rect x="1403.40" y="1759.30" width="405.10" height="13.10" fill="#ebecec"/>
<rect x="1372.30" y="1759.30" width="24.30" height="13.10" fill="#050505"/>
<line x1="1757.8" y1="1001.2" x2="1806.5" y2="1001.2" stroke="#3c3c3c" stroke-width="1.5" stroke-dasharray="1.5 13.27"/>
<line x1="1639.6" y1="1059.7" x2="1806.5" y2="1059.7" stroke="#3c3c3c" stroke-width="1.5" stroke-dasharray="1.5 13.27"/>
<line x1="1403.3" y1="1131.8" x2="1806.5" y2="1131.8" stroke="#3c3c3c" stroke-width="1.5" stroke-dasharray="1.5 13.27"/>
<line x1="1698.7" y1="1173.8" x2="1806.5" y2="1173.8" stroke="#3c3c3c" stroke-width="1.5" stroke-dasharray="1.5 13.27"/>
<line x1="1403.3" y1="1230.8" x2="1806.5" y2="1230.8" stroke="#3c3c3c" stroke-width="1.5" stroke-dasharray="1.5 13.27"/>
<line x1="1403.3" y1="1286.8" x2="1806.5" y2="1286.8" stroke="#3c3c3c" stroke-width="1.5" stroke-dasharray="1.5 13.27"/>
<line x1="1683.9" y1="1335.5" x2="1806.5" y2="1335.5" stroke="#3c3c3c" stroke-width="1.5" stroke-dasharray="1.5 13.27"/>
<line x1="1403.3" y1="1378.8" x2="1806.5" y2="1378.8" stroke="#3c3c3c" stroke-width="1.5" stroke-dasharray="1.5 13.27"/>
<line x1="1713.5" y1="1421.3" x2="1806.5" y2="1421.3" stroke="#3c3c3c" stroke-width="1.5" stroke-dasharray="1.5 13.27"/>
<line x1="1654.4" y1="1456.0" x2="1806.5" y2="1456.0" stroke="#3c3c3c" stroke-width="1.5" stroke-dasharray="1.5 13.27"/>
<line x1="1551.0" y1="1498.6" x2="1806.5" y2="1498.6" stroke="#3c3c3c" stroke-width="1.5" stroke-dasharray="1.5 13.27"/>
<line x1="1639.6" y1="1532.7" x2="1806.5" y2="1532.7" stroke="#3c3c3c" stroke-width="1.5" stroke-dasharray="1.5 13.27"/>
<line x1="1477.2" y1="1560.1" x2="1806.5" y2="1560.1" stroke="#3c3c3c" stroke-width="1.5" stroke-dasharray="1.5 13.27"/>
<line x1="1728.2" y1="1589.2" x2="1806.5" y2="1589.2" stroke="#3c3c3c" stroke-width="1.5" stroke-dasharray="1.5 13.27"/>
<line x1="1418.1" y1="1617.1" x2="1806.5" y2="1617.1" stroke="#3c3c3c" stroke-width="1.5" stroke-dasharray="1.5 13.27"/>
<line x1="1580.5" y1="1652.1" x2="1806.5" y2="1652.1" stroke="#3c3c3c" stroke-width="1.5" stroke-dasharray="1.5 13.27"/>
<line x1="1624.9" y1="1675.0" x2="1806.5" y2="1675.0" stroke="#3c3c3c" stroke-width="1.5" stroke-dasharray="1.5 13.27"/>
<line x1="1624.9" y1="1695.2" x2="1806.5" y2="1695.2" stroke="#3c3c3c" stroke-width="1.5" stroke-dasharray="1.5 13.27"/>
<line x1="1418.1" y1="1720.1" x2="1806.5" y2="1720.1" stroke="#3c3c3c" stroke-width="1.5" stroke-dasharray="1.5 13.27"/>
<line x1="1713.5" y1="1740.2" x2="1806.5" y2="1740.2" stroke="#3c3c3c" stroke-width="1.5" stroke-dasharray="1.5 13.27"/>
<line x1="1506.7" y1="1748.9" x2="1806.5" y2="1748.9" stroke="#3c3c3c" stroke-width="1.5" stroke-dasharray="1.5 13.27"/>
<line x1="1654.4" y1="1759.8" x2="1806.5" y2="1759.8" stroke="#3c3c3c" stroke-width="1.5" stroke-dasharray="1.5 13.27"/>
<g stroke="#d9281c" fill="none">
<line x1="1404.8" y1="966.5" x2="1590.8" y2="966.5" stroke-width="2.4"/>
<line x1="1403.4" y1="967.9" x2="1709.7" y2="967.9" stroke-width="1.5"/>
<line x1="1403.4" y1="1001.2" x2="1746.1" y2="1001.2" stroke-width="1.5"/>
<line x1="1443.9" y1="1002.3" x2="1704.1" y2="1002.3" stroke-width="2.4"/>
<line x1="1443.9" y1="1003.4" x2="1611.8" y2="1003.4" stroke-width="2"/>
<line x1="1443.9" y1="1004.6" x2="1555.8" y2="1004.6" stroke-width="2"/>
<line x1="1443.9" y1="1005.7" x2="1512.5" y2="1005.7" stroke-width="2"/>
<line x1="1416.0" y1="1006.8" x2="1488.7" y2="1006.8" stroke-width="1.5"/>
<line x1="1403.4" y1="1008.2" x2="1477.5" y2="1008.2" stroke-width="1.5"/>
<line x1="1403.4" y1="1009.6" x2="1422.9" y2="1009.6" stroke-width="1.5"/>
<line x1="1403.4" y1="1013.8" x2="1453.7" y2="1013.8" stroke-width="1.5"/>
<line x1="1403.4" y1="1015.2" x2="1438.3" y2="1015.2" stroke-width="1.5"/>
<line x1="1403.4" y1="1016.3" x2="1418.7" y2="1016.3" stroke-width="1.5"/>
<line x1="1410.4" y1="1018.0" x2="1462.1" y2="1018.0" stroke-width="1.5"/>
<line x1="1403.4" y1="1019.4" x2="1443.9" y2="1019.4" stroke-width="1.5"/>
<line x1="1424.3" y1="1020.5" x2="1449.5" y2="1020.5" stroke-width="1.5"/>
<line x1="1427.1" y1="1022.2" x2="1449.5" y2="1022.2" stroke-width="2"/>
<line x1="1424.3" y1="1023.3" x2="1443.9" y2="1023.3" stroke-width="1.5"/>
<line x1="1416.0" y1="1024.4" x2="1462.1" y2="1024.4" stroke-width="1.5"/>
<line x1="1435.5" y1="1026.1" x2="1471.9" y2="1026.1" stroke-width="1.5"/>
<line x1="1452.3" y1="1027.8" x2="1514.7" y2="1027.8" stroke-width="1.5"/>
<line x1="1403.4" y1="1028.9" x2="1471.9" y2="1028.9" stroke-width="1.5"/>
<line x1="1403.4" y1="1030.0" x2="1452.3" y2="1030.0" stroke-width="1.5"/>
<line x1="1403.4" y1="1043.7" x2="1416.0" y2="1043.7" stroke-width="1.5"/>
<line x1="1403.4" y1="1045.1" x2="1506.0" y2="1045.1" stroke-width="1.5"/>
<line x1="1403.4" y1="1046.8" x2="1477.5" y2="1046.8" stroke-width="1.5"/>
<line x1="1403.4" y1="1058.5" x2="1438.3" y2="1058.5" stroke-width="1.5"/>
<line x1="1403.4" y1="1059.7" x2="1629.4" y2="1059.7" stroke-width="1.5"/>
<line x1="1413.2" y1="1061.3" x2="1539.0" y2="1061.3" stroke-width="1.5"/>
<line x1="1403.4" y1="1062.5" x2="1477.5" y2="1062.5" stroke-width="1.5"/>
<line x1="1403.4" y1="1063.6" x2="1505.5" y2="1063.6" stroke-width="1.5"/>
<line x1="1403.4" y1="1065.3" x2="1571.8" y2="1065.3" stroke-width="1.5"/>
<line x1="1403.4" y1="1066.4" x2="1471.9" y2="1066.4" stroke-width="1.5"/>
<line x1="1403.4" y1="1067.5" x2="1494.3" y2="1067.5" stroke-width="1.5"/>
<line x1="1403.4" y1="1069.7" x2="1499.9" y2="1069.7" stroke-width="1.5"/>
<line x1="1403.4" y1="1070.9" x2="1471.9" y2="1070.9" stroke-width="1.5"/>
<line x1="1403.4" y1="1072.0" x2="1570.7" y2="1072.0" stroke-width="1.5"/>
<line x1="1452.3" y1="1079.2" x2="1463.5" y2="1079.2" stroke-width="1.5"/>
<line x1="1457.9" y1="1080.9" x2="1525.6" y2="1080.9" stroke-width="1.5"/>
<line x1="1443.9" y1="1082.0" x2="1471.9" y2="1082.0" stroke-width="1.5"/>
<line x1="1432.7" y1="1083.2" x2="1463.5" y2="1083.2" stroke-width="1.5"/>
<line x1="1424.3" y1="1084.3" x2="1443.9" y2="1084.3" stroke-width="1.5"/>
<line x1="1424.3" y1="1085.4" x2="1504.1" y2="1085.4" stroke-width="1.5"/>
<line x1="1416.0" y1="1086.8" x2="1443.9" y2="1086.8" stroke-width="1.5"/>
<line x1="1403.4" y1="1087.9" x2="1432.7" y2="1087.9" stroke-width="1.5"/>
<line x1="1403.4" y1="1089.9" x2="1417.4" y2="1089.9" stroke-width="1.5"/>
<line x1="1403.4" y1="1108.9" x2="1410.9" y2="1108.9" stroke-width="1.5"/>
<line x1="1403.4" y1="1145.8" x2="1416.0" y2="1145.8" stroke-width="1.5"/>
<line x1="1416.0" y1="1147.8" x2="1432.7" y2="1147.8" stroke-width="1.5"/>
<line x1="1427.1" y1="1149.2" x2="1452.3" y2="1149.2" stroke-width="1.5"/>
<line x1="1443.9" y1="1150.3" x2="1488.7" y2="1150.3" stroke-width="1.5"/>
<line x1="1471.9" y1="1151.4" x2="1589.4" y2="1151.4" stroke-width="1.5"/>
<line x1="1527.9" y1="1152.5" x2="1611.8" y2="1152.5" stroke-width="1.5"/>
<line x1="1555.8" y1="1153.7" x2="1644.0" y2="1153.7" stroke-width="1.5"/>
<line x1="1485.9" y1="1155.1" x2="1611.8" y2="1155.1" stroke-width="1.5"/>
<line x1="1471.9" y1="1156.2" x2="1555.8" y2="1156.2" stroke-width="1.5"/>
<line x1="1466.3" y1="1157.3" x2="1527.9" y2="1157.3" stroke-width="1.5"/>
<line x1="1456.5" y1="1158.7" x2="1574.0" y2="1158.7" stroke-width="1.5"/>
<line x1="1427.1" y1="1150.0" x2="1589.4" y2="1150.0" stroke-width="1.5"/>
<line x1="1471.9" y1="1151.4" x2="1611.8" y2="1151.4" stroke-width="1.5"/>
<line x1="1488.7" y1="1152.8" x2="1644.0" y2="1152.8" stroke-width="1.5"/>
<line x1="1499.9" y1="1153.9" x2="1583.8" y2="1153.9" stroke-width="1.5"/>
<line x1="1527.9" y1="1155.0" x2="1550.2" y2="1155.0" stroke-width="1.5"/>
<line x1="1466.3" y1="1156.2" x2="1533.5" y2="1156.2" stroke-width="1.5"/>
<line x1="1457.9" y1="1157.3" x2="1527.9" y2="1157.3" stroke-width="1.5"/>
<line x1="1457.9" y1="1159.0" x2="1578.2" y2="1159.0" stroke-width="1.5"/>
<line x1="1438.3" y1="1160.6" x2="1642.6" y2="1160.6" stroke-width="1.5"/>
<line x1="1404.8" y1="1161.7" x2="1471.9" y2="1161.7" stroke-width="1.5"/>
<line x1="1403.4" y1="1162.9" x2="1441.1" y2="1162.9" stroke-width="1.5"/>
<line x1="1403.4" y1="1164.3" x2="1418.7" y2="1164.3" stroke-width="1.5"/>
<line x1="1403.4" y1="1173.8" x2="1684.5" y2="1173.8" stroke-width="1.5"/>
<line x1="1403.4" y1="1218.5" x2="1510.2" y2="1218.5" stroke-width="1.5"/>
<line x1="1403.4" y1="1223.3" x2="1466.3" y2="1223.3" stroke-width="1.5"/>
<line x1="1403.4" y1="1227.8" x2="1527.0" y2="1227.8" stroke-width="1.5"/>
<line x1="1404.8" y1="1270.0" x2="1483.1" y2="1270.0" stroke-width="2"/>
<line x1="1404.8" y1="1271.1" x2="1483.1" y2="1271.1" stroke-width="2"/>
<line x1="1443.9" y1="1272.3" x2="1491.5" y2="1272.3" stroke-width="2"/>
<line x1="1483.1" y1="1273.4" x2="1541.8" y2="1273.4" stroke-width="1.5"/>
<line x1="1443.9" y1="1274.5" x2="1511.1" y2="1274.5" stroke-width="1.5"/>
<line x1="1416.0" y1="1275.6" x2="1490.1" y2="1275.6" stroke-width="1.5"/>
<line x1="1404.8" y1="1277.0" x2="1420.1" y2="1277.0" stroke-width="2.4"/>
<line x1="1404.8" y1="1278.1" x2="1471.9" y2="1278.1" stroke-width="2"/>
<line x1="1403.4" y1="1279.0" x2="1643.1" y2="1279.0" stroke-width="1.5"/>
<line x1="1403.4" y1="1280.4" x2="1420.1" y2="1280.4" stroke-width="1.5"/>
<line x1="1403.4" y1="1291.3" x2="1439.2" y2="1291.3" stroke-width="1.5"/>
<line x1="1403.4" y1="1306.1" x2="1410.4" y2="1306.1" stroke-width="1.5"/>
<line x1="1403.4" y1="1308.1" x2="1488.1" y2="1308.1" stroke-width="1.5"/>
<line x1="1404.8" y1="1333.8" x2="1515.3" y2="1333.8" stroke-width="2"/>
<line x1="1404.8" y1="1334.9" x2="1471.9" y2="1334.9" stroke-width="2"/>
<line x1="1403.4" y1="1335.8" x2="1678.4" y2="1335.8" stroke-width="1.5"/>
<line x1="1404.8" y1="1336.9" x2="1485.9" y2="1336.9" stroke-width="2"/>
<line x1="1403.4" y1="1338.3" x2="1510.5" y2="1338.3" stroke-width="1.5"/>
<line x1="1403.4" y1="1340.2" x2="1457.9" y2="1340.2" stroke-width="1.5"/>
<line x1="1403.4" y1="1341.6" x2="1438.3" y2="1341.6" stroke-width="1.5"/>
<line x1="1427.1" y1="1342.8" x2="1443.9" y2="1342.8" stroke-width="1.5"/>
<line x1="1435.5" y1="1344.4" x2="1469.1" y2="1344.4" stroke-width="1.5"/>
<line x1="1427.1" y1="1345.6" x2="1452.3" y2="1345.6" stroke-width="1.5"/>
<line x1="1403.4" y1="1346.7" x2="1449.5" y2="1346.7" stroke-width="1.5"/>
<line x1="1403.4" y1="1359.3" x2="1455.7" y2="1359.3" stroke-width="1.5"/>
<line x1="1403.4" y1="1360.1" x2="1455.7" y2="1360.1" stroke-width="1.5"/>
<line x1="1403.4" y1="1362.9" x2="1509.7" y2="1362.9" stroke-width="1.5"/>
<line x1="1403.4" y1="1369.6" x2="1620.7" y2="1369.6" stroke-width="1.5"/>
<line x1="1403.4" y1="1382.2" x2="1475.3" y2="1382.2" stroke-width="1.5"/>
<line x1="1413.2" y1="1383.6" x2="1443.9" y2="1383.6" stroke-width="2.4"/>
<line x1="1416.0" y1="1385.0" x2="1443.9" y2="1385.0" stroke-width="2"/>
<line x1="1416.0" y1="1386.4" x2="1429.9" y2="1386.4" stroke-width="1.5"/>
<line x1="1403.4" y1="1387.5" x2="1449.5" y2="1387.5" stroke-width="1.5"/>
<line x1="1403.4" y1="1388.6" x2="1505.5" y2="1388.6" stroke-width="1.5"/>
<line x1="1403.4" y1="1389.7" x2="1452.3" y2="1389.7" stroke-width="1.5"/>
<line x1="1403.4" y1="1390.8" x2="1449.5" y2="1390.8" stroke-width="1.5"/>
<line x1="1403.4" y1="1392.0" x2="1416.0" y2="1392.0" stroke-width="1.5"/>
<line x1="1403.4" y1="1409.0" x2="1656.5" y2="1409.0" stroke-width="1.5"/>
<line x1="1404.8" y1="1409.9" x2="1555.8" y2="1409.9" stroke-width="1.2"/>
<line x1="1404.8" y1="1418.5" x2="1575.4" y2="1418.5" stroke-width="2"/>
<line x1="1404.8" y1="1419.7" x2="1625.8" y2="1419.7" stroke-width="2.2"/>
<line x1="1404.8" y1="1420.8" x2="1516.7" y2="1420.8" stroke-width="1.6"/>
<line x1="1403.4" y1="1421.6" x2="1703.3" y2="1421.6" stroke-width="1.5"/>
<line x1="1403.4" y1="1456.0" x2="1649.3" y2="1456.0" stroke-width="1.5"/>
<line x1="1403.4" y1="1471.7" x2="1462.7" y2="1471.7" stroke-width="1.5"/>
<line x1="1403.4" y1="1482.9" x2="1419.6" y2="1482.9" stroke-width="1.5"/>
<line x1="1403.4" y1="1490.7" x2="1428.0" y2="1490.7" stroke-width="1.5"/>
<line x1="1403.4" y1="1492.1" x2="1416.0" y2="1492.1" stroke-width="1.5"/>
<line x1="1403.4" y1="1493.2" x2="1432.7" y2="1493.2" stroke-width="1.5"/>
<line x1="1403.4" y1="1494.6" x2="1437.8" y2="1494.6" stroke-width="1.5"/>
<line x1="1403.4" y1="1495.8" x2="1424.3" y2="1495.8" stroke-width="1.5"/>
<line x1="1403.4" y1="1496.9" x2="1428.5" y2="1496.9" stroke-width="1.5"/>
<line x1="1403.4" y1="1498.6" x2="1537.6" y2="1498.6" stroke-width="1.5"/>
<line x1="1403.4" y1="1500.0" x2="1416.0" y2="1500.0" stroke-width="1.5"/>
<line x1="1403.4" y1="1501.1" x2="1424.3" y2="1501.1" stroke-width="1.5"/>
<line x1="1403.4" y1="1503.0" x2="1434.4" y2="1503.0" stroke-width="1.5"/>
<line x1="1403.4" y1="1504.7" x2="1414.8" y2="1504.7" stroke-width="1.5"/>
<line x1="1403.4" y1="1520.1" x2="1435.5" y2="1520.1" stroke-width="1.5"/>
<line x1="1403.4" y1="1521.8" x2="1441.1" y2="1521.8" stroke-width="1.5"/>
<line x1="1403.4" y1="1527.4" x2="1534.0" y2="1527.4" stroke-width="1.5"/>
<line x1="1502.7" y1="1528.5" x2="1534.0" y2="1528.5" stroke-width="2.4"/>
<line x1="1502.7" y1="1529.6" x2="1575.4" y2="1529.6" stroke-width="2"/>
<line x1="1502.7" y1="1530.7" x2="1525.1" y2="1530.7" stroke-width="2"/>
<line x1="1511.1" y1="1531.8" x2="1592.2" y2="1531.8" stroke-width="1.5"/>
<line x1="1403.4" y1="1533.0" x2="1632.8" y2="1533.0" stroke-width="1.5"/>
<line x1="1403.4" y1="1534.4" x2="1471.9" y2="1534.4" stroke-width="1.5"/>
<line x1="1403.4" y1="1536.0" x2="1417.4" y2="1536.0" stroke-width="1.5"/>
<line x1="1403.4" y1="1539.4" x2="1518.1" y2="1539.4" stroke-width="1.5"/>
<line x1="1403.4" y1="1559.3" x2="1466.3" y2="1559.3" stroke-width="1.5"/>
<line x1="1403.4" y1="1560.1" x2="1464.9" y2="1560.1" stroke-width="1.5"/>
<line x1="1403.4" y1="1567.3" x2="1436.1" y2="1567.3" stroke-width="1.5"/>
<line x1="1403.4" y1="1568.5" x2="1427.1" y2="1568.5" stroke-width="1.5"/>
<line x1="1403.4" y1="1569.6" x2="1531.2" y2="1569.6" stroke-width="1.5"/>
<line x1="1403.4" y1="1589.2" x2="1723.7" y2="1589.2" stroke-width="1.5"/>
<line x1="1404.8" y1="1590.6" x2="1422.9" y2="1590.6" stroke-width="2"/>
<line x1="1403.4" y1="1591.4" x2="1422.9" y2="1591.4" stroke-width="1.5"/>
<line x1="1403.4" y1="1594.8" x2="1416.8" y2="1594.8" stroke-width="1.5"/>
<line x1="1403.4" y1="1617.1" x2="1415.4" y2="1617.1" stroke-width="1.5"/>
<line x1="1403.4" y1="1619.4" x2="1411.8" y2="1619.4" stroke-width="1.5"/>
<line x1="1403.4" y1="1635.6" x2="1424.9" y2="1635.6" stroke-width="1.5"/>
<line x1="1404.8" y1="1637.0" x2="1417.4" y2="1637.0" stroke-width="2.4"/>
<line x1="1404.8" y1="1638.4" x2="1417.4" y2="1638.4" stroke-width="2"/>
<line x1="1404.8" y1="1639.5" x2="1435.5" y2="1639.5" stroke-width="2.4"/>
<line x1="1404.8" y1="1640.6" x2="1627.2" y2="1640.6" stroke-width="3"/>
<line x1="1403.4" y1="1641.8" x2="1711.1" y2="1641.8" stroke-width="1.5"/>
<line x1="1403.4" y1="1646.5" x2="1478.3" y2="1646.5" stroke-width="1.5"/>
<line x1="1403.4" y1="1647.9" x2="1443.9" y2="1647.9" stroke-width="1.5"/>
<line x1="1403.4" y1="1652.1" x2="1577.7" y2="1652.1" stroke-width="1.5"/>
<line x1="1403.4" y1="1653.2" x2="1497.1" y2="1653.2" stroke-width="1.5"/>
<line x1="1403.4" y1="1670.9" x2="1497.6" y2="1670.9" stroke-width="1.5"/>
<line x1="1403.4" y1="1675.1" x2="1621.6" y2="1675.1" stroke-width="1.5"/>
<line x1="1403.4" y1="1683.7" x2="1416.0" y2="1683.7" stroke-width="1.5"/>
<line x1="1416.0" y1="1684.8" x2="1471.9" y2="1684.8" stroke-width="1.5"/>
<line x1="1452.3" y1="1686.0" x2="1562.0" y2="1686.0" stroke-width="1.5"/>
<line x1="1474.7" y1="1687.1" x2="1537.6" y2="1687.1" stroke-width="2.4"/>
<line x1="1471.9" y1="1688.2" x2="1513.9" y2="1688.2" stroke-width="2"/>
<line x1="1450.9" y1="1689.3" x2="1537.6" y2="1689.3" stroke-width="1.5"/>
<line x1="1403.4" y1="1690.7" x2="1491.5" y2="1690.7" stroke-width="1.5"/>
<line x1="1403.4" y1="1695.2" x2="1620.7" y2="1695.2" stroke-width="1.5"/>
<line x1="1403.4" y1="1701.3" x2="1452.3" y2="1701.3" stroke-width="1.5"/>
<line x1="1404.8" y1="1702.5" x2="1417.4" y2="1702.5" stroke-width="2.4"/>
<line x1="1404.8" y1="1703.6" x2="1417.4" y2="1703.6" stroke-width="2"/>
<line x1="1403.4" y1="1705.3" x2="1472.5" y2="1705.3" stroke-width="1.5"/>
<line x1="1416.0" y1="1706.7" x2="1428.5" y2="1706.7" stroke-width="2"/>
<line x1="1416.0" y1="1708.1" x2="1428.5" y2="1708.1" stroke-width="2"/>
<line x1="1428.5" y1="1709.5" x2="1438.9" y2="1709.5" stroke-width="2"/>
<line x1="1428.5" y1="1710.6" x2="1438.9" y2="1710.6" stroke-width="1.5"/>
<line x1="1403.4" y1="1712.0" x2="1464.9" y2="1712.0" stroke-width="1.5"/>
<line x1="1403.4" y1="1720.1" x2="1405.6" y2="1720.1" stroke-width="1.5"/>
<line x1="1403.4" y1="1740.2" x2="1699.9" y2="1740.2" stroke-width="1.5"/>
<line x1="1404.8" y1="1741.4" x2="1572.6" y2="1741.4" stroke-width="1.2"/>
<line x1="1403.4" y1="1743.0" x2="1435.5" y2="1743.0" stroke-width="1.5"/>
<line x1="1403.4" y1="1744.4" x2="1443.9" y2="1744.4" stroke-width="1.5"/>
<line x1="1435.5" y1="1745.6" x2="1499.9" y2="1745.6" stroke-width="1.5"/>
<line x1="1435.5" y1="1746.7" x2="1491.5" y2="1746.7" stroke-width="2"/>
<line x1="1403.4" y1="1747.8" x2="1491.5" y2="1747.8" stroke-width="1.5"/>
<line x1="1403.4" y1="1748.9" x2="1504.6" y2="1748.9" stroke-width="1.5"/>
<line x1="1404.8" y1="1759.5" x2="1520.9" y2="1759.5" stroke-width="2.6"/>
<line x1="1403.4" y1="1760.1" x2="1649.6" y2="1760.1" stroke-width="1.5"/>
<line x1="1403.4" y1="1771.0" x2="1446.2" y2="1771.0" stroke-width="1.5"/>
</g>
<polyline points="1404.8,1393.4 1511.1,1395.3 1592.2,1398.1 1670.0,1400.4 1685.9,1402.3 1699.9,1405.7 1681.7,1406.2 1656.5,1407.9 1639.8,1409.0" fill="none" stroke="#d9281c" stroke-width="1.7"/>
<polyline points="1567.0,1398.1 1592.2,1398.1" stroke="#d9281c" stroke-width="2.4"/>
<polyline points="1656.5,1401.5 1685.9,1402.3" stroke="#d9281c" stroke-width="2.2"/>
<polyline points="1639.8,1408.2 1684.5,1405.4" stroke="#d9281c" stroke-width="2.2"/>
<line x1="1466.00" y1="963.10" x2="1466.00" y2="1772.40" stroke="#62b30c" stroke-width="1.9"/>
<rect x="1403.40" y="963.10" width="405.10" height="809.30" fill="none" stroke="#000" stroke-width="1.5"/>
<rect x="1372.30" y="963.10" width="24.30" height="809.30" fill="none" stroke="#000" stroke-width="1.5"/>
<text x="1403.4" y="959.0" font-size="16" text-anchor="middle">0.2</text>
<line x1="1414.60" y1="963.10" x2="1414.60" y2="967.60" stroke="#000" stroke-width="1.1"/>
<text x="1414.6" y="959.0" font-size="16" text-anchor="middle">0.4</text>
<text x="1466.0" y="959.0" font-size="16" text-anchor="middle">0.59</text>
<line x1="1523.10" y1="963.10" x2="1523.10" y2="967.60" stroke="#000" stroke-width="1.1"/>
<text x="1523.1" y="959.0" font-size="16" text-anchor="middle">0.8</text>
<text x="1466.0" y="1792.5" font-size="16" text-anchor="middle">0.25</text>
<line x1="1588.00" y1="1772.40" x2="1588.00" y2="1767.90" stroke="#000" stroke-width="1.1"/>
<text x="1587.0" y="1794.3" font-size="16" text-anchor="middle">10<tspan dy="-7.5" font-size="12.5">−3</tspan></text>
<line x1="1641.20" y1="1772.40" x2="1641.20" y2="1767.90" stroke="#000" stroke-width="1.1"/>
<text x="1640.2" y="1794.3" font-size="16" text-anchor="middle">10<tspan dy="-7.5" font-size="12.5">−5</tspan></text>
<line x1="1695.10" y1="1772.40" x2="1695.10" y2="1767.90" stroke="#000" stroke-width="1.1"/>
<text x="1694.1" y="1797.8" font-size="16" text-anchor="middle">10<tspan dy="-7.5" font-size="12.5">−8</tspan></text>
<line x1="1807.60" y1="1772.40" x2="1807.60" y2="1767.90" stroke="#000" stroke-width="1.1"/>
<text x="1806.6" y="1794.3" font-size="16" text-anchor="middle">10<tspan dy="-7.5" font-size="9.5" textLength="21" lengthAdjust="spacingAndGlyphs">−20</tspan></text>
<text x="1596.0" y="945.6" font-size="16" text-anchor="middle">G-Score</text>
<text x="1611.8" y="1818.5" font-size="16" text-anchor="middle">FDR q-value</text>
<text x="1370" y="928.2" font-size="17" font-weight="bold" textLength="419" lengthAdjust="spacingAndGlyphs">Recurrent Breast and Ovarian Tumor Amplifications</text>
<text x="1304.5" y="1003.2" font-size="16" text-anchor="middle">1</text>
<text x="1345.0" y="1074.7" font-size="16" text-anchor="middle">2</text>
<text x="1304.5" y="1139.7" font-size="16" text-anchor="middle">3</text>
<text x="1345.0" y="1196.0" font-size="16" text-anchor="middle">4</text>
<text x="1304.5" y="1251.1" font-size="16" text-anchor="middle">5</text>
<text x="1345.0" y="1300.9" font-size="16" text-anchor="middle">6</text>
<text x="1304.5" y="1348.6" font-size="16" text-anchor="middle">7</text>
<text x="1345.0" y="1394.0" font-size="16" text-anchor="middle">8</text>
<text x="1304.5" y="1432.9" font-size="16" text-anchor="middle">9</text>
<text x="1345.0" y="1471.0" font-size="16" text-anchor="middle">10</text>
<text x="1304.5" y="1509.6" font-size="16" text-anchor="middle">11</text>
<text x="1345.0" y="1546.8" font-size="16" text-anchor="middle">12</text>
<text x="1304.5" y="1580.2" font-size="16" text-anchor="middle">13</text>
<text x="1345.0" y="1609.2" font-size="16" text-anchor="middle">14</text>
<text x="1304.5" y="1635.7" font-size="16" text-anchor="middle">15</text>
<text x="1345.0" y="1660.4" font-size="16" text-anchor="middle">16</text>
<text x="1304.5" y="1685.1" font-size="16" text-anchor="middle">17</text>
<text x="1345.0" y="1708.0" font-size="16" text-anchor="middle">18</text>
<text x="1304.5" y="1727.5" font-size="16" text-anchor="middle">19</text>
<text x="1345.0" y="1746.2" font-size="16" text-anchor="middle">20</text>
<text x="1304.5" y="1760.0" font-size="16" text-anchor="middle">21</text>
<text x="1345.0" y="1771.7" font-size="16" text-anchor="middle">22</text>
<polyline points="1808.5,966.3 1823.8,966.3 1856.0,958.5" fill="none" stroke="#000" stroke-width="1.5"/>
<text x="1859.6" y="964.3" font-size="16.3">1p36.21</text>
<polyline points="1808.5,967.2 1823.8,967.2 1856.0,974.4" fill="none" stroke="#000" stroke-width="1.5"/>
<text x="1859.6" y="980.2" font-size="16.3">1p36.13</text>
<polyline points="1808.5,1001.4 1823.8,1001.4 1856.0,990.4" fill="none" stroke="#000" stroke-width="1.5"/>
<text x="1859.6" y="996.2" font-size="16.3">1q21.1</text>
<polyline points="1808.5,1001.9 1823.8,1001.9 1856.0,1006.3" fill="none" stroke="#000" stroke-width="1.5"/>
<text x="1859.6" y="1012.1" font-size="16.3">1q21.1</text>
<polyline points="1808.5,1002.7 1823.8,1002.7 1856.0,1022.3" fill="none" stroke="#000" stroke-width="1.5"/>
<text x="1859.6" y="1028.1" font-size="16.3">1q21.2</text>
<polyline points="1808.5,1027.8 1823.8,1027.8 1856.0,1038.2" fill="none" stroke="#000" stroke-width="1.5"/>
<text x="1859.6" y="1044.0" font-size="16.3">1q42.2</text>
<polyline points="1808.5,1044.7 1823.8,1044.7 1856.0,1054.1" fill="none" stroke="#000" stroke-width="1.5"/>
<text x="1859.6" y="1059.9" font-size="16.3">2p21</text>
<polyline points="1808.5,1060.3 1823.8,1060.3 1856.0,1070.1" fill="none" stroke="#000" stroke-width="1.5"/>
<text x="1859.6" y="1075.9" font-size="16.3">2q11.1</text>
<polyline points="1808.5,1066.0 1823.8,1066.0 1856.0,1086.0" fill="none" stroke="#000" stroke-width="1.5"/>
<text x="1859.6" y="1091.8" font-size="16.3">2q13</text>
<polyline points="1808.5,1072.0 1823.8,1072.0 1856.0,1102.0" fill="none" stroke="#000" stroke-width="1.5"/>
<text x="1859.6" y="1107.8" font-size="16.3">2q21.1</text>
<polyline points="1808.5,1073.3 1823.8,1073.3 1856.0,1117.9" fill="none" stroke="#000" stroke-width="1.5"/>
<text x="1859.6" y="1123.7" font-size="16.3">2q21.2</text>
<polyline points="1808.5,1081.1 1823.8,1081.1 1856.0,1133.8" fill="none" stroke="#000" stroke-width="1.5"/>
<text x="1859.6" y="1139.6" font-size="16.3">2q24.2</text>
<polyline points="1808.5,1153.5 1823.8,1153.5 1856.0,1149.8" fill="none" stroke="#000" stroke-width="1.5"/>
<text x="1859.6" y="1155.6" font-size="16.3">3q26.2</text>
<polyline points="1808.5,1160.9 1823.8,1160.9 1856.0,1165.7" fill="none" stroke="#000" stroke-width="1.5"/>
<text x="1859.6" y="1171.5" font-size="16.3">3q29</text>
<polyline points="1808.5,1161.7 1823.8,1161.7 1856.0,1181.7" fill="none" stroke="#000" stroke-width="1.5"/>
<text x="1859.6" y="1187.5" font-size="16.3">4p16.3</text>
<polyline points="1808.5,1173.4 1823.8,1173.4 1856.0,1197.6" fill="none" stroke="#000" stroke-width="1.5"/>
<text x="1859.6" y="1203.4" font-size="16.3">4p11</text>
<polyline points="1808.5,1219.4 1823.8,1219.4 1856.0,1213.5" fill="none" stroke="#000" stroke-width="1.5"/>
<text x="1859.6" y="1219.3" font-size="16.3">4q35.2</text>
<polyline points="1808.5,1228.0 1823.8,1228.0 1856.0,1229.5" fill="none" stroke="#000" stroke-width="1.5"/>
<text x="1859.6" y="1235.3" font-size="16.3">5p13.2</text>
<polyline points="1808.5,1273.5 1823.8,1273.5 1856.0,1245.4" fill="none" stroke="#000" stroke-width="1.5"/>
<text x="1859.6" y="1251.2" font-size="16.3">6p22.3</text>
<polyline points="1808.5,1278.3 1823.8,1278.3 1856.0,1261.4" fill="none" stroke="#000" stroke-width="1.5"/>
<text x="1859.6" y="1267.2" font-size="16.3">6p21.32</text>
<polyline points="1808.5,1307.3 1823.8,1307.3 1856.0,1277.3" fill="none" stroke="#000" stroke-width="1.5"/>
<text x="1859.6" y="1283.1" font-size="16.3">6q23.2</text>
<polyline points="1808.5,1334.6 1823.8,1334.6 1856.0,1293.2" fill="none" stroke="#000" stroke-width="1.5"/>
<text x="1859.6" y="1299.0" font-size="16.3">7p12.1</text>
<polyline points="1808.5,1335.5 1823.8,1335.5 1856.0,1309.2" fill="none" stroke="#000" stroke-width="1.5"/>
<text x="1859.6" y="1315.0" font-size="16.3">7p11.2</text>
<polyline points="1808.5,1339.0 1823.8,1339.0 1856.0,1325.1" fill="none" stroke="#000" stroke-width="1.5"/>
<text x="1859.6" y="1330.9" font-size="16.3">7q11.23</text>
<polyline points="1808.5,1362.8 1823.8,1362.8 1856.0,1341.1" fill="none" stroke="#000" stroke-width="1.5"/>
<text x="1859.6" y="1346.9" font-size="16.3">7q36.1</text>
<polyline points="1808.5,1370.0 1823.8,1370.0 1856.0,1357.0" fill="none" stroke="#000" stroke-width="1.5"/>
<text x="1859.6" y="1362.8" font-size="16.3">8p23.1</text>
<polyline points="1808.5,1389.0 1823.8,1389.0 1856.0,1372.9" fill="none" stroke="#000" stroke-width="1.5"/>
<text x="1859.6" y="1378.7" font-size="16.3">8q21.13</text>
<polyline points="1808.5,1405.5 1823.8,1405.5 1856.0,1388.9" fill="none" stroke="#000" stroke-width="1.5"/>
<text x="1859.6" y="1394.7" font-size="16.3">8q24.22</text>
<polyline points="1808.5,1419.4 1823.8,1419.4 1856.0,1404.8" fill="none" stroke="#000" stroke-width="1.5"/>
<text x="1859.6" y="1410.6" font-size="16.3">9p13.2</text>
<polyline points="1808.5,1421.1 1823.8,1421.1 1856.0,1420.8" fill="none" stroke="#000" stroke-width="1.5"/>
<text x="1859.6" y="1426.6" font-size="16.3">9p11.2</text>
<polyline points="1808.5,1422.0 1823.8,1422.0 1856.0,1436.7" fill="none" stroke="#000" stroke-width="1.5"/>
<text x="1859.6" y="1442.5" font-size="16.3">9q13</text>
<polyline points="1808.5,1455.8 1823.8,1455.8 1856.0,1452.6" fill="none" stroke="#000" stroke-width="1.5"/>
<text x="1859.6" y="1458.4" font-size="16.3">10q11.21</text>
<polyline points="1808.5,1498.7 1823.8,1498.7 1856.0,1468.6" fill="none" stroke="#000" stroke-width="1.5"/>
<text x="1859.6" y="1474.4" font-size="16.3">11p11.2</text>
<polyline points="1808.5,1532.5 1823.8,1532.5 1856.0,1484.5" fill="none" stroke="#000" stroke-width="1.5"/>
<text x="1859.6" y="1490.3" font-size="16.3">12q12</text>
<polyline points="1808.5,1538.1 1823.8,1538.1 1856.0,1500.5" fill="none" stroke="#000" stroke-width="1.5"/>
<text x="1859.6" y="1506.3" font-size="16.3">12q14.2</text>
<polyline points="1808.5,1569.7 1823.8,1569.7 1856.0,1516.4" fill="none" stroke="#000" stroke-width="1.5"/>
<text x="1859.6" y="1522.2" font-size="16.3">13q14.2</text>
<polyline points="1808.5,1588.8 1823.8,1588.8 1856.0,1532.3" fill="none" stroke="#000" stroke-width="1.5"/>
<text x="1859.6" y="1538.1" font-size="16.3">14q11.2</text>
<polyline points="1808.5,1640.8 1823.8,1640.8 1856.0,1548.3" fill="none" stroke="#000" stroke-width="1.5"/>
<text x="1859.6" y="1554.1" font-size="16.3">15q26.1</text>
<polyline points="1808.5,1643.0 1823.8,1643.0 1856.0,1564.2" fill="none" stroke="#000" stroke-width="1.5"/>
<text x="1859.6" y="1570.0" font-size="16.3">15q26.3</text>
<polyline points="1808.5,1646.9 1823.8,1646.9 1856.0,1580.2" fill="none" stroke="#000" stroke-width="1.5"/>
<text x="1859.6" y="1586.0" font-size="16.3">16p13.11</text>
<polyline points="1808.5,1651.6 1823.8,1651.6 1856.0,1596.1" fill="none" stroke="#000" stroke-width="1.5"/>
<text x="1859.6" y="1601.9" font-size="16.3">16p11.2</text>
<polyline points="1808.5,1670.3 1823.8,1670.3 1856.0,1612.0" fill="none" stroke="#000" stroke-width="1.5"/>
<text x="1859.6" y="1617.8" font-size="16.3">17p12</text>
<polyline points="1808.5,1673.7 1823.8,1673.7 1856.0,1628.0" fill="none" stroke="#000" stroke-width="1.5"/>
<text x="1859.6" y="1633.8" font-size="16.3">17q11.2</text>
<polyline points="1808.5,1685.9 1823.8,1685.9 1856.0,1643.9" fill="none" stroke="#000" stroke-width="1.5"/>
<text x="1859.6" y="1649.7" font-size="16.3">17q24.1</text>
<polyline points="1808.5,1688.0 1823.8,1688.0 1856.0,1659.9" fill="none" stroke="#000" stroke-width="1.5"/>
<text x="1859.6" y="1665.7" font-size="16.3">17q25.1</text>
<polyline points="1808.5,1695.0 1823.8,1695.0 1856.0,1675.8" fill="none" stroke="#000" stroke-width="1.5"/>
<text x="1859.6" y="1681.6" font-size="16.3">18p11.21</text>
<polyline points="1808.5,1705.4 1823.8,1705.4 1856.0,1691.7" fill="none" stroke="#000" stroke-width="1.5"/>
<text x="1859.6" y="1697.5" font-size="16.3">18q21.31</text>
<polyline points="1808.5,1739.6 1823.8,1739.6 1856.0,1707.7" fill="none" stroke="#000" stroke-width="1.5"/>
<text x="1859.6" y="1713.5" font-size="16.3">20p11.1</text>
<polyline points="1808.5,1740.2 1823.8,1740.2 1856.0,1723.6" fill="none" stroke="#000" stroke-width="1.5"/>
<text x="1859.6" y="1729.4" font-size="16.3">20q11.21</text>
<polyline points="1808.5,1747.0 1823.8,1747.0 1856.0,1739.6" fill="none" stroke="#000" stroke-width="1.5"/>
<text x="1859.6" y="1745.4" font-size="16.3">20q13.33</text>
<polyline points="1808.5,1760.0 1823.8,1760.0 1856.0,1755.5" fill="none" stroke="#000" stroke-width="1.5"/>
<text x="1859.6" y="1761.3" font-size="16.3">22q11.21</text>
<polyline points="1808.5,1760.8 1823.8,1760.8 1856.0,1771.4" fill="none" stroke="#000" stroke-width="1.5"/>
<text x="1859.6" y="1777.2" font-size="16.3">22q11.21</text>
<text x="1229.5" y="1020.6" font-size="16.3" fill="#db2a14" font-weight="bold" font-style="italic" stroke="#db2a14" stroke-width="0.35">PARP1, ABCB10,</text>
<text x="1229.5" y="1040.1" font-size="16.3" fill="#db2a14" font-weight="bold" font-style="italic" stroke="#db2a14" stroke-width="0.35">EIF2D, TGFB2,</text>
<text x="1229.5" y="1059.6" font-size="16.3" fill="#db2a14" font-weight="bold" font-style="italic" stroke="#db2a14" stroke-width="0.35">TRAF5, WINT3A</text>
<line x1="1347.30" y1="1028.70" x2="1372.50" y2="1025.70" stroke="#db2a14" stroke-width="3.6"/>
<text x="1276.7" y="1098.6" font-size="16.3" fill="#db2a14" font-weight="bold" font-style="italic" stroke="#db2a14" stroke-width="0.35">ABCB11</text>
<line x1="1344.30" y1="1091.50" x2="1372.50" y2="1082.00" stroke="#db2a14" stroke-width="3.6"/>
<text x="1296.2" y="1281.1" font-size="16.3" fill="#db2a14" font-weight="bold" font-style="italic" stroke="#db2a14" stroke-width="0.35">SOX4,</text>
<text x="1296.2" y="1300.6" font-size="16.3" fill="#db2a14" font-weight="bold" font-style="italic" stroke="#db2a14" stroke-width="0.35">E2F3</text>
<line x1="1346.50" y1="1280.50" x2="1372.50" y2="1274.40" stroke="#db2a14" stroke-width="3.6"/>
<text x="1291.9" y="1410.4" font-size="16.3" fill="#db2a14" font-weight="bold" font-style="italic" stroke="#db2a14" stroke-width="0.35">MYC</text>
<line x1="1332.20" y1="1405.50" x2="1372.50" y2="1400.30" stroke="#db2a14" stroke-width="3.6"/>
<text x="1313.5" y="1630.1" font-size="16.3" fill="#db2a14" font-weight="bold" font-style="italic" stroke="#db2a14" stroke-width="0.35">CHD2</text>
<line x1="1358.20" y1="1625.60" x2="1372.50" y2="1632.10" stroke="#db2a14" stroke-width="3.6"/>
<text x="4.6" y="1619.5" font-size="38" font-weight="bold">f</text>
<clipPath id="fc0"><rect x="43.5" y="1621.50" width="938.7" height="31.02"/></clipPath>
<g clip-path="url(#fc0)">
<rect x="340.20" y="1618.66" width="537.80" height="21.20" fill="#b9d5ea"/>
<rect x="616.00" y="1634.17" width="262.00" height="21.20" fill="#f07c00"/>
<line x1="807.00" y1="1621.50" x2="807.00" y2="1652.52" stroke="#000" stroke-width="2.4"/>
</g>
<rect x="43.50" y="1621.50" width="938.70" height="31.02" fill="none" stroke="#333333" stroke-width="2.2"/>
<rect x="984.40" y="1621.50" width="31.10" height="31.02" fill="#e1e1e1" stroke="#333333" stroke-width="2.2"/>
<line x1="983.30" y1="1620.40" x2="983.30" y2="1653.62" stroke="#333333" stroke-width="4.2"/>
<text x="1000.6" y="1642.4" font-size="15.3" text-anchor="middle" fill="#1a1a1a">1</text>
<clipPath id="fc1"><rect x="43.5" y="1664.92" width="938.7" height="31.02"/></clipPath>
<g clip-path="url(#fc1)">
<rect x="355.30" y="1662.08" width="619.50" height="21.20" fill="#2f7ab7"/>
<rect x="588.10" y="1677.59" width="386.70" height="21.20" fill="#f07c00"/>
<line x1="807.00" y1="1664.92" x2="807.00" y2="1695.94" stroke="#000" stroke-width="2.4"/>
</g>
<rect x="43.50" y="1664.92" width="938.70" height="31.02" fill="none" stroke="#333333" stroke-width="2.2"/>
<rect x="984.40" y="1664.92" width="31.10" height="31.02" fill="#e1e1e1" stroke="#333333" stroke-width="2.2"/>
<line x1="983.30" y1="1663.82" x2="983.30" y2="1697.04" stroke="#333333" stroke-width="4.2"/>
<text x="1000.6" y="1685.8" font-size="15.3" text-anchor="middle" fill="#1a1a1a">2</text>
<clipPath id="fc2"><rect x="43.5" y="1708.34" width="938.7" height="31.02"/></clipPath>
<g clip-path="url(#fc2)">
<rect x="777.70" y="1705.50" width="40.20" height="21.20" fill="#b9d5ea"/>
<rect x="692.20" y="1721.01" width="170.10" height="21.20" fill="#f07c00"/>
<line x1="807.00" y1="1708.34" x2="807.00" y2="1739.36" stroke="#000" stroke-width="2.4"/>
</g>
<rect x="43.50" y="1708.34" width="938.70" height="31.02" fill="none" stroke="#333333" stroke-width="2.2"/>
<rect x="984.40" y="1708.34" width="31.10" height="31.02" fill="#e1e1e1" stroke="#333333" stroke-width="2.2"/>
<line x1="983.30" y1="1707.24" x2="983.30" y2="1740.46" stroke="#333333" stroke-width="4.2"/>
<text x="1000.6" y="1729.3" font-size="15.3" text-anchor="middle" fill="#1a1a1a">4</text>
<clipPath id="fc3"><rect x="43.5" y="1751.76" width="938.7" height="31.02"/></clipPath>
<g clip-path="url(#fc3)">
<rect x="578.10" y="1748.92" width="398.60" height="21.20" fill="#b9d5ea"/>
<rect x="555.90" y="1764.43" width="259.80" height="21.20" fill="#fec876"/>
<line x1="807.00" y1="1751.76" x2="807.00" y2="1782.78" stroke="#000" stroke-width="2.4"/>
</g>
<rect x="43.50" y="1751.76" width="938.70" height="31.02" fill="none" stroke="#333333" stroke-width="2.2"/>
<rect x="984.40" y="1751.76" width="31.10" height="31.02" fill="#e1e1e1" stroke="#333333" stroke-width="2.2"/>
<line x1="983.30" y1="1750.66" x2="983.30" y2="1783.88" stroke="#333333" stroke-width="4.2"/>
<text x="1000.6" y="1772.7" font-size="15.3" text-anchor="middle" fill="#1a1a1a">5</text>
<clipPath id="fc4"><rect x="43.5" y="1795.18" width="938.7" height="31.02"/></clipPath>
<g clip-path="url(#fc4)">
<rect x="717.60" y="1792.34" width="98.10" height="21.20" fill="#fec876"/>
<rect x="508.70" y="1807.85" width="362.60" height="21.20" fill="#f07c00"/>
<line x1="807.00" y1="1795.18" x2="807.00" y2="1826.20" stroke="#000" stroke-width="2.4"/>
</g>
<rect x="43.50" y="1795.18" width="938.70" height="31.02" fill="none" stroke="#333333" stroke-width="2.2"/>
<rect x="984.40" y="1795.18" width="31.10" height="31.02" fill="#e1e1e1" stroke="#333333" stroke-width="2.2"/>
<line x1="983.30" y1="1794.08" x2="983.30" y2="1827.30" stroke="#333333" stroke-width="4.2"/>
<text x="1000.6" y="1816.1" font-size="15.3" text-anchor="middle" fill="#1a1a1a">6</text>
<clipPath id="fc5"><rect x="43.5" y="1838.60" width="938.7" height="31.02"/></clipPath>
<g clip-path="url(#fc5)">
<rect x="782.50" y="1835.76" width="35.40" height="21.20" fill="#b9d5ea"/>
<rect x="808.60" y="1851.27" width="29.50" height="21.20" fill="#f07c00"/>
<line x1="807.00" y1="1838.60" x2="807.00" y2="1869.62" stroke="#000" stroke-width="2.4"/>
</g>
<rect x="43.50" y="1838.60" width="938.70" height="31.02" fill="none" stroke="#333333" stroke-width="2.2"/>
<rect x="984.40" y="1838.60" width="31.10" height="31.02" fill="#e1e1e1" stroke="#333333" stroke-width="2.2"/>
<line x1="983.30" y1="1837.50" x2="983.30" y2="1870.72" stroke="#333333" stroke-width="4.2"/>
<text x="1000.6" y="1859.5" font-size="15.3" text-anchor="middle" fill="#1a1a1a">7</text>
<clipPath id="fc6"><rect x="43.5" y="1882.02" width="938.7" height="31.02"/></clipPath>
<g clip-path="url(#fc6)">
<rect x="620.20" y="1879.18" width="357.80" height="21.20" fill="#b9d5ea"/>
<rect x="726.60" y="1894.69" width="251.40" height="21.20" fill="#fec876"/>
<line x1="807.00" y1="1882.02" x2="807.00" y2="1913.04" stroke="#000" stroke-width="2.4"/>
</g>
<rect x="43.50" y="1882.02" width="938.70" height="31.02" fill="none" stroke="#333333" stroke-width="2.2"/>
<rect x="984.40" y="1882.02" width="31.10" height="31.02" fill="#e1e1e1" stroke="#333333" stroke-width="2.2"/>
<line x1="983.30" y1="1880.92" x2="983.30" y2="1914.14" stroke="#333333" stroke-width="4.2"/>
<text x="1000.6" y="1902.9" font-size="15.3" text-anchor="middle" fill="#1a1a1a">8</text>
<clipPath id="fc7"><rect x="43.5" y="1925.44" width="938.7" height="31.02"/></clipPath>
<g clip-path="url(#fc7)">
<rect x="744.00" y="1922.60" width="124.00" height="21.20" fill="#f07c00"/>
<rect x="803.80" y="1938.11" width="8.00" height="21.20" fill="#fec876"/>
<line x1="807.00" y1="1925.44" x2="807.00" y2="1956.46" stroke="#000" stroke-width="2.4"/>
</g>
<rect x="43.50" y="1925.44" width="938.70" height="31.02" fill="none" stroke="#333333" stroke-width="2.2"/>
<rect x="984.40" y="1925.44" width="31.10" height="31.02" fill="#e1e1e1" stroke="#333333" stroke-width="2.2"/>
<line x1="983.30" y1="1924.34" x2="983.30" y2="1957.56" stroke="#333333" stroke-width="4.2"/>
<text x="1000.6" y="1946.4" font-size="15.3" text-anchor="middle" fill="#1a1a1a">9</text>
<clipPath id="fc8"><rect x="43.5" y="1968.86" width="938.7" height="31.02"/></clipPath>
<g clip-path="url(#fc8)">
<rect x="307.00" y="1966.02" width="671.00" height="21.20" fill="#2f7ab7"/>
<rect x="304.10" y="1981.53" width="673.90" height="21.20" fill="#f07c00"/>
<line x1="807.00" y1="1968.86" x2="807.00" y2="1999.88" stroke="#000" stroke-width="2.4"/>
</g>
<rect x="43.50" y="1968.86" width="938.70" height="31.02" fill="none" stroke="#333333" stroke-width="2.2"/>
<rect x="984.40" y="1968.86" width="31.10" height="31.02" fill="#e1e1e1" stroke="#333333" stroke-width="2.2"/>
<line x1="983.30" y1="1967.76" x2="983.30" y2="2000.98" stroke="#333333" stroke-width="4.2"/>
<text x="1000.6" y="1989.8" font-size="15.3" text-anchor="middle" fill="#1a1a1a">10</text>
<clipPath id="fc9"><rect x="43.5" y="2012.28" width="938.7" height="31.02"/></clipPath>
<g clip-path="url(#fc9)">
<rect x="388.00" y="2009.44" width="590.00" height="21.20" fill="#f07c00"/>
<rect x="383.80" y="2024.95" width="594.20" height="21.20" fill="#f07c00"/>
<line x1="807.00" y1="2012.28" x2="807.00" y2="2043.30" stroke="#000" stroke-width="2.4"/>
</g>
<rect x="43.50" y="2012.28" width="938.70" height="31.02" fill="none" stroke="#333333" stroke-width="2.2"/>
<rect x="984.40" y="2012.28" width="31.10" height="31.02" fill="#e1e1e1" stroke="#333333" stroke-width="2.2"/>
<line x1="983.30" y1="2011.18" x2="983.30" y2="2044.40" stroke="#333333" stroke-width="4.2"/>
<text x="1000.6" y="2033.2" font-size="15.3" text-anchor="middle" fill="#1a1a1a">11</text>
<clipPath id="fc10"><rect x="43.5" y="2055.70" width="938.7" height="31.02"/></clipPath>
<g clip-path="url(#fc10)">
<rect x="463.80" y="2052.86" width="514.20" height="21.20" fill="#2f7ab7"/>
<rect x="638.90" y="2068.37" width="339.10" height="21.20" fill="#f07c00"/>
<line x1="807.00" y1="2055.70" x2="807.00" y2="2086.72" stroke="#000" stroke-width="2.4"/>
</g>
<rect x="43.50" y="2055.70" width="938.70" height="31.02" fill="none" stroke="#333333" stroke-width="2.2"/>
<rect x="984.40" y="2055.70" width="31.10" height="31.02" fill="#e1e1e1" stroke="#333333" stroke-width="2.2"/>
<line x1="983.30" y1="2054.60" x2="983.30" y2="2087.82" stroke="#333333" stroke-width="4.2"/>
<text x="1000.6" y="2076.6" font-size="15.3" text-anchor="middle" fill="#1a1a1a">12</text>
<clipPath id="fc11"><rect x="43.5" y="2099.12" width="938.7" height="15.51"/></clipPath>
<g clip-path="url(#fc11)">
<rect x="799.30" y="2096.28" width="19.20" height="21.20" fill="#b9d5ea"/>
<line x1="807.00" y1="2099.12" x2="807.00" y2="2114.63" stroke="#000" stroke-width="2.4"/>
</g>
<rect x="43.50" y="2099.12" width="938.70" height="15.51" fill="none" stroke="#333333" stroke-width="2.2"/>
<rect x="984.40" y="2099.12" width="31.10" height="15.51" fill="#e1e1e1" stroke="#333333" stroke-width="2.2"/>
<line x1="983.30" y1="2098.02" x2="983.30" y2="2115.73" stroke="#333333" stroke-width="4.2"/>
<text x="1000.6" y="2112.3" font-size="15.3" text-anchor="middle" fill="#1a1a1a">15</text>
<clipPath id="fc12"><rect x="43.5" y="2127.03" width="938.7" height="15.51"/></clipPath>
<g clip-path="url(#fc12)">
<rect x="613.80" y="2124.19" width="238.20" height="21.20" fill="#f07c00"/>
<line x1="807.00" y1="2127.03" x2="807.00" y2="2142.54" stroke="#000" stroke-width="2.4"/>
</g>
<rect x="43.50" y="2127.03" width="938.70" height="15.51" fill="none" stroke="#333333" stroke-width="2.2"/>
<rect x="984.40" y="2127.03" width="31.10" height="15.51" fill="#e1e1e1" stroke="#333333" stroke-width="2.2"/>
<line x1="983.30" y1="2125.93" x2="983.30" y2="2143.64" stroke="#333333" stroke-width="4.2"/>
<text x="1000.6" y="2140.2" font-size="15.3" text-anchor="middle" fill="#1a1a1a">16</text>
<clipPath id="fc13"><rect x="43.5" y="2154.94" width="938.7" height="15.51"/></clipPath>
<g clip-path="url(#fc13)">
<rect x="718.60" y="2152.10" width="101.20" height="21.20" fill="#2f7ab7"/>
<line x1="807.00" y1="2154.94" x2="807.00" y2="2170.45" stroke="#000" stroke-width="2.4"/>
</g>
<rect x="43.50" y="2154.94" width="938.70" height="15.51" fill="none" stroke="#333333" stroke-width="2.2"/>
<rect x="984.40" y="2154.94" width="31.10" height="15.51" fill="#e1e1e1" stroke="#333333" stroke-width="2.2"/>
<line x1="983.30" y1="2153.84" x2="983.30" y2="2171.55" stroke="#333333" stroke-width="4.2"/>
<text x="1000.6" y="2168.1" font-size="15.3" text-anchor="middle" fill="#1a1a1a">17</text>
<clipPath id="fc14"><rect x="43.5" y="2182.85" width="938.7" height="31.02"/></clipPath>
<g clip-path="url(#fc14)">
<rect x="457.70" y="2180.01" width="520.30" height="21.20" fill="#b9d5ea"/>
<rect x="445.20" y="2195.52" width="528.30" height="21.20" fill="#fec876"/>
<line x1="807.00" y1="2182.85" x2="807.00" y2="2213.87" stroke="#000" stroke-width="2.4"/>
</g>
<rect x="43.50" y="2182.85" width="938.70" height="31.02" fill="none" stroke="#333333" stroke-width="2.2"/>
<rect x="984.40" y="2182.85" width="31.10" height="31.02" fill="#e1e1e1" stroke="#333333" stroke-width="2.2"/>
<line x1="983.30" y1="2181.75" x2="983.30" y2="2214.97" stroke="#333333" stroke-width="4.2"/>
<text x="1000.6" y="2203.8" font-size="15.3" text-anchor="middle" fill="#1a1a1a">18</text>
<clipPath id="fc15"><rect x="43.5" y="2226.27" width="938.7" height="62.04"/></clipPath>
<g clip-path="url(#fc15)">
<rect x="222.10" y="2223.43" width="755.90" height="21.20" fill="#b9d5ea"/>
<rect x="608.30" y="2238.94" width="210.20" height="21.20" fill="#fec876"/>
<rect x="583.30" y="2254.45" width="235.20" height="21.20" fill="#fec876"/>
<rect x="718.60" y="2269.96" width="97.10" height="21.20" fill="#fec876"/>
<line x1="807.00" y1="2226.27" x2="807.00" y2="2288.31" stroke="#000" stroke-width="2.4"/>
</g>
<rect x="43.50" y="2226.27" width="938.70" height="62.04" fill="none" stroke="#333333" stroke-width="2.2"/>
<rect x="984.40" y="2226.27" width="31.10" height="62.04" fill="#e1e1e1" stroke="#333333" stroke-width="2.2"/>
<line x1="983.30" y1="2225.17" x2="983.30" y2="2289.41" stroke="#333333" stroke-width="4.2"/>
<text x="1000.6" y="2262.7" font-size="15.3" text-anchor="middle" fill="#1a1a1a">20</text>
<clipPath id="fc16"><rect x="43.5" y="2300.71" width="938.7" height="15.51"/></clipPath>
<g clip-path="url(#fc16)">
<rect x="546.00" y="2297.87" width="297.30" height="21.20" fill="#fec876"/>
<line x1="807.00" y1="2300.71" x2="807.00" y2="2316.22" stroke="#000" stroke-width="2.4"/>
</g>
<rect x="43.50" y="2300.71" width="938.70" height="15.51" fill="none" stroke="#333333" stroke-width="2.2"/>
<rect x="984.40" y="2300.71" width="31.10" height="15.51" fill="#e1e1e1" stroke="#333333" stroke-width="2.2"/>
<line x1="983.30" y1="2299.61" x2="983.30" y2="2317.32" stroke="#333333" stroke-width="4.2"/>
<text x="1000.6" y="2313.9" font-size="15.3" text-anchor="middle" fill="#1a1a1a">22</text>
<clipPath id="fc17"><rect x="43.5" y="2328.62" width="938.7" height="15.51"/></clipPath>
<g clip-path="url(#fc17)">
<rect x="806.00" y="2325.78" width="17.40" height="21.20" fill="#b9d5ea"/>
<line x1="807.00" y1="2328.62" x2="807.00" y2="2344.13" stroke="#000" stroke-width="2.4"/>
</g>
<rect x="43.50" y="2328.62" width="938.70" height="15.51" fill="none" stroke="#333333" stroke-width="2.2"/>
<rect x="984.40" y="2328.62" width="31.10" height="15.51" fill="#e1e1e1" stroke="#333333" stroke-width="2.2"/>
<line x1="983.30" y1="2327.52" x2="983.30" y2="2345.23" stroke="#333333" stroke-width="4.2"/>
<text x="1000.6" y="2341.8" font-size="15.3" text-anchor="middle" fill="#1a1a1a">23</text>
<clipPath id="fc18"><rect x="43.5" y="2356.53" width="938.7" height="31.02"/></clipPath>
<g clip-path="url(#fc18)">
<rect x="799.30" y="2353.69" width="178.70" height="21.20" fill="#b9d5ea"/>
<rect x="790.60" y="2369.20" width="184.20" height="21.20" fill="#f07c00"/>
<line x1="807.00" y1="2356.53" x2="807.00" y2="2387.55" stroke="#000" stroke-width="2.4"/>
</g>
<rect x="43.50" y="2356.53" width="938.70" height="31.02" fill="none" stroke="#333333" stroke-width="2.2"/>
<rect x="984.40" y="2356.53" width="31.10" height="31.02" fill="#e1e1e1" stroke="#333333" stroke-width="2.2"/>
<line x1="983.30" y1="2355.43" x2="983.30" y2="2388.65" stroke="#333333" stroke-width="4.2"/>
<text x="1000.6" y="2377.4" font-size="15.3" text-anchor="middle" fill="#1a1a1a">25</text>
<line x1="43.50" y1="2388.65" x2="43.50" y2="2392.75" stroke="#333333" stroke-width="3.4"/>
<text x="44.0" y="2409.1" font-size="15.9" text-anchor="middle">1.25e+08</text>
<line x1="231.30" y1="2388.65" x2="231.30" y2="2392.75" stroke="#333333" stroke-width="3.4"/>
<text x="231.8" y="2409.1" font-size="15.9" text-anchor="middle">1.5e+08</text>
<line x1="419.00" y1="2388.65" x2="419.00" y2="2392.75" stroke="#333333" stroke-width="3.4"/>
<text x="419.5" y="2409.1" font-size="15.9" text-anchor="middle">1.75e+08</text>
<line x1="606.80" y1="2388.65" x2="606.80" y2="2392.75" stroke="#333333" stroke-width="3.4"/>
<text x="607.3" y="2409.1" font-size="15.9" text-anchor="middle">2e+08</text>
<line x1="982.30" y1="2388.65" x2="982.30" y2="2392.75" stroke="#333333" stroke-width="3.4"/>
<text x="983.8" y="2409.1" font-size="15.9" text-anchor="middle">2.5e+08</text>
<line x1="795.70" y1="2388.65" x2="795.70" y2="2392.75" stroke="#333333" stroke-width="3.4"/>
<line x1="807.00" y1="2388.65" x2="807.00" y2="2392.75" stroke="#333333" stroke-width="3.4"/>
<text x="806.0" y="2399.1" font-size="14.6" fill="#d9281c" text-anchor="end" transform="rotate(-45 806.0 2399.1)" dy="10">PARP1</text>
<text x="441.0" y="2464.0" font-size="19.6">Chr1 Coordinate</text>
<text x="28.5" y="2003.7" font-size="19.0" text-anchor="middle" transform="rotate(-90 28.5 2003.7)">Patient</text>
<text x="36.0" y="2515.5" font-size="19.0">CNV Type</text>
<rect x="136.30" y="2498.20" width="18.20" height="22.00" fill="#b9d5ea"/>
<text x="159.8" y="2514.7" font-size="16.2">Gain in Primary Tumor</text>
<rect x="335.60" y="2498.20" width="18.20" height="22.00" fill="#2f7ab7"/>
<text x="359.4" y="2514.7" font-size="16.2">Amplification in Primary Tumor</text>
<rect x="591.00" y="2498.20" width="18.20" height="22.00" fill="#fec876"/>
<text x="614.8" y="2514.7" font-size="16.2">Gain in Recurrence</text>
<rect x="768.70" y="2498.20" width="18.20" height="22.00" fill="#f07c00"/>
<text x="792.5" y="2514.7" font-size="16.2">Amplification in Recurrence</text>
<text x="1038.5" y="1859.0" font-size="38" font-weight="bold">g</text>
<clipPath id="gc0"><rect x="1493.4" y="1830.6" width="380.0" height="498.0"/></clipPath>
<g clip-path="url(#gc0)">
<rect x="1493.40" y="1829.45" width="263.95" height="20.30" fill="#fda6a9"/>
<rect x="1493.40" y="1880.20" width="266.42" height="20.30" fill="#fda6a9"/>
<rect x="1493.40" y="1930.95" width="281.64" height="20.30" fill="#fda6a9"/>
<rect x="1493.40" y="1981.70" width="254.43" height="20.30" fill="#fda6a9"/>
<rect x="1493.40" y="2032.45" width="275.94" height="20.30" fill="#fda6a9"/>
<rect x="1493.40" y="2055.27" width="290.40" height="20.30" fill="#d72718"/>
<rect x="1493.40" y="2083.20" width="263.95" height="20.30" fill="#fda6a9"/>
<rect x="1493.40" y="2156.77" width="297.25" height="20.30" fill="#d72718"/>
<rect x="1493.40" y="2184.70" width="287.54" height="20.30" fill="#fda6a9"/>
<rect x="1493.40" y="2235.45" width="274.98" height="20.30" fill="#fda6a9"/>
<rect x="1493.40" y="2286.20" width="292.30" height="20.30" fill="#fda6a9"/>
</g>
<rect x="1493.40" y="1830.60" width="380.00" height="498.00" fill="none" stroke="#333333" stroke-width="2.2"/>
<rect x="1875.60" y="1830.60" width="35.90" height="498.00" fill="#e1e1e1" stroke="#333333" stroke-width="2.2"/>
<line x1="1874.50" y1="1829.50" x2="1874.50" y2="2329.70" stroke="#333333" stroke-width="4.4"/>
<line x1="1488.20" y1="1851.00" x2="1492.30" y2="1851.00" stroke="#333333" stroke-width="3.4"/>
<text x="1480.0" y="1858.0" font-size="19.6" text-anchor="end" fill="#4d4d4d">HALLMARK_UV_RESPONSE_UP</text>
<line x1="1488.20" y1="1901.75" x2="1492.30" y2="1901.75" stroke="#333333" stroke-width="3.4"/>
<text x="1480.0" y="1908.8" font-size="19.6" text-anchor="end" fill="#4d4d4d">HALLMARK_UV_RESPONSE_DN</text>
<line x1="1488.20" y1="1952.50" x2="1492.30" y2="1952.50" stroke="#333333" stroke-width="3.4"/>
<text x="1480.0" y="1959.5" font-size="19.6" text-anchor="end" fill="#4d4d4d">HALLMARK_TNFA_SIGNALING_VIA_NFKB</text>
<line x1="1488.20" y1="2003.25" x2="1492.30" y2="2003.25" stroke="#333333" stroke-width="3.4"/>
<text x="1480.0" y="2010.2" font-size="19.6" text-anchor="end" fill="#4d4d4d">HALLMARK_PEROXISOME</text>
<line x1="1488.20" y1="2054.00" x2="1492.30" y2="2054.00" stroke="#333333" stroke-width="3.4"/>
<text x="1480.0" y="2061.0" font-size="19.6" text-anchor="end" fill="#4d4d4d">HALLMARK_PANCREAS_BETA_CELLS</text>
<line x1="1488.20" y1="2104.75" x2="1492.30" y2="2104.75" stroke="#333333" stroke-width="3.4"/>
<text x="1480.0" y="2111.8" font-size="19.6" text-anchor="end" fill="#4d4d4d">HALLMARK_NOTCH_SIGNALING</text>
<line x1="1488.20" y1="2155.50" x2="1492.30" y2="2155.50" stroke="#333333" stroke-width="3.4"/>
<text x="1480.0" y="2162.5" font-size="19.6" text-anchor="end" fill="#4d4d4d">HALLMARK_MTORC1_SIGNALING</text>
<line x1="1488.20" y1="2206.25" x2="1492.30" y2="2206.25" stroke="#333333" stroke-width="3.4"/>
<text x="1480.0" y="2213.2" font-size="19.6" text-anchor="end" fill="#4d4d4d">HALLMARK_INTERFERON_GAMMA_RESPONSE</text>
<line x1="1488.20" y1="2257.00" x2="1492.30" y2="2257.00" stroke="#333333" stroke-width="3.4"/>
<text x="1480.0" y="2264.0" font-size="19.6" text-anchor="end" fill="#4d4d4d">HALLMARK_INTERFERON_ALPHA_RESPONSE</text>
<line x1="1488.20" y1="2307.75" x2="1492.30" y2="2307.75" stroke="#333333" stroke-width="3.4"/>
<text x="1480.0" y="2314.8" font-size="19.6" text-anchor="end" fill="#4d4d4d">HALLMARK_ANGIOGENESIS</text>
<clipPath id="gc1"><rect x="1493.4" y="2343.2" width="380.0" height="41.600000000000364"/></clipPath>
<g clip-path="url(#gc1)">
<rect x="1493.40" y="2365.57" width="285.83" height="20.30" fill="#d72718"/>
</g>
<rect x="1493.40" y="2343.20" width="380.00" height="41.60" fill="none" stroke="#333333" stroke-width="2.2"/>
<rect x="1875.60" y="2343.20" width="35.90" height="41.60" fill="#e1e1e1" stroke="#333333" stroke-width="2.2"/>
<line x1="1874.50" y1="2342.10" x2="1874.50" y2="2385.90" stroke="#333333" stroke-width="4.4"/>
<line x1="1488.20" y1="2364.30" x2="1492.30" y2="2364.30" stroke="#333333" stroke-width="3.4"/>
<text x="1480.0" y="2371.3" font-size="19.6" text-anchor="end" fill="#4d4d4d">HALLMARK_HEDGEHOG_SIGNALING</text>
<text x="1886.8" y="2079.6" font-size="19.3" text-anchor="middle" fill="#1a1a1a" transform="rotate(90 1886.8 2079.6)">Gained</text>
<text x="1886.8" y="2364.0" font-size="18.0" text-anchor="middle" fill="#1a1a1a" transform="rotate(90 1886.8 2364.0)">Lost</text>
<line x1="1493.40" y1="2385.90" x2="1493.40" y2="2390.00" stroke="#333333" stroke-width="3.4"/>
<text x="1493.4" y="2411.4" font-size="19.4" text-anchor="middle" fill="#4d4d4d">0.0</text>
<line x1="1588.55" y1="2385.90" x2="1588.55" y2="2390.00" stroke="#333333" stroke-width="3.4"/>
<text x="1588.6" y="2411.4" font-size="19.4" text-anchor="middle" fill="#4d4d4d">0.5</text>
<line x1="1683.70" y1="2385.90" x2="1683.70" y2="2390.00" stroke="#333333" stroke-width="3.4"/>
<text x="1683.7" y="2411.4" font-size="19.4" text-anchor="middle" fill="#4d4d4d">1.0</text>
<line x1="1778.85" y1="2385.90" x2="1778.85" y2="2390.00" stroke="#333333" stroke-width="3.4"/>
<text x="1778.9" y="2411.4" font-size="19.4" text-anchor="middle" fill="#4d4d4d">1.5</text>
<line x1="1874.00" y1="2385.90" x2="1874.00" y2="2390.00" stroke="#333333" stroke-width="3.4"/>
<text x="1874.0" y="2411.4" font-size="19.4" text-anchor="middle" fill="#4d4d4d">2.0</text>
<text x="1683.0" y="2439.0" font-size="24.5" text-anchor="middle">Normalized Enrichment Score</text>
<rect x="1441.00" y="2468.60" width="26.50" height="26.40" fill="#fda6a9"/>
<text x="1480.5" y="2488.6" font-size="19.5">CNV in Primary Tumors</text>
<rect x="1699.90" y="2468.60" width="26.50" height="26.40" fill="#d72718"/>
<text x="1739.4" y="2488.6" font-size="19.5">CNV in Recurrences</text>
</svg>
</body></html>
